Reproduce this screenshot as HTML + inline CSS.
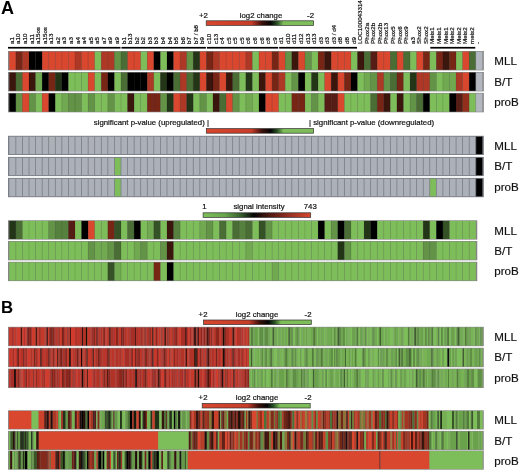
<!DOCTYPE html>
<html><head><meta charset="utf-8"><style>
html,body{margin:0;padding:0;background:#fff;}
svg{display:block;will-change:transform;}
text{font-family:"Liberation Sans",sans-serif;fill:#111;}
.big{font-size:18px;font-weight:bold;fill:#000;}
.bigb{font-size:16.8px;font-weight:bold;fill:#000;}
.cl{font-size:6.2px;fill:#111;stroke:#111;stroke-width:0.2px;}
.lt{font-size:7.8px;fill:#111;stroke:#111;stroke-width:0.2px;}
.rl{font-size:11.6px;fill:#111;stroke:#111;stroke-width:0.18px;}
</style></head><body>
<svg width="520" height="472" viewBox="0 0 520 472">
<defs><filter id="hb" x="-0.01" y="-0.1" width="1.02" height="1.2"><feGaussianBlur stdDeviation="0.45 0"/></filter><filter id="hb2" x="-0.01" y="-0.1" width="1.02" height="1.2"><feGaussianBlur stdDeviation="0.75 0"/></filter><filter id="sb" x="-0.01" y="-0.05" width="1.02" height="1.1"><feGaussianBlur stdDeviation="0.35"/></filter><filter id="tb" x="-0.05" y="-0.05" width="1.1" height="1.1"><feGaussianBlur stdDeviation="0.3"/></filter></defs>
<rect width="520" height="472" fill="#fff"/>
<text x="1" y="13.9" class="big">A</text>
<g filter="url(#tb)">
<text transform="translate(13.89,43.9) rotate(-90)" class="cl" xml:space="preserve">a1</text>
<text transform="translate(20.46,43.9) rotate(-90)" class="cl" xml:space="preserve">a10</text>
<text transform="translate(27.03,43.9) rotate(-90)" class="cl" xml:space="preserve">a10</text>
<text transform="translate(33.59,43.9) rotate(-90)" class="cl" xml:space="preserve">a11</text>
<text transform="translate(40.16,43.9) rotate(-90)" class="cl" xml:space="preserve">a15os</text>
<text transform="translate(46.73,43.9) rotate(-90)" class="cl" xml:space="preserve">a15os</text>
<text transform="translate(53.30,43.9) rotate(-90)" class="cl" xml:space="preserve">a13</text>
<text transform="translate(59.88,43.9) rotate(-90)" class="cl" xml:space="preserve">a2</text>
<text transform="translate(66.44,43.9) rotate(-90)" class="cl" xml:space="preserve">a3</text>
<text transform="translate(73.02,43.9) rotate(-90)" class="cl" xml:space="preserve">a3</text>
<text transform="translate(79.58,43.9) rotate(-90)" class="cl" xml:space="preserve">a4</text>
<text transform="translate(86.16,43.9) rotate(-90)" class="cl" xml:space="preserve">a4</text>
<text transform="translate(92.72,43.9) rotate(-90)" class="cl" xml:space="preserve">a5</text>
<text transform="translate(99.30,43.9) rotate(-90)" class="cl" xml:space="preserve">a5</text>
<text transform="translate(105.86,43.9) rotate(-90)" class="cl" xml:space="preserve">a7</text>
<text transform="translate(112.44,43.9) rotate(-90)" class="cl" xml:space="preserve">a9</text>
<text transform="translate(119.00,43.9) rotate(-90)" class="cl" xml:space="preserve">a9</text>
<text transform="translate(125.58,43.9) rotate(-90)" class="cl" xml:space="preserve">b1</text>
<text transform="translate(132.15,43.9) rotate(-90)" class="cl" xml:space="preserve">b13</text>
<text transform="translate(138.72,43.9) rotate(-90)" class="cl" xml:space="preserve">b2</text>
<text transform="translate(145.29,43.9) rotate(-90)" class="cl" xml:space="preserve">b2</text>
<text transform="translate(151.86,43.9) rotate(-90)" class="cl" xml:space="preserve">b3</text>
<text transform="translate(158.43,43.9) rotate(-90)" class="cl" xml:space="preserve">b3</text>
<text transform="translate(165.00,43.9) rotate(-90)" class="cl" xml:space="preserve">b4</text>
<text transform="translate(171.57,43.9) rotate(-90)" class="cl" xml:space="preserve">b4</text>
<text transform="translate(178.14,43.9) rotate(-90)" class="cl" xml:space="preserve">b5</text>
<text transform="translate(184.71,43.9) rotate(-90)" class="cl" xml:space="preserve">b6</text>
<text transform="translate(191.28,43.9) rotate(-90)" class="cl" xml:space="preserve">b7</text>
<text transform="translate(197.85,43.9) rotate(-90)" class="cl" xml:space="preserve">b7 / b8</text>
<text transform="translate(204.42,43.9) rotate(-90)" class="cl" xml:space="preserve">b9</text>
<text transform="translate(210.99,43.9) rotate(-90)" class="cl" xml:space="preserve">c10</text>
<text transform="translate(217.56,43.9) rotate(-90)" class="cl" xml:space="preserve">c13</text>
<text transform="translate(224.13,43.9) rotate(-90)" class="cl" xml:space="preserve">c4</text>
<text transform="translate(230.70,43.9) rotate(-90)" class="cl" xml:space="preserve">c5</text>
<text transform="translate(237.27,43.9) rotate(-90)" class="cl" xml:space="preserve">c5</text>
<text transform="translate(243.84,43.9) rotate(-90)" class="cl" xml:space="preserve">c5</text>
<text transform="translate(250.41,43.9) rotate(-90)" class="cl" xml:space="preserve">c6</text>
<text transform="translate(256.98,43.9) rotate(-90)" class="cl" xml:space="preserve">c6</text>
<text transform="translate(263.55,43.9) rotate(-90)" class="cl" xml:space="preserve">c6</text>
<text transform="translate(270.12,43.9) rotate(-90)" class="cl" xml:space="preserve">c8</text>
<text transform="translate(276.69,43.9) rotate(-90)" class="cl" xml:space="preserve">c9</text>
<text transform="translate(283.26,43.9) rotate(-90)" class="cl" xml:space="preserve">d1</text>
<text transform="translate(289.83,43.9) rotate(-90)" class="cl" xml:space="preserve">d10</text>
<text transform="translate(296.40,43.9) rotate(-90)" class="cl" xml:space="preserve">d11</text>
<text transform="translate(302.97,43.9) rotate(-90)" class="cl" xml:space="preserve">d12</text>
<text transform="translate(309.54,43.9) rotate(-90)" class="cl" xml:space="preserve">d13</text>
<text transform="translate(316.11,43.9) rotate(-90)" class="cl" xml:space="preserve">d13</text>
<text transform="translate(322.68,43.9) rotate(-90)" class="cl" xml:space="preserve">d3</text>
<text transform="translate(329.25,43.9) rotate(-90)" class="cl" xml:space="preserve">d3</text>
<text transform="translate(335.82,43.9) rotate(-90)" class="cl" xml:space="preserve">d3 / d4</text>
<text transform="translate(342.39,43.9) rotate(-90)" class="cl" xml:space="preserve">d8</text>
<text transform="translate(348.96,43.9) rotate(-90)" class="cl" xml:space="preserve">d8</text>
<text transform="translate(355.53,43.9) rotate(-90)" class="cl" xml:space="preserve">d9</text>
<text transform="translate(362.10,43.9) rotate(-90)" class="cl" xml:space="preserve">LOC100043314</text>
<text transform="translate(368.67,43.9) rotate(-90)" class="cl" xml:space="preserve">Phox2a</text>
<text transform="translate(375.24,43.9) rotate(-90)" class="cl" xml:space="preserve">Phox2b</text>
<text transform="translate(381.81,43.9) rotate(-90)" class="cl" xml:space="preserve">Phox2b</text>
<text transform="translate(388.38,43.9) rotate(-90)" class="cl" xml:space="preserve">Phox13</text>
<text transform="translate(394.95,43.9) rotate(-90)" class="cl" xml:space="preserve">Phox5</text>
<text transform="translate(401.52,43.9) rotate(-90)" class="cl" xml:space="preserve">Phox6</text>
<text transform="translate(408.09,43.9) rotate(-90)" class="cl" xml:space="preserve">Phox9</text>
<text transform="translate(414.66,43.9) rotate(-90)" class="cl" xml:space="preserve">a3</text>
<text transform="translate(421.23,43.9) rotate(-90)" class="cl" xml:space="preserve">Shox2</text>
<text transform="translate(427.80,43.9) rotate(-90)" class="cl" xml:space="preserve">Shox2</text>
<text transform="translate(434.37,43.9) rotate(-90)" class="cl" xml:space="preserve">Meis1</text>
<text transform="translate(440.94,43.9) rotate(-90)" class="cl" xml:space="preserve">Meis1</text>
<text transform="translate(447.51,43.9) rotate(-90)" class="cl" xml:space="preserve">Meis1</text>
<text transform="translate(454.08,43.9) rotate(-90)" class="cl" xml:space="preserve">Meis2</text>
<text transform="translate(460.65,43.9) rotate(-90)" class="cl" xml:space="preserve">Meis2</text>
<text transform="translate(467.22,43.9) rotate(-90)" class="cl" xml:space="preserve">Meis2</text>
<text transform="translate(473.79,43.9) rotate(-90)" class="cl" xml:space="preserve">meis2</text>
<text transform="translate(480.36,43.9) rotate(-90)" class="cl" xml:space="preserve">-</text>
</g>
<rect x="8.00" y="46.9" width="112.49" height="1.7" fill="#000"/>
<rect x="121.49" y="46.9" width="84.41" height="1.7" fill="#000"/>
<rect x="206.90" y="46.9" width="71.27" height="1.7" fill="#000"/>
<rect x="279.17" y="46.9" width="77.84" height="1.7" fill="#000"/>
<rect x="430.28" y="46.9" width="44.99" height="1.7" fill="#000"/>
<text x="199" y="17.6" class="lt">+2</text>
<text x="261" y="17.6" class="lt" text-anchor="middle">log2 change</text>
<text x="314" y="17.6" class="lt" text-anchor="end">-2</text>
<defs><linearGradient id="lg83" x1="0" x2="1" y1="0" y2="0"><stop offset="0" stop-color="#d8462e"/><stop offset="0.42" stop-color="#c83c28"/><stop offset="0.52" stop-color="#3c0f0a"/><stop offset="0.6" stop-color="#050505"/><stop offset="0.66" stop-color="#285023"/><stop offset="0.72" stop-color="#7ebe5a"/><stop offset="1" stop-color="#7ebe5a"/></linearGradient></defs>
<rect x="206.20" y="20.80" width="107.40" height="4.6" fill="url(#lg83)" stroke="#333" stroke-width="0.7"/>
<g filter="url(#sb)">
<rect x="8.00" y="51.00" width="475.84" height="19.40" fill="#858585"/>
<rect x="9.30" y="51.60" width="6.59" height="18.20" fill="#d8462e"/>
<rect x="15.87" y="51.60" width="6.59" height="18.20" fill="#772619"/>
<rect x="22.44" y="51.60" width="6.59" height="18.20" fill="#ad3825"/>
<rect x="29.01" y="51.60" width="6.59" height="18.20" fill="#000000"/>
<rect x="35.58" y="51.60" width="6.59" height="18.20" fill="#000000"/>
<rect x="42.15" y="51.60" width="6.59" height="18.20" fill="#d8462e"/>
<rect x="48.72" y="51.60" width="6.59" height="18.20" fill="#d8462e"/>
<rect x="55.29" y="51.60" width="6.59" height="18.20" fill="#d8462e"/>
<rect x="61.86" y="51.60" width="6.59" height="18.20" fill="#d8462e"/>
<rect x="68.43" y="51.60" width="6.59" height="18.20" fill="#d8462e"/>
<rect x="75.00" y="51.60" width="6.59" height="18.20" fill="#ad3825"/>
<rect x="81.57" y="51.60" width="6.59" height="18.20" fill="#d8462e"/>
<rect x="88.14" y="51.60" width="6.59" height="18.20" fill="#d8462e"/>
<rect x="94.71" y="51.60" width="6.59" height="18.20" fill="#7ebe5a"/>
<rect x="101.28" y="51.60" width="6.59" height="18.20" fill="#ad3825"/>
<rect x="107.85" y="51.60" width="6.59" height="18.20" fill="#ad3825"/>
<rect x="114.42" y="51.60" width="6.59" height="18.20" fill="#629346"/>
<rect x="120.99" y="51.60" width="6.59" height="18.20" fill="#486d34"/>
<rect x="127.56" y="51.60" width="6.59" height="18.20" fill="#d8462e"/>
<rect x="134.13" y="51.60" width="6.59" height="18.20" fill="#d8462e"/>
<rect x="140.70" y="51.60" width="6.59" height="18.20" fill="#7ebe5a"/>
<rect x="147.27" y="51.60" width="6.59" height="18.20" fill="#d8462e"/>
<rect x="153.84" y="51.60" width="6.59" height="18.20" fill="#000000"/>
<rect x="160.41" y="51.60" width="6.59" height="18.20" fill="#7ebe5a"/>
<rect x="166.98" y="51.60" width="6.59" height="18.20" fill="#000000"/>
<rect x="173.55" y="51.60" width="6.59" height="18.20" fill="#d8462e"/>
<rect x="180.12" y="51.60" width="6.59" height="18.20" fill="#ad3825"/>
<rect x="186.69" y="51.60" width="6.59" height="18.20" fill="#629346"/>
<rect x="193.26" y="51.60" width="6.59" height="18.20" fill="#233419"/>
<rect x="199.83" y="51.60" width="6.59" height="18.20" fill="#d8462e"/>
<rect x="206.40" y="51.60" width="6.59" height="18.20" fill="#772619"/>
<rect x="212.97" y="51.60" width="6.59" height="18.20" fill="#ad3825"/>
<rect x="219.54" y="51.60" width="6.59" height="18.20" fill="#d8462e"/>
<rect x="226.11" y="51.60" width="6.59" height="18.20" fill="#d8462e"/>
<rect x="232.68" y="51.60" width="6.59" height="18.20" fill="#d8462e"/>
<rect x="239.25" y="51.60" width="6.59" height="18.20" fill="#d8462e"/>
<rect x="245.82" y="51.60" width="6.59" height="18.20" fill="#ad3825"/>
<rect x="252.39" y="51.60" width="6.59" height="18.20" fill="#7ebe5a"/>
<rect x="258.96" y="51.60" width="6.59" height="18.20" fill="#d8462e"/>
<rect x="265.53" y="51.60" width="6.59" height="18.20" fill="#d8462e"/>
<rect x="272.10" y="51.60" width="6.59" height="18.20" fill="#772619"/>
<rect x="278.67" y="51.60" width="6.59" height="18.20" fill="#d8462e"/>
<rect x="285.24" y="51.60" width="6.59" height="18.20" fill="#629346"/>
<rect x="291.81" y="51.60" width="6.59" height="18.20" fill="#3b130d"/>
<rect x="298.38" y="51.60" width="6.59" height="18.20" fill="#d8462e"/>
<rect x="304.95" y="51.60" width="6.59" height="18.20" fill="#629346"/>
<rect x="311.52" y="51.60" width="6.59" height="18.20" fill="#7ebe5a"/>
<rect x="318.09" y="51.60" width="6.59" height="18.20" fill="#772619"/>
<rect x="324.66" y="51.60" width="6.59" height="18.20" fill="#3b130d"/>
<rect x="331.23" y="51.60" width="6.59" height="18.20" fill="#d8462e"/>
<rect x="337.80" y="51.60" width="6.59" height="18.20" fill="#d8462e"/>
<rect x="344.37" y="51.60" width="6.59" height="18.20" fill="#d8462e"/>
<rect x="350.94" y="51.60" width="6.59" height="18.20" fill="#7ebe5a"/>
<rect x="357.51" y="51.60" width="6.59" height="18.20" fill="#3b130d"/>
<rect x="364.08" y="51.60" width="6.59" height="18.20" fill="#486d34"/>
<rect x="370.65" y="51.60" width="6.59" height="18.20" fill="#561c12"/>
<rect x="377.22" y="51.60" width="6.59" height="18.20" fill="#d8462e"/>
<rect x="383.79" y="51.60" width="6.59" height="18.20" fill="#d8462e"/>
<rect x="390.36" y="51.60" width="6.59" height="18.20" fill="#486d34"/>
<rect x="396.93" y="51.60" width="6.59" height="18.20" fill="#d8462e"/>
<rect x="403.50" y="51.60" width="6.59" height="18.20" fill="#486d34"/>
<rect x="410.07" y="51.60" width="6.59" height="18.20" fill="#7ebe5a"/>
<rect x="416.64" y="51.60" width="6.59" height="18.20" fill="#d8462e"/>
<rect x="423.21" y="51.60" width="6.59" height="18.20" fill="#772619"/>
<rect x="429.78" y="51.60" width="6.59" height="18.20" fill="#7ebe5a"/>
<rect x="436.35" y="51.60" width="6.59" height="18.20" fill="#772619"/>
<rect x="442.92" y="51.60" width="6.59" height="18.20" fill="#3b130d"/>
<rect x="449.49" y="51.60" width="6.59" height="18.20" fill="#772619"/>
<rect x="456.06" y="51.60" width="6.59" height="18.20" fill="#7ebe5a"/>
<rect x="462.63" y="51.60" width="6.59" height="18.20" fill="#d8462e"/>
<rect x="469.20" y="51.60" width="6.59" height="18.20" fill="#486d34"/>
<rect x="475.77" y="51.60" width="6.59" height="18.20" fill="#b2b7c0"/>
<rect x="15.52" y="51.60" width="0.7" height="18.20" fill="rgba(0,0,0,0.16)"/>
<rect x="22.09" y="51.60" width="0.7" height="18.20" fill="rgba(0,0,0,0.16)"/>
<rect x="28.66" y="51.60" width="0.7" height="18.20" fill="rgba(0,0,0,0.16)"/>
<rect x="35.23" y="51.60" width="0.7" height="18.20" fill="rgba(0,0,0,0.16)"/>
<rect x="41.80" y="51.60" width="0.7" height="18.20" fill="rgba(0,0,0,0.16)"/>
<rect x="48.37" y="51.60" width="0.7" height="18.20" fill="rgba(0,0,0,0.16)"/>
<rect x="54.94" y="51.60" width="0.7" height="18.20" fill="rgba(0,0,0,0.16)"/>
<rect x="61.51" y="51.60" width="0.7" height="18.20" fill="rgba(0,0,0,0.16)"/>
<rect x="68.08" y="51.60" width="0.7" height="18.20" fill="rgba(0,0,0,0.16)"/>
<rect x="74.65" y="51.60" width="0.7" height="18.20" fill="rgba(0,0,0,0.16)"/>
<rect x="81.22" y="51.60" width="0.7" height="18.20" fill="rgba(0,0,0,0.16)"/>
<rect x="87.79" y="51.60" width="0.7" height="18.20" fill="rgba(0,0,0,0.16)"/>
<rect x="94.36" y="51.60" width="0.7" height="18.20" fill="rgba(0,0,0,0.16)"/>
<rect x="100.93" y="51.60" width="0.7" height="18.20" fill="rgba(0,0,0,0.16)"/>
<rect x="107.50" y="51.60" width="0.7" height="18.20" fill="rgba(0,0,0,0.16)"/>
<rect x="114.07" y="51.60" width="0.7" height="18.20" fill="rgba(0,0,0,0.16)"/>
<rect x="120.64" y="51.60" width="0.7" height="18.20" fill="rgba(0,0,0,0.16)"/>
<rect x="127.21" y="51.60" width="0.7" height="18.20" fill="rgba(0,0,0,0.16)"/>
<rect x="133.78" y="51.60" width="0.7" height="18.20" fill="rgba(0,0,0,0.16)"/>
<rect x="140.35" y="51.60" width="0.7" height="18.20" fill="rgba(0,0,0,0.16)"/>
<rect x="146.92" y="51.60" width="0.7" height="18.20" fill="rgba(0,0,0,0.16)"/>
<rect x="153.49" y="51.60" width="0.7" height="18.20" fill="rgba(0,0,0,0.16)"/>
<rect x="160.06" y="51.60" width="0.7" height="18.20" fill="rgba(0,0,0,0.16)"/>
<rect x="166.63" y="51.60" width="0.7" height="18.20" fill="rgba(0,0,0,0.16)"/>
<rect x="173.20" y="51.60" width="0.7" height="18.20" fill="rgba(0,0,0,0.16)"/>
<rect x="179.77" y="51.60" width="0.7" height="18.20" fill="rgba(0,0,0,0.16)"/>
<rect x="186.34" y="51.60" width="0.7" height="18.20" fill="rgba(0,0,0,0.16)"/>
<rect x="192.91" y="51.60" width="0.7" height="18.20" fill="rgba(0,0,0,0.16)"/>
<rect x="199.48" y="51.60" width="0.7" height="18.20" fill="rgba(0,0,0,0.16)"/>
<rect x="206.05" y="51.60" width="0.7" height="18.20" fill="rgba(0,0,0,0.16)"/>
<rect x="212.62" y="51.60" width="0.7" height="18.20" fill="rgba(0,0,0,0.16)"/>
<rect x="219.19" y="51.60" width="0.7" height="18.20" fill="rgba(0,0,0,0.16)"/>
<rect x="225.76" y="51.60" width="0.7" height="18.20" fill="rgba(0,0,0,0.16)"/>
<rect x="232.33" y="51.60" width="0.7" height="18.20" fill="rgba(0,0,0,0.16)"/>
<rect x="238.90" y="51.60" width="0.7" height="18.20" fill="rgba(0,0,0,0.16)"/>
<rect x="245.47" y="51.60" width="0.7" height="18.20" fill="rgba(0,0,0,0.16)"/>
<rect x="252.04" y="51.60" width="0.7" height="18.20" fill="rgba(0,0,0,0.16)"/>
<rect x="258.61" y="51.60" width="0.7" height="18.20" fill="rgba(0,0,0,0.16)"/>
<rect x="265.18" y="51.60" width="0.7" height="18.20" fill="rgba(0,0,0,0.16)"/>
<rect x="271.75" y="51.60" width="0.7" height="18.20" fill="rgba(0,0,0,0.16)"/>
<rect x="278.32" y="51.60" width="0.7" height="18.20" fill="rgba(0,0,0,0.16)"/>
<rect x="284.89" y="51.60" width="0.7" height="18.20" fill="rgba(0,0,0,0.16)"/>
<rect x="291.46" y="51.60" width="0.7" height="18.20" fill="rgba(0,0,0,0.16)"/>
<rect x="298.03" y="51.60" width="0.7" height="18.20" fill="rgba(0,0,0,0.16)"/>
<rect x="304.60" y="51.60" width="0.7" height="18.20" fill="rgba(0,0,0,0.16)"/>
<rect x="311.17" y="51.60" width="0.7" height="18.20" fill="rgba(0,0,0,0.16)"/>
<rect x="317.74" y="51.60" width="0.7" height="18.20" fill="rgba(0,0,0,0.16)"/>
<rect x="324.31" y="51.60" width="0.7" height="18.20" fill="rgba(0,0,0,0.16)"/>
<rect x="330.88" y="51.60" width="0.7" height="18.20" fill="rgba(0,0,0,0.16)"/>
<rect x="337.45" y="51.60" width="0.7" height="18.20" fill="rgba(0,0,0,0.16)"/>
<rect x="344.02" y="51.60" width="0.7" height="18.20" fill="rgba(0,0,0,0.16)"/>
<rect x="350.59" y="51.60" width="0.7" height="18.20" fill="rgba(0,0,0,0.16)"/>
<rect x="357.16" y="51.60" width="0.7" height="18.20" fill="rgba(0,0,0,0.16)"/>
<rect x="363.73" y="51.60" width="0.7" height="18.20" fill="rgba(0,0,0,0.16)"/>
<rect x="370.30" y="51.60" width="0.7" height="18.20" fill="rgba(0,0,0,0.16)"/>
<rect x="376.87" y="51.60" width="0.7" height="18.20" fill="rgba(0,0,0,0.16)"/>
<rect x="383.44" y="51.60" width="0.7" height="18.20" fill="rgba(0,0,0,0.16)"/>
<rect x="390.01" y="51.60" width="0.7" height="18.20" fill="rgba(0,0,0,0.16)"/>
<rect x="396.58" y="51.60" width="0.7" height="18.20" fill="rgba(0,0,0,0.16)"/>
<rect x="403.15" y="51.60" width="0.7" height="18.20" fill="rgba(0,0,0,0.16)"/>
<rect x="409.72" y="51.60" width="0.7" height="18.20" fill="rgba(0,0,0,0.16)"/>
<rect x="416.29" y="51.60" width="0.7" height="18.20" fill="rgba(0,0,0,0.16)"/>
<rect x="422.86" y="51.60" width="0.7" height="18.20" fill="rgba(0,0,0,0.16)"/>
<rect x="429.43" y="51.60" width="0.7" height="18.20" fill="rgba(0,0,0,0.16)"/>
<rect x="436.00" y="51.60" width="0.7" height="18.20" fill="rgba(0,0,0,0.16)"/>
<rect x="442.57" y="51.60" width="0.7" height="18.20" fill="rgba(0,0,0,0.16)"/>
<rect x="449.14" y="51.60" width="0.7" height="18.20" fill="rgba(0,0,0,0.16)"/>
<rect x="455.71" y="51.60" width="0.7" height="18.20" fill="rgba(0,0,0,0.16)"/>
<rect x="462.28" y="51.60" width="0.7" height="18.20" fill="rgba(0,0,0,0.16)"/>
<rect x="468.85" y="51.60" width="0.7" height="18.20" fill="rgba(0,0,0,0.16)"/>
<rect x="475.42" y="51.60" width="0.7" height="18.20" fill="rgba(0,0,0,0.16)"/>
<rect x="8.00" y="72.00" width="475.84" height="19.40" fill="#858585"/>
<rect x="9.30" y="72.60" width="6.59" height="18.20" fill="#3b130d"/>
<rect x="15.87" y="72.60" width="6.59" height="18.20" fill="#486d34"/>
<rect x="22.44" y="72.60" width="6.59" height="18.20" fill="#d8462e"/>
<rect x="29.01" y="72.60" width="6.59" height="18.20" fill="#3b130d"/>
<rect x="35.58" y="72.60" width="6.59" height="18.20" fill="#70a950"/>
<rect x="42.15" y="72.60" width="6.59" height="18.20" fill="#000000"/>
<rect x="48.72" y="72.60" width="6.59" height="18.20" fill="#772619"/>
<rect x="55.29" y="72.60" width="6.59" height="18.20" fill="#233419"/>
<rect x="61.86" y="72.60" width="6.59" height="18.20" fill="#000000"/>
<rect x="68.43" y="72.60" width="6.59" height="18.20" fill="#7ebe5a"/>
<rect x="75.00" y="72.60" width="6.59" height="18.20" fill="#7ebe5a"/>
<rect x="81.57" y="72.60" width="6.59" height="18.20" fill="#7ebe5a"/>
<rect x="88.14" y="72.60" width="6.59" height="18.20" fill="#d8462e"/>
<rect x="94.71" y="72.60" width="6.59" height="18.20" fill="#7ebe5a"/>
<rect x="101.28" y="72.60" width="6.59" height="18.20" fill="#772619"/>
<rect x="107.85" y="72.60" width="6.59" height="18.20" fill="#000000"/>
<rect x="114.42" y="72.60" width="6.59" height="18.20" fill="#7ebe5a"/>
<rect x="120.99" y="72.60" width="6.59" height="18.20" fill="#486d34"/>
<rect x="127.56" y="72.60" width="6.59" height="18.20" fill="#000000"/>
<rect x="134.13" y="72.60" width="6.59" height="18.20" fill="#000000"/>
<rect x="140.70" y="72.60" width="6.59" height="18.20" fill="#000000"/>
<rect x="147.27" y="72.60" width="6.59" height="18.20" fill="#ad3825"/>
<rect x="153.84" y="72.60" width="6.59" height="18.20" fill="#7ebe5a"/>
<rect x="160.41" y="72.60" width="6.59" height="18.20" fill="#233419"/>
<rect x="166.98" y="72.60" width="6.59" height="18.20" fill="#000000"/>
<rect x="173.55" y="72.60" width="6.59" height="18.20" fill="#486d34"/>
<rect x="180.12" y="72.60" width="6.59" height="18.20" fill="#ad3825"/>
<rect x="186.69" y="72.60" width="6.59" height="18.20" fill="#486d34"/>
<rect x="193.26" y="72.60" width="6.59" height="18.20" fill="#233419"/>
<rect x="199.83" y="72.60" width="6.59" height="18.20" fill="#d8462e"/>
<rect x="206.40" y="72.60" width="6.59" height="18.20" fill="#3b130d"/>
<rect x="212.97" y="72.60" width="6.59" height="18.20" fill="#772619"/>
<rect x="219.54" y="72.60" width="6.59" height="18.20" fill="#d8462e"/>
<rect x="226.11" y="72.60" width="6.59" height="18.20" fill="#3b130d"/>
<rect x="232.68" y="72.60" width="6.59" height="18.20" fill="#486d34"/>
<rect x="239.25" y="72.60" width="6.59" height="18.20" fill="#7ebe5a"/>
<rect x="245.82" y="72.60" width="6.59" height="18.20" fill="#233419"/>
<rect x="252.39" y="72.60" width="6.59" height="18.20" fill="#7ebe5a"/>
<rect x="258.96" y="72.60" width="6.59" height="18.20" fill="#3b130d"/>
<rect x="265.53" y="72.60" width="6.59" height="18.20" fill="#d8462e"/>
<rect x="272.10" y="72.60" width="6.59" height="18.20" fill="#772619"/>
<rect x="278.67" y="72.60" width="6.59" height="18.20" fill="#ad3825"/>
<rect x="285.24" y="72.60" width="6.59" height="18.20" fill="#7ebe5a"/>
<rect x="291.81" y="72.60" width="6.59" height="18.20" fill="#629346"/>
<rect x="298.38" y="72.60" width="6.59" height="18.20" fill="#000000"/>
<rect x="304.95" y="72.60" width="6.59" height="18.20" fill="#7ebe5a"/>
<rect x="311.52" y="72.60" width="6.59" height="18.20" fill="#233419"/>
<rect x="318.09" y="72.60" width="6.59" height="18.20" fill="#7ebe5a"/>
<rect x="324.66" y="72.60" width="6.59" height="18.20" fill="#d8462e"/>
<rect x="331.23" y="72.60" width="6.59" height="18.20" fill="#3b130d"/>
<rect x="337.80" y="72.60" width="6.59" height="18.20" fill="#d8462e"/>
<rect x="344.37" y="72.60" width="6.59" height="18.20" fill="#772619"/>
<rect x="350.94" y="72.60" width="6.59" height="18.20" fill="#000000"/>
<rect x="357.51" y="72.60" width="6.59" height="18.20" fill="#7ebe5a"/>
<rect x="364.08" y="72.60" width="6.59" height="18.20" fill="#70a950"/>
<rect x="370.65" y="72.60" width="6.59" height="18.20" fill="#629346"/>
<rect x="377.22" y="72.60" width="6.59" height="18.20" fill="#ad3825"/>
<rect x="383.79" y="72.60" width="6.59" height="18.20" fill="#629346"/>
<rect x="390.36" y="72.60" width="6.59" height="18.20" fill="#486d34"/>
<rect x="396.93" y="72.60" width="6.59" height="18.20" fill="#772619"/>
<rect x="403.50" y="72.60" width="6.59" height="18.20" fill="#7ebe5a"/>
<rect x="410.07" y="72.60" width="6.59" height="18.20" fill="#233419"/>
<rect x="416.64" y="72.60" width="6.59" height="18.20" fill="#ad3825"/>
<rect x="423.21" y="72.60" width="6.59" height="18.20" fill="#ad3825"/>
<rect x="429.78" y="72.60" width="6.59" height="18.20" fill="#629346"/>
<rect x="436.35" y="72.60" width="6.59" height="18.20" fill="#7ebe5a"/>
<rect x="442.92" y="72.60" width="6.59" height="18.20" fill="#70a950"/>
<rect x="449.49" y="72.60" width="6.59" height="18.20" fill="#70a950"/>
<rect x="456.06" y="72.60" width="6.59" height="18.20" fill="#ad3825"/>
<rect x="462.63" y="72.60" width="6.59" height="18.20" fill="#d8462e"/>
<rect x="469.20" y="72.60" width="6.59" height="18.20" fill="#000000"/>
<rect x="475.77" y="72.60" width="6.59" height="18.20" fill="#b2b7c0"/>
<rect x="15.52" y="72.60" width="0.7" height="18.20" fill="rgba(0,0,0,0.16)"/>
<rect x="22.09" y="72.60" width="0.7" height="18.20" fill="rgba(0,0,0,0.16)"/>
<rect x="28.66" y="72.60" width="0.7" height="18.20" fill="rgba(0,0,0,0.16)"/>
<rect x="35.23" y="72.60" width="0.7" height="18.20" fill="rgba(0,0,0,0.16)"/>
<rect x="41.80" y="72.60" width="0.7" height="18.20" fill="rgba(0,0,0,0.16)"/>
<rect x="48.37" y="72.60" width="0.7" height="18.20" fill="rgba(0,0,0,0.16)"/>
<rect x="54.94" y="72.60" width="0.7" height="18.20" fill="rgba(0,0,0,0.16)"/>
<rect x="61.51" y="72.60" width="0.7" height="18.20" fill="rgba(0,0,0,0.16)"/>
<rect x="68.08" y="72.60" width="0.7" height="18.20" fill="rgba(0,0,0,0.16)"/>
<rect x="74.65" y="72.60" width="0.7" height="18.20" fill="rgba(0,0,0,0.16)"/>
<rect x="81.22" y="72.60" width="0.7" height="18.20" fill="rgba(0,0,0,0.16)"/>
<rect x="87.79" y="72.60" width="0.7" height="18.20" fill="rgba(0,0,0,0.16)"/>
<rect x="94.36" y="72.60" width="0.7" height="18.20" fill="rgba(0,0,0,0.16)"/>
<rect x="100.93" y="72.60" width="0.7" height="18.20" fill="rgba(0,0,0,0.16)"/>
<rect x="107.50" y="72.60" width="0.7" height="18.20" fill="rgba(0,0,0,0.16)"/>
<rect x="114.07" y="72.60" width="0.7" height="18.20" fill="rgba(0,0,0,0.16)"/>
<rect x="120.64" y="72.60" width="0.7" height="18.20" fill="rgba(0,0,0,0.16)"/>
<rect x="127.21" y="72.60" width="0.7" height="18.20" fill="rgba(0,0,0,0.16)"/>
<rect x="133.78" y="72.60" width="0.7" height="18.20" fill="rgba(0,0,0,0.16)"/>
<rect x="140.35" y="72.60" width="0.7" height="18.20" fill="rgba(0,0,0,0.16)"/>
<rect x="146.92" y="72.60" width="0.7" height="18.20" fill="rgba(0,0,0,0.16)"/>
<rect x="153.49" y="72.60" width="0.7" height="18.20" fill="rgba(0,0,0,0.16)"/>
<rect x="160.06" y="72.60" width="0.7" height="18.20" fill="rgba(0,0,0,0.16)"/>
<rect x="166.63" y="72.60" width="0.7" height="18.20" fill="rgba(0,0,0,0.16)"/>
<rect x="173.20" y="72.60" width="0.7" height="18.20" fill="rgba(0,0,0,0.16)"/>
<rect x="179.77" y="72.60" width="0.7" height="18.20" fill="rgba(0,0,0,0.16)"/>
<rect x="186.34" y="72.60" width="0.7" height="18.20" fill="rgba(0,0,0,0.16)"/>
<rect x="192.91" y="72.60" width="0.7" height="18.20" fill="rgba(0,0,0,0.16)"/>
<rect x="199.48" y="72.60" width="0.7" height="18.20" fill="rgba(0,0,0,0.16)"/>
<rect x="206.05" y="72.60" width="0.7" height="18.20" fill="rgba(0,0,0,0.16)"/>
<rect x="212.62" y="72.60" width="0.7" height="18.20" fill="rgba(0,0,0,0.16)"/>
<rect x="219.19" y="72.60" width="0.7" height="18.20" fill="rgba(0,0,0,0.16)"/>
<rect x="225.76" y="72.60" width="0.7" height="18.20" fill="rgba(0,0,0,0.16)"/>
<rect x="232.33" y="72.60" width="0.7" height="18.20" fill="rgba(0,0,0,0.16)"/>
<rect x="238.90" y="72.60" width="0.7" height="18.20" fill="rgba(0,0,0,0.16)"/>
<rect x="245.47" y="72.60" width="0.7" height="18.20" fill="rgba(0,0,0,0.16)"/>
<rect x="252.04" y="72.60" width="0.7" height="18.20" fill="rgba(0,0,0,0.16)"/>
<rect x="258.61" y="72.60" width="0.7" height="18.20" fill="rgba(0,0,0,0.16)"/>
<rect x="265.18" y="72.60" width="0.7" height="18.20" fill="rgba(0,0,0,0.16)"/>
<rect x="271.75" y="72.60" width="0.7" height="18.20" fill="rgba(0,0,0,0.16)"/>
<rect x="278.32" y="72.60" width="0.7" height="18.20" fill="rgba(0,0,0,0.16)"/>
<rect x="284.89" y="72.60" width="0.7" height="18.20" fill="rgba(0,0,0,0.16)"/>
<rect x="291.46" y="72.60" width="0.7" height="18.20" fill="rgba(0,0,0,0.16)"/>
<rect x="298.03" y="72.60" width="0.7" height="18.20" fill="rgba(0,0,0,0.16)"/>
<rect x="304.60" y="72.60" width="0.7" height="18.20" fill="rgba(0,0,0,0.16)"/>
<rect x="311.17" y="72.60" width="0.7" height="18.20" fill="rgba(0,0,0,0.16)"/>
<rect x="317.74" y="72.60" width="0.7" height="18.20" fill="rgba(0,0,0,0.16)"/>
<rect x="324.31" y="72.60" width="0.7" height="18.20" fill="rgba(0,0,0,0.16)"/>
<rect x="330.88" y="72.60" width="0.7" height="18.20" fill="rgba(0,0,0,0.16)"/>
<rect x="337.45" y="72.60" width="0.7" height="18.20" fill="rgba(0,0,0,0.16)"/>
<rect x="344.02" y="72.60" width="0.7" height="18.20" fill="rgba(0,0,0,0.16)"/>
<rect x="350.59" y="72.60" width="0.7" height="18.20" fill="rgba(0,0,0,0.16)"/>
<rect x="357.16" y="72.60" width="0.7" height="18.20" fill="rgba(0,0,0,0.16)"/>
<rect x="363.73" y="72.60" width="0.7" height="18.20" fill="rgba(0,0,0,0.16)"/>
<rect x="370.30" y="72.60" width="0.7" height="18.20" fill="rgba(0,0,0,0.16)"/>
<rect x="376.87" y="72.60" width="0.7" height="18.20" fill="rgba(0,0,0,0.16)"/>
<rect x="383.44" y="72.60" width="0.7" height="18.20" fill="rgba(0,0,0,0.16)"/>
<rect x="390.01" y="72.60" width="0.7" height="18.20" fill="rgba(0,0,0,0.16)"/>
<rect x="396.58" y="72.60" width="0.7" height="18.20" fill="rgba(0,0,0,0.16)"/>
<rect x="403.15" y="72.60" width="0.7" height="18.20" fill="rgba(0,0,0,0.16)"/>
<rect x="409.72" y="72.60" width="0.7" height="18.20" fill="rgba(0,0,0,0.16)"/>
<rect x="416.29" y="72.60" width="0.7" height="18.20" fill="rgba(0,0,0,0.16)"/>
<rect x="422.86" y="72.60" width="0.7" height="18.20" fill="rgba(0,0,0,0.16)"/>
<rect x="429.43" y="72.60" width="0.7" height="18.20" fill="rgba(0,0,0,0.16)"/>
<rect x="436.00" y="72.60" width="0.7" height="18.20" fill="rgba(0,0,0,0.16)"/>
<rect x="442.57" y="72.60" width="0.7" height="18.20" fill="rgba(0,0,0,0.16)"/>
<rect x="449.14" y="72.60" width="0.7" height="18.20" fill="rgba(0,0,0,0.16)"/>
<rect x="455.71" y="72.60" width="0.7" height="18.20" fill="rgba(0,0,0,0.16)"/>
<rect x="462.28" y="72.60" width="0.7" height="18.20" fill="rgba(0,0,0,0.16)"/>
<rect x="468.85" y="72.60" width="0.7" height="18.20" fill="rgba(0,0,0,0.16)"/>
<rect x="475.42" y="72.60" width="0.7" height="18.20" fill="rgba(0,0,0,0.16)"/>
<rect x="8.00" y="92.90" width="475.84" height="19.40" fill="#858585"/>
<rect x="9.30" y="93.50" width="6.59" height="18.20" fill="#000000"/>
<rect x="15.87" y="93.50" width="6.59" height="18.20" fill="#629346"/>
<rect x="22.44" y="93.50" width="6.59" height="18.20" fill="#d8462e"/>
<rect x="29.01" y="93.50" width="6.59" height="18.20" fill="#629346"/>
<rect x="35.58" y="93.50" width="6.59" height="18.20" fill="#7ebe5a"/>
<rect x="42.15" y="93.50" width="6.59" height="18.20" fill="#d8462e"/>
<rect x="48.72" y="93.50" width="6.59" height="18.20" fill="#000000"/>
<rect x="55.29" y="93.50" width="6.59" height="18.20" fill="#7ebe5a"/>
<rect x="61.86" y="93.50" width="6.59" height="18.20" fill="#70a950"/>
<rect x="68.43" y="93.50" width="6.59" height="18.20" fill="#629346"/>
<rect x="75.00" y="93.50" width="6.59" height="18.20" fill="#629346"/>
<rect x="81.57" y="93.50" width="6.59" height="18.20" fill="#7ebe5a"/>
<rect x="88.14" y="93.50" width="6.59" height="18.20" fill="#629346"/>
<rect x="94.71" y="93.50" width="6.59" height="18.20" fill="#7ebe5a"/>
<rect x="101.28" y="93.50" width="6.59" height="18.20" fill="#7ebe5a"/>
<rect x="107.85" y="93.50" width="6.59" height="18.20" fill="#629346"/>
<rect x="114.42" y="93.50" width="6.59" height="18.20" fill="#7ebe5a"/>
<rect x="120.99" y="93.50" width="6.59" height="18.20" fill="#7ebe5a"/>
<rect x="127.56" y="93.50" width="6.59" height="18.20" fill="#3b130d"/>
<rect x="134.13" y="93.50" width="6.59" height="18.20" fill="#7ebe5a"/>
<rect x="140.70" y="93.50" width="6.59" height="18.20" fill="#7ebe5a"/>
<rect x="147.27" y="93.50" width="6.59" height="18.20" fill="#772619"/>
<rect x="153.84" y="93.50" width="6.59" height="18.20" fill="#772619"/>
<rect x="160.41" y="93.50" width="6.59" height="18.20" fill="#629346"/>
<rect x="166.98" y="93.50" width="6.59" height="18.20" fill="#233419"/>
<rect x="173.55" y="93.50" width="6.59" height="18.20" fill="#d8462e"/>
<rect x="180.12" y="93.50" width="6.59" height="18.20" fill="#ad3825"/>
<rect x="186.69" y="93.50" width="6.59" height="18.20" fill="#233419"/>
<rect x="193.26" y="93.50" width="6.59" height="18.20" fill="#7ebe5a"/>
<rect x="199.83" y="93.50" width="6.59" height="18.20" fill="#629346"/>
<rect x="206.40" y="93.50" width="6.59" height="18.20" fill="#7ebe5a"/>
<rect x="212.97" y="93.50" width="6.59" height="18.20" fill="#3b130d"/>
<rect x="219.54" y="93.50" width="6.59" height="18.20" fill="#486d34"/>
<rect x="226.11" y="93.50" width="6.59" height="18.20" fill="#d8462e"/>
<rect x="232.68" y="93.50" width="6.59" height="18.20" fill="#629346"/>
<rect x="239.25" y="93.50" width="6.59" height="18.20" fill="#7ebe5a"/>
<rect x="245.82" y="93.50" width="6.59" height="18.20" fill="#70a950"/>
<rect x="252.39" y="93.50" width="6.59" height="18.20" fill="#7ebe5a"/>
<rect x="258.96" y="93.50" width="6.59" height="18.20" fill="#000000"/>
<rect x="265.53" y="93.50" width="6.59" height="18.20" fill="#d8462e"/>
<rect x="272.10" y="93.50" width="6.59" height="18.20" fill="#d8462e"/>
<rect x="278.67" y="93.50" width="6.59" height="18.20" fill="#7ebe5a"/>
<rect x="285.24" y="93.50" width="6.59" height="18.20" fill="#7ebe5a"/>
<rect x="291.81" y="93.50" width="6.59" height="18.20" fill="#772619"/>
<rect x="298.38" y="93.50" width="6.59" height="18.20" fill="#772619"/>
<rect x="304.95" y="93.50" width="6.59" height="18.20" fill="#7ebe5a"/>
<rect x="311.52" y="93.50" width="6.59" height="18.20" fill="#629346"/>
<rect x="318.09" y="93.50" width="6.59" height="18.20" fill="#7ebe5a"/>
<rect x="324.66" y="93.50" width="6.59" height="18.20" fill="#561c12"/>
<rect x="331.23" y="93.50" width="6.59" height="18.20" fill="#561c12"/>
<rect x="337.80" y="93.50" width="6.59" height="18.20" fill="#d8462e"/>
<rect x="344.37" y="93.50" width="6.59" height="18.20" fill="#7ebe5a"/>
<rect x="350.94" y="93.50" width="6.59" height="18.20" fill="#7ebe5a"/>
<rect x="357.51" y="93.50" width="6.59" height="18.20" fill="#7ebe5a"/>
<rect x="364.08" y="93.50" width="6.59" height="18.20" fill="#7ebe5a"/>
<rect x="370.65" y="93.50" width="6.59" height="18.20" fill="#486d34"/>
<rect x="377.22" y="93.50" width="6.59" height="18.20" fill="#772619"/>
<rect x="383.79" y="93.50" width="6.59" height="18.20" fill="#3b130d"/>
<rect x="390.36" y="93.50" width="6.59" height="18.20" fill="#7ebe5a"/>
<rect x="396.93" y="93.50" width="6.59" height="18.20" fill="#3b130d"/>
<rect x="403.50" y="93.50" width="6.59" height="18.20" fill="#7ebe5a"/>
<rect x="410.07" y="93.50" width="6.59" height="18.20" fill="#629346"/>
<rect x="416.64" y="93.50" width="6.59" height="18.20" fill="#486d34"/>
<rect x="423.21" y="93.50" width="6.59" height="18.20" fill="#000000"/>
<rect x="429.78" y="93.50" width="6.59" height="18.20" fill="#7ebe5a"/>
<rect x="436.35" y="93.50" width="6.59" height="18.20" fill="#7ebe5a"/>
<rect x="442.92" y="93.50" width="6.59" height="18.20" fill="#7ebe5a"/>
<rect x="449.49" y="93.50" width="6.59" height="18.20" fill="#000000"/>
<rect x="456.06" y="93.50" width="6.59" height="18.20" fill="#561c12"/>
<rect x="462.63" y="93.50" width="6.59" height="18.20" fill="#922f1f"/>
<rect x="469.20" y="93.50" width="6.59" height="18.20" fill="#7ebe5a"/>
<rect x="475.77" y="93.50" width="6.59" height="18.20" fill="#b2b7c0"/>
<rect x="15.52" y="93.50" width="0.7" height="18.20" fill="rgba(0,0,0,0.16)"/>
<rect x="22.09" y="93.50" width="0.7" height="18.20" fill="rgba(0,0,0,0.16)"/>
<rect x="28.66" y="93.50" width="0.7" height="18.20" fill="rgba(0,0,0,0.16)"/>
<rect x="35.23" y="93.50" width="0.7" height="18.20" fill="rgba(0,0,0,0.16)"/>
<rect x="41.80" y="93.50" width="0.7" height="18.20" fill="rgba(0,0,0,0.16)"/>
<rect x="48.37" y="93.50" width="0.7" height="18.20" fill="rgba(0,0,0,0.16)"/>
<rect x="54.94" y="93.50" width="0.7" height="18.20" fill="rgba(0,0,0,0.16)"/>
<rect x="61.51" y="93.50" width="0.7" height="18.20" fill="rgba(0,0,0,0.16)"/>
<rect x="68.08" y="93.50" width="0.7" height="18.20" fill="rgba(0,0,0,0.16)"/>
<rect x="74.65" y="93.50" width="0.7" height="18.20" fill="rgba(0,0,0,0.16)"/>
<rect x="81.22" y="93.50" width="0.7" height="18.20" fill="rgba(0,0,0,0.16)"/>
<rect x="87.79" y="93.50" width="0.7" height="18.20" fill="rgba(0,0,0,0.16)"/>
<rect x="94.36" y="93.50" width="0.7" height="18.20" fill="rgba(0,0,0,0.16)"/>
<rect x="100.93" y="93.50" width="0.7" height="18.20" fill="rgba(0,0,0,0.16)"/>
<rect x="107.50" y="93.50" width="0.7" height="18.20" fill="rgba(0,0,0,0.16)"/>
<rect x="114.07" y="93.50" width="0.7" height="18.20" fill="rgba(0,0,0,0.16)"/>
<rect x="120.64" y="93.50" width="0.7" height="18.20" fill="rgba(0,0,0,0.16)"/>
<rect x="127.21" y="93.50" width="0.7" height="18.20" fill="rgba(0,0,0,0.16)"/>
<rect x="133.78" y="93.50" width="0.7" height="18.20" fill="rgba(0,0,0,0.16)"/>
<rect x="140.35" y="93.50" width="0.7" height="18.20" fill="rgba(0,0,0,0.16)"/>
<rect x="146.92" y="93.50" width="0.7" height="18.20" fill="rgba(0,0,0,0.16)"/>
<rect x="153.49" y="93.50" width="0.7" height="18.20" fill="rgba(0,0,0,0.16)"/>
<rect x="160.06" y="93.50" width="0.7" height="18.20" fill="rgba(0,0,0,0.16)"/>
<rect x="166.63" y="93.50" width="0.7" height="18.20" fill="rgba(0,0,0,0.16)"/>
<rect x="173.20" y="93.50" width="0.7" height="18.20" fill="rgba(0,0,0,0.16)"/>
<rect x="179.77" y="93.50" width="0.7" height="18.20" fill="rgba(0,0,0,0.16)"/>
<rect x="186.34" y="93.50" width="0.7" height="18.20" fill="rgba(0,0,0,0.16)"/>
<rect x="192.91" y="93.50" width="0.7" height="18.20" fill="rgba(0,0,0,0.16)"/>
<rect x="199.48" y="93.50" width="0.7" height="18.20" fill="rgba(0,0,0,0.16)"/>
<rect x="206.05" y="93.50" width="0.7" height="18.20" fill="rgba(0,0,0,0.16)"/>
<rect x="212.62" y="93.50" width="0.7" height="18.20" fill="rgba(0,0,0,0.16)"/>
<rect x="219.19" y="93.50" width="0.7" height="18.20" fill="rgba(0,0,0,0.16)"/>
<rect x="225.76" y="93.50" width="0.7" height="18.20" fill="rgba(0,0,0,0.16)"/>
<rect x="232.33" y="93.50" width="0.7" height="18.20" fill="rgba(0,0,0,0.16)"/>
<rect x="238.90" y="93.50" width="0.7" height="18.20" fill="rgba(0,0,0,0.16)"/>
<rect x="245.47" y="93.50" width="0.7" height="18.20" fill="rgba(0,0,0,0.16)"/>
<rect x="252.04" y="93.50" width="0.7" height="18.20" fill="rgba(0,0,0,0.16)"/>
<rect x="258.61" y="93.50" width="0.7" height="18.20" fill="rgba(0,0,0,0.16)"/>
<rect x="265.18" y="93.50" width="0.7" height="18.20" fill="rgba(0,0,0,0.16)"/>
<rect x="271.75" y="93.50" width="0.7" height="18.20" fill="rgba(0,0,0,0.16)"/>
<rect x="278.32" y="93.50" width="0.7" height="18.20" fill="rgba(0,0,0,0.16)"/>
<rect x="284.89" y="93.50" width="0.7" height="18.20" fill="rgba(0,0,0,0.16)"/>
<rect x="291.46" y="93.50" width="0.7" height="18.20" fill="rgba(0,0,0,0.16)"/>
<rect x="298.03" y="93.50" width="0.7" height="18.20" fill="rgba(0,0,0,0.16)"/>
<rect x="304.60" y="93.50" width="0.7" height="18.20" fill="rgba(0,0,0,0.16)"/>
<rect x="311.17" y="93.50" width="0.7" height="18.20" fill="rgba(0,0,0,0.16)"/>
<rect x="317.74" y="93.50" width="0.7" height="18.20" fill="rgba(0,0,0,0.16)"/>
<rect x="324.31" y="93.50" width="0.7" height="18.20" fill="rgba(0,0,0,0.16)"/>
<rect x="330.88" y="93.50" width="0.7" height="18.20" fill="rgba(0,0,0,0.16)"/>
<rect x="337.45" y="93.50" width="0.7" height="18.20" fill="rgba(0,0,0,0.16)"/>
<rect x="344.02" y="93.50" width="0.7" height="18.20" fill="rgba(0,0,0,0.16)"/>
<rect x="350.59" y="93.50" width="0.7" height="18.20" fill="rgba(0,0,0,0.16)"/>
<rect x="357.16" y="93.50" width="0.7" height="18.20" fill="rgba(0,0,0,0.16)"/>
<rect x="363.73" y="93.50" width="0.7" height="18.20" fill="rgba(0,0,0,0.16)"/>
<rect x="370.30" y="93.50" width="0.7" height="18.20" fill="rgba(0,0,0,0.16)"/>
<rect x="376.87" y="93.50" width="0.7" height="18.20" fill="rgba(0,0,0,0.16)"/>
<rect x="383.44" y="93.50" width="0.7" height="18.20" fill="rgba(0,0,0,0.16)"/>
<rect x="390.01" y="93.50" width="0.7" height="18.20" fill="rgba(0,0,0,0.16)"/>
<rect x="396.58" y="93.50" width="0.7" height="18.20" fill="rgba(0,0,0,0.16)"/>
<rect x="403.15" y="93.50" width="0.7" height="18.20" fill="rgba(0,0,0,0.16)"/>
<rect x="409.72" y="93.50" width="0.7" height="18.20" fill="rgba(0,0,0,0.16)"/>
<rect x="416.29" y="93.50" width="0.7" height="18.20" fill="rgba(0,0,0,0.16)"/>
<rect x="422.86" y="93.50" width="0.7" height="18.20" fill="rgba(0,0,0,0.16)"/>
<rect x="429.43" y="93.50" width="0.7" height="18.20" fill="rgba(0,0,0,0.16)"/>
<rect x="436.00" y="93.50" width="0.7" height="18.20" fill="rgba(0,0,0,0.16)"/>
<rect x="442.57" y="93.50" width="0.7" height="18.20" fill="rgba(0,0,0,0.16)"/>
<rect x="449.14" y="93.50" width="0.7" height="18.20" fill="rgba(0,0,0,0.16)"/>
<rect x="455.71" y="93.50" width="0.7" height="18.20" fill="rgba(0,0,0,0.16)"/>
<rect x="462.28" y="93.50" width="0.7" height="18.20" fill="rgba(0,0,0,0.16)"/>
<rect x="468.85" y="93.50" width="0.7" height="18.20" fill="rgba(0,0,0,0.16)"/>
<rect x="475.42" y="93.50" width="0.7" height="18.20" fill="rgba(0,0,0,0.16)"/>
</g>
<text x="494.3" y="65.30" class="rl">MLL</text>
<text x="494.3" y="85.65" class="rl">B/T</text>
<text x="494.3" y="106.00" class="rl">proB</text>
<text x="93.8" y="124.6" class="lt">significant p-value (upregulated) |</text>
<text x="309" y="124.6" class="lt">| significant p-value (downregulated)</text>
<defs><linearGradient id="lg524" x1="0" x2="1" y1="0" y2="0"><stop offset="0" stop-color="#d8462e"/><stop offset="0.42" stop-color="#c83c28"/><stop offset="0.52" stop-color="#3c0f0a"/><stop offset="0.6" stop-color="#050505"/><stop offset="0.66" stop-color="#285023"/><stop offset="0.72" stop-color="#7ebe5a"/><stop offset="1" stop-color="#7ebe5a"/></linearGradient></defs>
<rect x="206.30" y="128.60" width="107.30" height="4.6" fill="url(#lg524)" stroke="#333" stroke-width="0.7"/>
<g filter="url(#sb)">
<rect x="8.00" y="135.80" width="475.84" height="19.20" fill="#7a7e85"/>
<rect x="9.30" y="136.70" width="6.59" height="17.40" fill="#acb0b9"/>
<rect x="15.87" y="136.70" width="6.59" height="17.40" fill="#acb0b9"/>
<rect x="22.44" y="136.70" width="6.59" height="17.40" fill="#acb0b9"/>
<rect x="29.01" y="136.70" width="6.59" height="17.40" fill="#acb0b9"/>
<rect x="35.58" y="136.70" width="6.59" height="17.40" fill="#acb0b9"/>
<rect x="42.15" y="136.70" width="6.59" height="17.40" fill="#acb0b9"/>
<rect x="48.72" y="136.70" width="6.59" height="17.40" fill="#acb0b9"/>
<rect x="55.29" y="136.70" width="6.59" height="17.40" fill="#acb0b9"/>
<rect x="61.86" y="136.70" width="6.59" height="17.40" fill="#acb0b9"/>
<rect x="68.43" y="136.70" width="6.59" height="17.40" fill="#acb0b9"/>
<rect x="75.00" y="136.70" width="6.59" height="17.40" fill="#acb0b9"/>
<rect x="81.57" y="136.70" width="6.59" height="17.40" fill="#acb0b9"/>
<rect x="88.14" y="136.70" width="6.59" height="17.40" fill="#acb0b9"/>
<rect x="94.71" y="136.70" width="6.59" height="17.40" fill="#acb0b9"/>
<rect x="101.28" y="136.70" width="6.59" height="17.40" fill="#acb0b9"/>
<rect x="107.85" y="136.70" width="6.59" height="17.40" fill="#acb0b9"/>
<rect x="114.42" y="136.70" width="6.59" height="17.40" fill="#acb0b9"/>
<rect x="120.99" y="136.70" width="6.59" height="17.40" fill="#acb0b9"/>
<rect x="127.56" y="136.70" width="6.59" height="17.40" fill="#acb0b9"/>
<rect x="134.13" y="136.70" width="6.59" height="17.40" fill="#acb0b9"/>
<rect x="140.70" y="136.70" width="6.59" height="17.40" fill="#acb0b9"/>
<rect x="147.27" y="136.70" width="6.59" height="17.40" fill="#acb0b9"/>
<rect x="153.84" y="136.70" width="6.59" height="17.40" fill="#acb0b9"/>
<rect x="160.41" y="136.70" width="6.59" height="17.40" fill="#acb0b9"/>
<rect x="166.98" y="136.70" width="6.59" height="17.40" fill="#acb0b9"/>
<rect x="173.55" y="136.70" width="6.59" height="17.40" fill="#acb0b9"/>
<rect x="180.12" y="136.70" width="6.59" height="17.40" fill="#acb0b9"/>
<rect x="186.69" y="136.70" width="6.59" height="17.40" fill="#acb0b9"/>
<rect x="193.26" y="136.70" width="6.59" height="17.40" fill="#acb0b9"/>
<rect x="199.83" y="136.70" width="6.59" height="17.40" fill="#acb0b9"/>
<rect x="206.40" y="136.70" width="6.59" height="17.40" fill="#acb0b9"/>
<rect x="212.97" y="136.70" width="6.59" height="17.40" fill="#acb0b9"/>
<rect x="219.54" y="136.70" width="6.59" height="17.40" fill="#acb0b9"/>
<rect x="226.11" y="136.70" width="6.59" height="17.40" fill="#acb0b9"/>
<rect x="232.68" y="136.70" width="6.59" height="17.40" fill="#acb0b9"/>
<rect x="239.25" y="136.70" width="6.59" height="17.40" fill="#acb0b9"/>
<rect x="245.82" y="136.70" width="6.59" height="17.40" fill="#acb0b9"/>
<rect x="252.39" y="136.70" width="6.59" height="17.40" fill="#acb0b9"/>
<rect x="258.96" y="136.70" width="6.59" height="17.40" fill="#acb0b9"/>
<rect x="265.53" y="136.70" width="6.59" height="17.40" fill="#acb0b9"/>
<rect x="272.10" y="136.70" width="6.59" height="17.40" fill="#acb0b9"/>
<rect x="278.67" y="136.70" width="6.59" height="17.40" fill="#acb0b9"/>
<rect x="285.24" y="136.70" width="6.59" height="17.40" fill="#acb0b9"/>
<rect x="291.81" y="136.70" width="6.59" height="17.40" fill="#acb0b9"/>
<rect x="298.38" y="136.70" width="6.59" height="17.40" fill="#acb0b9"/>
<rect x="304.95" y="136.70" width="6.59" height="17.40" fill="#acb0b9"/>
<rect x="311.52" y="136.70" width="6.59" height="17.40" fill="#acb0b9"/>
<rect x="318.09" y="136.70" width="6.59" height="17.40" fill="#acb0b9"/>
<rect x="324.66" y="136.70" width="6.59" height="17.40" fill="#acb0b9"/>
<rect x="331.23" y="136.70" width="6.59" height="17.40" fill="#acb0b9"/>
<rect x="337.80" y="136.70" width="6.59" height="17.40" fill="#acb0b9"/>
<rect x="344.37" y="136.70" width="6.59" height="17.40" fill="#acb0b9"/>
<rect x="350.94" y="136.70" width="6.59" height="17.40" fill="#acb0b9"/>
<rect x="357.51" y="136.70" width="6.59" height="17.40" fill="#acb0b9"/>
<rect x="364.08" y="136.70" width="6.59" height="17.40" fill="#acb0b9"/>
<rect x="370.65" y="136.70" width="6.59" height="17.40" fill="#acb0b9"/>
<rect x="377.22" y="136.70" width="6.59" height="17.40" fill="#acb0b9"/>
<rect x="383.79" y="136.70" width="6.59" height="17.40" fill="#acb0b9"/>
<rect x="390.36" y="136.70" width="6.59" height="17.40" fill="#acb0b9"/>
<rect x="396.93" y="136.70" width="6.59" height="17.40" fill="#acb0b9"/>
<rect x="403.50" y="136.70" width="6.59" height="17.40" fill="#acb0b9"/>
<rect x="410.07" y="136.70" width="6.59" height="17.40" fill="#acb0b9"/>
<rect x="416.64" y="136.70" width="6.59" height="17.40" fill="#acb0b9"/>
<rect x="423.21" y="136.70" width="6.59" height="17.40" fill="#acb0b9"/>
<rect x="429.78" y="136.70" width="6.59" height="17.40" fill="#acb0b9"/>
<rect x="436.35" y="136.70" width="6.59" height="17.40" fill="#acb0b9"/>
<rect x="442.92" y="136.70" width="6.59" height="17.40" fill="#acb0b9"/>
<rect x="449.49" y="136.70" width="6.59" height="17.40" fill="#acb0b9"/>
<rect x="456.06" y="136.70" width="6.59" height="17.40" fill="#acb0b9"/>
<rect x="462.63" y="136.70" width="6.59" height="17.40" fill="#acb0b9"/>
<rect x="469.20" y="136.70" width="6.59" height="17.40" fill="#acb0b9"/>
<rect x="475.77" y="136.70" width="6.59" height="17.40" fill="#000000"/>
<rect x="15.47" y="136.70" width="0.8" height="17.40" fill="#7c8088"/>
<rect x="22.04" y="136.70" width="0.8" height="17.40" fill="#7c8088"/>
<rect x="28.61" y="136.70" width="0.8" height="17.40" fill="#7c8088"/>
<rect x="35.18" y="136.70" width="0.8" height="17.40" fill="#7c8088"/>
<rect x="41.75" y="136.70" width="0.8" height="17.40" fill="#7c8088"/>
<rect x="48.32" y="136.70" width="0.8" height="17.40" fill="#7c8088"/>
<rect x="54.89" y="136.70" width="0.8" height="17.40" fill="#7c8088"/>
<rect x="61.46" y="136.70" width="0.8" height="17.40" fill="#7c8088"/>
<rect x="68.03" y="136.70" width="0.8" height="17.40" fill="#7c8088"/>
<rect x="74.60" y="136.70" width="0.8" height="17.40" fill="#7c8088"/>
<rect x="81.17" y="136.70" width="0.8" height="17.40" fill="#7c8088"/>
<rect x="87.74" y="136.70" width="0.8" height="17.40" fill="#7c8088"/>
<rect x="94.31" y="136.70" width="0.8" height="17.40" fill="#7c8088"/>
<rect x="100.88" y="136.70" width="0.8" height="17.40" fill="#7c8088"/>
<rect x="107.45" y="136.70" width="0.8" height="17.40" fill="#7c8088"/>
<rect x="114.02" y="136.70" width="0.8" height="17.40" fill="#7c8088"/>
<rect x="120.59" y="136.70" width="0.8" height="17.40" fill="#7c8088"/>
<rect x="127.16" y="136.70" width="0.8" height="17.40" fill="#7c8088"/>
<rect x="133.73" y="136.70" width="0.8" height="17.40" fill="#7c8088"/>
<rect x="140.30" y="136.70" width="0.8" height="17.40" fill="#7c8088"/>
<rect x="146.87" y="136.70" width="0.8" height="17.40" fill="#7c8088"/>
<rect x="153.44" y="136.70" width="0.8" height="17.40" fill="#7c8088"/>
<rect x="160.01" y="136.70" width="0.8" height="17.40" fill="#7c8088"/>
<rect x="166.58" y="136.70" width="0.8" height="17.40" fill="#7c8088"/>
<rect x="173.15" y="136.70" width="0.8" height="17.40" fill="#7c8088"/>
<rect x="179.72" y="136.70" width="0.8" height="17.40" fill="#7c8088"/>
<rect x="186.29" y="136.70" width="0.8" height="17.40" fill="#7c8088"/>
<rect x="192.86" y="136.70" width="0.8" height="17.40" fill="#7c8088"/>
<rect x="199.43" y="136.70" width="0.8" height="17.40" fill="#7c8088"/>
<rect x="206.00" y="136.70" width="0.8" height="17.40" fill="#7c8088"/>
<rect x="212.57" y="136.70" width="0.8" height="17.40" fill="#7c8088"/>
<rect x="219.14" y="136.70" width="0.8" height="17.40" fill="#7c8088"/>
<rect x="225.71" y="136.70" width="0.8" height="17.40" fill="#7c8088"/>
<rect x="232.28" y="136.70" width="0.8" height="17.40" fill="#7c8088"/>
<rect x="238.85" y="136.70" width="0.8" height="17.40" fill="#7c8088"/>
<rect x="245.42" y="136.70" width="0.8" height="17.40" fill="#7c8088"/>
<rect x="251.99" y="136.70" width="0.8" height="17.40" fill="#7c8088"/>
<rect x="258.56" y="136.70" width="0.8" height="17.40" fill="#7c8088"/>
<rect x="265.13" y="136.70" width="0.8" height="17.40" fill="#7c8088"/>
<rect x="271.70" y="136.70" width="0.8" height="17.40" fill="#7c8088"/>
<rect x="278.27" y="136.70" width="0.8" height="17.40" fill="#7c8088"/>
<rect x="284.84" y="136.70" width="0.8" height="17.40" fill="#7c8088"/>
<rect x="291.41" y="136.70" width="0.8" height="17.40" fill="#7c8088"/>
<rect x="297.98" y="136.70" width="0.8" height="17.40" fill="#7c8088"/>
<rect x="304.55" y="136.70" width="0.8" height="17.40" fill="#7c8088"/>
<rect x="311.12" y="136.70" width="0.8" height="17.40" fill="#7c8088"/>
<rect x="317.69" y="136.70" width="0.8" height="17.40" fill="#7c8088"/>
<rect x="324.26" y="136.70" width="0.8" height="17.40" fill="#7c8088"/>
<rect x="330.83" y="136.70" width="0.8" height="17.40" fill="#7c8088"/>
<rect x="337.40" y="136.70" width="0.8" height="17.40" fill="#7c8088"/>
<rect x="343.97" y="136.70" width="0.8" height="17.40" fill="#7c8088"/>
<rect x="350.54" y="136.70" width="0.8" height="17.40" fill="#7c8088"/>
<rect x="357.11" y="136.70" width="0.8" height="17.40" fill="#7c8088"/>
<rect x="363.68" y="136.70" width="0.8" height="17.40" fill="#7c8088"/>
<rect x="370.25" y="136.70" width="0.8" height="17.40" fill="#7c8088"/>
<rect x="376.82" y="136.70" width="0.8" height="17.40" fill="#7c8088"/>
<rect x="383.39" y="136.70" width="0.8" height="17.40" fill="#7c8088"/>
<rect x="389.96" y="136.70" width="0.8" height="17.40" fill="#7c8088"/>
<rect x="396.53" y="136.70" width="0.8" height="17.40" fill="#7c8088"/>
<rect x="403.10" y="136.70" width="0.8" height="17.40" fill="#7c8088"/>
<rect x="409.67" y="136.70" width="0.8" height="17.40" fill="#7c8088"/>
<rect x="416.24" y="136.70" width="0.8" height="17.40" fill="#7c8088"/>
<rect x="422.81" y="136.70" width="0.8" height="17.40" fill="#7c8088"/>
<rect x="429.38" y="136.70" width="0.8" height="17.40" fill="#7c8088"/>
<rect x="435.95" y="136.70" width="0.8" height="17.40" fill="#7c8088"/>
<rect x="442.52" y="136.70" width="0.8" height="17.40" fill="#7c8088"/>
<rect x="449.09" y="136.70" width="0.8" height="17.40" fill="#7c8088"/>
<rect x="455.66" y="136.70" width="0.8" height="17.40" fill="#7c8088"/>
<rect x="462.23" y="136.70" width="0.8" height="17.40" fill="#7c8088"/>
<rect x="468.80" y="136.70" width="0.8" height="17.40" fill="#7c8088"/>
<rect x="475.37" y="136.70" width="0.8" height="17.40" fill="#7c8088"/>
<rect x="8.00" y="156.90" width="475.84" height="19.20" fill="#7a7e85"/>
<rect x="9.30" y="157.80" width="6.59" height="17.40" fill="#acb0b9"/>
<rect x="15.87" y="157.80" width="6.59" height="17.40" fill="#acb0b9"/>
<rect x="22.44" y="157.80" width="6.59" height="17.40" fill="#acb0b9"/>
<rect x="29.01" y="157.80" width="6.59" height="17.40" fill="#acb0b9"/>
<rect x="35.58" y="157.80" width="6.59" height="17.40" fill="#acb0b9"/>
<rect x="42.15" y="157.80" width="6.59" height="17.40" fill="#acb0b9"/>
<rect x="48.72" y="157.80" width="6.59" height="17.40" fill="#acb0b9"/>
<rect x="55.29" y="157.80" width="6.59" height="17.40" fill="#acb0b9"/>
<rect x="61.86" y="157.80" width="6.59" height="17.40" fill="#acb0b9"/>
<rect x="68.43" y="157.80" width="6.59" height="17.40" fill="#acb0b9"/>
<rect x="75.00" y="157.80" width="6.59" height="17.40" fill="#acb0b9"/>
<rect x="81.57" y="157.80" width="6.59" height="17.40" fill="#acb0b9"/>
<rect x="88.14" y="157.80" width="6.59" height="17.40" fill="#acb0b9"/>
<rect x="94.71" y="157.80" width="6.59" height="17.40" fill="#acb0b9"/>
<rect x="101.28" y="157.80" width="6.59" height="17.40" fill="#acb0b9"/>
<rect x="107.85" y="157.80" width="6.59" height="17.40" fill="#acb0b9"/>
<rect x="114.42" y="157.80" width="6.59" height="17.40" fill="#7ebe5a"/>
<rect x="120.99" y="157.80" width="6.59" height="17.40" fill="#acb0b9"/>
<rect x="127.56" y="157.80" width="6.59" height="17.40" fill="#acb0b9"/>
<rect x="134.13" y="157.80" width="6.59" height="17.40" fill="#acb0b9"/>
<rect x="140.70" y="157.80" width="6.59" height="17.40" fill="#acb0b9"/>
<rect x="147.27" y="157.80" width="6.59" height="17.40" fill="#acb0b9"/>
<rect x="153.84" y="157.80" width="6.59" height="17.40" fill="#acb0b9"/>
<rect x="160.41" y="157.80" width="6.59" height="17.40" fill="#acb0b9"/>
<rect x="166.98" y="157.80" width="6.59" height="17.40" fill="#acb0b9"/>
<rect x="173.55" y="157.80" width="6.59" height="17.40" fill="#acb0b9"/>
<rect x="180.12" y="157.80" width="6.59" height="17.40" fill="#acb0b9"/>
<rect x="186.69" y="157.80" width="6.59" height="17.40" fill="#acb0b9"/>
<rect x="193.26" y="157.80" width="6.59" height="17.40" fill="#acb0b9"/>
<rect x="199.83" y="157.80" width="6.59" height="17.40" fill="#acb0b9"/>
<rect x="206.40" y="157.80" width="6.59" height="17.40" fill="#acb0b9"/>
<rect x="212.97" y="157.80" width="6.59" height="17.40" fill="#acb0b9"/>
<rect x="219.54" y="157.80" width="6.59" height="17.40" fill="#acb0b9"/>
<rect x="226.11" y="157.80" width="6.59" height="17.40" fill="#acb0b9"/>
<rect x="232.68" y="157.80" width="6.59" height="17.40" fill="#acb0b9"/>
<rect x="239.25" y="157.80" width="6.59" height="17.40" fill="#acb0b9"/>
<rect x="245.82" y="157.80" width="6.59" height="17.40" fill="#acb0b9"/>
<rect x="252.39" y="157.80" width="6.59" height="17.40" fill="#acb0b9"/>
<rect x="258.96" y="157.80" width="6.59" height="17.40" fill="#acb0b9"/>
<rect x="265.53" y="157.80" width="6.59" height="17.40" fill="#acb0b9"/>
<rect x="272.10" y="157.80" width="6.59" height="17.40" fill="#acb0b9"/>
<rect x="278.67" y="157.80" width="6.59" height="17.40" fill="#acb0b9"/>
<rect x="285.24" y="157.80" width="6.59" height="17.40" fill="#acb0b9"/>
<rect x="291.81" y="157.80" width="6.59" height="17.40" fill="#acb0b9"/>
<rect x="298.38" y="157.80" width="6.59" height="17.40" fill="#acb0b9"/>
<rect x="304.95" y="157.80" width="6.59" height="17.40" fill="#acb0b9"/>
<rect x="311.52" y="157.80" width="6.59" height="17.40" fill="#acb0b9"/>
<rect x="318.09" y="157.80" width="6.59" height="17.40" fill="#acb0b9"/>
<rect x="324.66" y="157.80" width="6.59" height="17.40" fill="#acb0b9"/>
<rect x="331.23" y="157.80" width="6.59" height="17.40" fill="#acb0b9"/>
<rect x="337.80" y="157.80" width="6.59" height="17.40" fill="#acb0b9"/>
<rect x="344.37" y="157.80" width="6.59" height="17.40" fill="#acb0b9"/>
<rect x="350.94" y="157.80" width="6.59" height="17.40" fill="#acb0b9"/>
<rect x="357.51" y="157.80" width="6.59" height="17.40" fill="#acb0b9"/>
<rect x="364.08" y="157.80" width="6.59" height="17.40" fill="#acb0b9"/>
<rect x="370.65" y="157.80" width="6.59" height="17.40" fill="#acb0b9"/>
<rect x="377.22" y="157.80" width="6.59" height="17.40" fill="#acb0b9"/>
<rect x="383.79" y="157.80" width="6.59" height="17.40" fill="#acb0b9"/>
<rect x="390.36" y="157.80" width="6.59" height="17.40" fill="#acb0b9"/>
<rect x="396.93" y="157.80" width="6.59" height="17.40" fill="#acb0b9"/>
<rect x="403.50" y="157.80" width="6.59" height="17.40" fill="#acb0b9"/>
<rect x="410.07" y="157.80" width="6.59" height="17.40" fill="#acb0b9"/>
<rect x="416.64" y="157.80" width="6.59" height="17.40" fill="#acb0b9"/>
<rect x="423.21" y="157.80" width="6.59" height="17.40" fill="#acb0b9"/>
<rect x="429.78" y="157.80" width="6.59" height="17.40" fill="#acb0b9"/>
<rect x="436.35" y="157.80" width="6.59" height="17.40" fill="#acb0b9"/>
<rect x="442.92" y="157.80" width="6.59" height="17.40" fill="#acb0b9"/>
<rect x="449.49" y="157.80" width="6.59" height="17.40" fill="#acb0b9"/>
<rect x="456.06" y="157.80" width="6.59" height="17.40" fill="#acb0b9"/>
<rect x="462.63" y="157.80" width="6.59" height="17.40" fill="#acb0b9"/>
<rect x="469.20" y="157.80" width="6.59" height="17.40" fill="#acb0b9"/>
<rect x="475.77" y="157.80" width="6.59" height="17.40" fill="#000000"/>
<rect x="15.47" y="157.80" width="0.8" height="17.40" fill="#7c8088"/>
<rect x="22.04" y="157.80" width="0.8" height="17.40" fill="#7c8088"/>
<rect x="28.61" y="157.80" width="0.8" height="17.40" fill="#7c8088"/>
<rect x="35.18" y="157.80" width="0.8" height="17.40" fill="#7c8088"/>
<rect x="41.75" y="157.80" width="0.8" height="17.40" fill="#7c8088"/>
<rect x="48.32" y="157.80" width="0.8" height="17.40" fill="#7c8088"/>
<rect x="54.89" y="157.80" width="0.8" height="17.40" fill="#7c8088"/>
<rect x="61.46" y="157.80" width="0.8" height="17.40" fill="#7c8088"/>
<rect x="68.03" y="157.80" width="0.8" height="17.40" fill="#7c8088"/>
<rect x="74.60" y="157.80" width="0.8" height="17.40" fill="#7c8088"/>
<rect x="81.17" y="157.80" width="0.8" height="17.40" fill="#7c8088"/>
<rect x="87.74" y="157.80" width="0.8" height="17.40" fill="#7c8088"/>
<rect x="94.31" y="157.80" width="0.8" height="17.40" fill="#7c8088"/>
<rect x="100.88" y="157.80" width="0.8" height="17.40" fill="#7c8088"/>
<rect x="107.45" y="157.80" width="0.8" height="17.40" fill="#7c8088"/>
<rect x="114.02" y="157.80" width="0.8" height="17.40" fill="#7c8088"/>
<rect x="120.59" y="157.80" width="0.8" height="17.40" fill="#7c8088"/>
<rect x="127.16" y="157.80" width="0.8" height="17.40" fill="#7c8088"/>
<rect x="133.73" y="157.80" width="0.8" height="17.40" fill="#7c8088"/>
<rect x="140.30" y="157.80" width="0.8" height="17.40" fill="#7c8088"/>
<rect x="146.87" y="157.80" width="0.8" height="17.40" fill="#7c8088"/>
<rect x="153.44" y="157.80" width="0.8" height="17.40" fill="#7c8088"/>
<rect x="160.01" y="157.80" width="0.8" height="17.40" fill="#7c8088"/>
<rect x="166.58" y="157.80" width="0.8" height="17.40" fill="#7c8088"/>
<rect x="173.15" y="157.80" width="0.8" height="17.40" fill="#7c8088"/>
<rect x="179.72" y="157.80" width="0.8" height="17.40" fill="#7c8088"/>
<rect x="186.29" y="157.80" width="0.8" height="17.40" fill="#7c8088"/>
<rect x="192.86" y="157.80" width="0.8" height="17.40" fill="#7c8088"/>
<rect x="199.43" y="157.80" width="0.8" height="17.40" fill="#7c8088"/>
<rect x="206.00" y="157.80" width="0.8" height="17.40" fill="#7c8088"/>
<rect x="212.57" y="157.80" width="0.8" height="17.40" fill="#7c8088"/>
<rect x="219.14" y="157.80" width="0.8" height="17.40" fill="#7c8088"/>
<rect x="225.71" y="157.80" width="0.8" height="17.40" fill="#7c8088"/>
<rect x="232.28" y="157.80" width="0.8" height="17.40" fill="#7c8088"/>
<rect x="238.85" y="157.80" width="0.8" height="17.40" fill="#7c8088"/>
<rect x="245.42" y="157.80" width="0.8" height="17.40" fill="#7c8088"/>
<rect x="251.99" y="157.80" width="0.8" height="17.40" fill="#7c8088"/>
<rect x="258.56" y="157.80" width="0.8" height="17.40" fill="#7c8088"/>
<rect x="265.13" y="157.80" width="0.8" height="17.40" fill="#7c8088"/>
<rect x="271.70" y="157.80" width="0.8" height="17.40" fill="#7c8088"/>
<rect x="278.27" y="157.80" width="0.8" height="17.40" fill="#7c8088"/>
<rect x="284.84" y="157.80" width="0.8" height="17.40" fill="#7c8088"/>
<rect x="291.41" y="157.80" width="0.8" height="17.40" fill="#7c8088"/>
<rect x="297.98" y="157.80" width="0.8" height="17.40" fill="#7c8088"/>
<rect x="304.55" y="157.80" width="0.8" height="17.40" fill="#7c8088"/>
<rect x="311.12" y="157.80" width="0.8" height="17.40" fill="#7c8088"/>
<rect x="317.69" y="157.80" width="0.8" height="17.40" fill="#7c8088"/>
<rect x="324.26" y="157.80" width="0.8" height="17.40" fill="#7c8088"/>
<rect x="330.83" y="157.80" width="0.8" height="17.40" fill="#7c8088"/>
<rect x="337.40" y="157.80" width="0.8" height="17.40" fill="#7c8088"/>
<rect x="343.97" y="157.80" width="0.8" height="17.40" fill="#7c8088"/>
<rect x="350.54" y="157.80" width="0.8" height="17.40" fill="#7c8088"/>
<rect x="357.11" y="157.80" width="0.8" height="17.40" fill="#7c8088"/>
<rect x="363.68" y="157.80" width="0.8" height="17.40" fill="#7c8088"/>
<rect x="370.25" y="157.80" width="0.8" height="17.40" fill="#7c8088"/>
<rect x="376.82" y="157.80" width="0.8" height="17.40" fill="#7c8088"/>
<rect x="383.39" y="157.80" width="0.8" height="17.40" fill="#7c8088"/>
<rect x="389.96" y="157.80" width="0.8" height="17.40" fill="#7c8088"/>
<rect x="396.53" y="157.80" width="0.8" height="17.40" fill="#7c8088"/>
<rect x="403.10" y="157.80" width="0.8" height="17.40" fill="#7c8088"/>
<rect x="409.67" y="157.80" width="0.8" height="17.40" fill="#7c8088"/>
<rect x="416.24" y="157.80" width="0.8" height="17.40" fill="#7c8088"/>
<rect x="422.81" y="157.80" width="0.8" height="17.40" fill="#7c8088"/>
<rect x="429.38" y="157.80" width="0.8" height="17.40" fill="#7c8088"/>
<rect x="435.95" y="157.80" width="0.8" height="17.40" fill="#7c8088"/>
<rect x="442.52" y="157.80" width="0.8" height="17.40" fill="#7c8088"/>
<rect x="449.09" y="157.80" width="0.8" height="17.40" fill="#7c8088"/>
<rect x="455.66" y="157.80" width="0.8" height="17.40" fill="#7c8088"/>
<rect x="462.23" y="157.80" width="0.8" height="17.40" fill="#7c8088"/>
<rect x="468.80" y="157.80" width="0.8" height="17.40" fill="#7c8088"/>
<rect x="475.37" y="157.80" width="0.8" height="17.40" fill="#7c8088"/>
<rect x="8.00" y="177.90" width="475.84" height="19.30" fill="#7a7e85"/>
<rect x="9.30" y="178.80" width="6.59" height="17.50" fill="#acb0b9"/>
<rect x="15.87" y="178.80" width="6.59" height="17.50" fill="#acb0b9"/>
<rect x="22.44" y="178.80" width="6.59" height="17.50" fill="#acb0b9"/>
<rect x="29.01" y="178.80" width="6.59" height="17.50" fill="#acb0b9"/>
<rect x="35.58" y="178.80" width="6.59" height="17.50" fill="#acb0b9"/>
<rect x="42.15" y="178.80" width="6.59" height="17.50" fill="#acb0b9"/>
<rect x="48.72" y="178.80" width="6.59" height="17.50" fill="#acb0b9"/>
<rect x="55.29" y="178.80" width="6.59" height="17.50" fill="#acb0b9"/>
<rect x="61.86" y="178.80" width="6.59" height="17.50" fill="#acb0b9"/>
<rect x="68.43" y="178.80" width="6.59" height="17.50" fill="#acb0b9"/>
<rect x="75.00" y="178.80" width="6.59" height="17.50" fill="#acb0b9"/>
<rect x="81.57" y="178.80" width="6.59" height="17.50" fill="#acb0b9"/>
<rect x="88.14" y="178.80" width="6.59" height="17.50" fill="#acb0b9"/>
<rect x="94.71" y="178.80" width="6.59" height="17.50" fill="#acb0b9"/>
<rect x="101.28" y="178.80" width="6.59" height="17.50" fill="#acb0b9"/>
<rect x="107.85" y="178.80" width="6.59" height="17.50" fill="#acb0b9"/>
<rect x="114.42" y="178.80" width="6.59" height="17.50" fill="#7ebe5a"/>
<rect x="120.99" y="178.80" width="6.59" height="17.50" fill="#acb0b9"/>
<rect x="127.56" y="178.80" width="6.59" height="17.50" fill="#acb0b9"/>
<rect x="134.13" y="178.80" width="6.59" height="17.50" fill="#acb0b9"/>
<rect x="140.70" y="178.80" width="6.59" height="17.50" fill="#acb0b9"/>
<rect x="147.27" y="178.80" width="6.59" height="17.50" fill="#acb0b9"/>
<rect x="153.84" y="178.80" width="6.59" height="17.50" fill="#acb0b9"/>
<rect x="160.41" y="178.80" width="6.59" height="17.50" fill="#acb0b9"/>
<rect x="166.98" y="178.80" width="6.59" height="17.50" fill="#acb0b9"/>
<rect x="173.55" y="178.80" width="6.59" height="17.50" fill="#acb0b9"/>
<rect x="180.12" y="178.80" width="6.59" height="17.50" fill="#acb0b9"/>
<rect x="186.69" y="178.80" width="6.59" height="17.50" fill="#acb0b9"/>
<rect x="193.26" y="178.80" width="6.59" height="17.50" fill="#acb0b9"/>
<rect x="199.83" y="178.80" width="6.59" height="17.50" fill="#acb0b9"/>
<rect x="206.40" y="178.80" width="6.59" height="17.50" fill="#acb0b9"/>
<rect x="212.97" y="178.80" width="6.59" height="17.50" fill="#acb0b9"/>
<rect x="219.54" y="178.80" width="6.59" height="17.50" fill="#acb0b9"/>
<rect x="226.11" y="178.80" width="6.59" height="17.50" fill="#acb0b9"/>
<rect x="232.68" y="178.80" width="6.59" height="17.50" fill="#acb0b9"/>
<rect x="239.25" y="178.80" width="6.59" height="17.50" fill="#acb0b9"/>
<rect x="245.82" y="178.80" width="6.59" height="17.50" fill="#acb0b9"/>
<rect x="252.39" y="178.80" width="6.59" height="17.50" fill="#acb0b9"/>
<rect x="258.96" y="178.80" width="6.59" height="17.50" fill="#acb0b9"/>
<rect x="265.53" y="178.80" width="6.59" height="17.50" fill="#acb0b9"/>
<rect x="272.10" y="178.80" width="6.59" height="17.50" fill="#acb0b9"/>
<rect x="278.67" y="178.80" width="6.59" height="17.50" fill="#acb0b9"/>
<rect x="285.24" y="178.80" width="6.59" height="17.50" fill="#acb0b9"/>
<rect x="291.81" y="178.80" width="6.59" height="17.50" fill="#acb0b9"/>
<rect x="298.38" y="178.80" width="6.59" height="17.50" fill="#acb0b9"/>
<rect x="304.95" y="178.80" width="6.59" height="17.50" fill="#acb0b9"/>
<rect x="311.52" y="178.80" width="6.59" height="17.50" fill="#acb0b9"/>
<rect x="318.09" y="178.80" width="6.59" height="17.50" fill="#acb0b9"/>
<rect x="324.66" y="178.80" width="6.59" height="17.50" fill="#acb0b9"/>
<rect x="331.23" y="178.80" width="6.59" height="17.50" fill="#acb0b9"/>
<rect x="337.80" y="178.80" width="6.59" height="17.50" fill="#acb0b9"/>
<rect x="344.37" y="178.80" width="6.59" height="17.50" fill="#acb0b9"/>
<rect x="350.94" y="178.80" width="6.59" height="17.50" fill="#acb0b9"/>
<rect x="357.51" y="178.80" width="6.59" height="17.50" fill="#acb0b9"/>
<rect x="364.08" y="178.80" width="6.59" height="17.50" fill="#acb0b9"/>
<rect x="370.65" y="178.80" width="6.59" height="17.50" fill="#acb0b9"/>
<rect x="377.22" y="178.80" width="6.59" height="17.50" fill="#acb0b9"/>
<rect x="383.79" y="178.80" width="6.59" height="17.50" fill="#acb0b9"/>
<rect x="390.36" y="178.80" width="6.59" height="17.50" fill="#acb0b9"/>
<rect x="396.93" y="178.80" width="6.59" height="17.50" fill="#acb0b9"/>
<rect x="403.50" y="178.80" width="6.59" height="17.50" fill="#acb0b9"/>
<rect x="410.07" y="178.80" width="6.59" height="17.50" fill="#acb0b9"/>
<rect x="416.64" y="178.80" width="6.59" height="17.50" fill="#acb0b9"/>
<rect x="423.21" y="178.80" width="6.59" height="17.50" fill="#acb0b9"/>
<rect x="429.78" y="178.80" width="6.59" height="17.50" fill="#7ebe5a"/>
<rect x="436.35" y="178.80" width="6.59" height="17.50" fill="#acb0b9"/>
<rect x="442.92" y="178.80" width="6.59" height="17.50" fill="#acb0b9"/>
<rect x="449.49" y="178.80" width="6.59" height="17.50" fill="#acb0b9"/>
<rect x="456.06" y="178.80" width="6.59" height="17.50" fill="#acb0b9"/>
<rect x="462.63" y="178.80" width="6.59" height="17.50" fill="#acb0b9"/>
<rect x="469.20" y="178.80" width="6.59" height="17.50" fill="#acb0b9"/>
<rect x="475.77" y="178.80" width="6.59" height="17.50" fill="#000000"/>
<rect x="15.47" y="178.80" width="0.8" height="17.50" fill="#7c8088"/>
<rect x="22.04" y="178.80" width="0.8" height="17.50" fill="#7c8088"/>
<rect x="28.61" y="178.80" width="0.8" height="17.50" fill="#7c8088"/>
<rect x="35.18" y="178.80" width="0.8" height="17.50" fill="#7c8088"/>
<rect x="41.75" y="178.80" width="0.8" height="17.50" fill="#7c8088"/>
<rect x="48.32" y="178.80" width="0.8" height="17.50" fill="#7c8088"/>
<rect x="54.89" y="178.80" width="0.8" height="17.50" fill="#7c8088"/>
<rect x="61.46" y="178.80" width="0.8" height="17.50" fill="#7c8088"/>
<rect x="68.03" y="178.80" width="0.8" height="17.50" fill="#7c8088"/>
<rect x="74.60" y="178.80" width="0.8" height="17.50" fill="#7c8088"/>
<rect x="81.17" y="178.80" width="0.8" height="17.50" fill="#7c8088"/>
<rect x="87.74" y="178.80" width="0.8" height="17.50" fill="#7c8088"/>
<rect x="94.31" y="178.80" width="0.8" height="17.50" fill="#7c8088"/>
<rect x="100.88" y="178.80" width="0.8" height="17.50" fill="#7c8088"/>
<rect x="107.45" y="178.80" width="0.8" height="17.50" fill="#7c8088"/>
<rect x="114.02" y="178.80" width="0.8" height="17.50" fill="#7c8088"/>
<rect x="120.59" y="178.80" width="0.8" height="17.50" fill="#7c8088"/>
<rect x="127.16" y="178.80" width="0.8" height="17.50" fill="#7c8088"/>
<rect x="133.73" y="178.80" width="0.8" height="17.50" fill="#7c8088"/>
<rect x="140.30" y="178.80" width="0.8" height="17.50" fill="#7c8088"/>
<rect x="146.87" y="178.80" width="0.8" height="17.50" fill="#7c8088"/>
<rect x="153.44" y="178.80" width="0.8" height="17.50" fill="#7c8088"/>
<rect x="160.01" y="178.80" width="0.8" height="17.50" fill="#7c8088"/>
<rect x="166.58" y="178.80" width="0.8" height="17.50" fill="#7c8088"/>
<rect x="173.15" y="178.80" width="0.8" height="17.50" fill="#7c8088"/>
<rect x="179.72" y="178.80" width="0.8" height="17.50" fill="#7c8088"/>
<rect x="186.29" y="178.80" width="0.8" height="17.50" fill="#7c8088"/>
<rect x="192.86" y="178.80" width="0.8" height="17.50" fill="#7c8088"/>
<rect x="199.43" y="178.80" width="0.8" height="17.50" fill="#7c8088"/>
<rect x="206.00" y="178.80" width="0.8" height="17.50" fill="#7c8088"/>
<rect x="212.57" y="178.80" width="0.8" height="17.50" fill="#7c8088"/>
<rect x="219.14" y="178.80" width="0.8" height="17.50" fill="#7c8088"/>
<rect x="225.71" y="178.80" width="0.8" height="17.50" fill="#7c8088"/>
<rect x="232.28" y="178.80" width="0.8" height="17.50" fill="#7c8088"/>
<rect x="238.85" y="178.80" width="0.8" height="17.50" fill="#7c8088"/>
<rect x="245.42" y="178.80" width="0.8" height="17.50" fill="#7c8088"/>
<rect x="251.99" y="178.80" width="0.8" height="17.50" fill="#7c8088"/>
<rect x="258.56" y="178.80" width="0.8" height="17.50" fill="#7c8088"/>
<rect x="265.13" y="178.80" width="0.8" height="17.50" fill="#7c8088"/>
<rect x="271.70" y="178.80" width="0.8" height="17.50" fill="#7c8088"/>
<rect x="278.27" y="178.80" width="0.8" height="17.50" fill="#7c8088"/>
<rect x="284.84" y="178.80" width="0.8" height="17.50" fill="#7c8088"/>
<rect x="291.41" y="178.80" width="0.8" height="17.50" fill="#7c8088"/>
<rect x="297.98" y="178.80" width="0.8" height="17.50" fill="#7c8088"/>
<rect x="304.55" y="178.80" width="0.8" height="17.50" fill="#7c8088"/>
<rect x="311.12" y="178.80" width="0.8" height="17.50" fill="#7c8088"/>
<rect x="317.69" y="178.80" width="0.8" height="17.50" fill="#7c8088"/>
<rect x="324.26" y="178.80" width="0.8" height="17.50" fill="#7c8088"/>
<rect x="330.83" y="178.80" width="0.8" height="17.50" fill="#7c8088"/>
<rect x="337.40" y="178.80" width="0.8" height="17.50" fill="#7c8088"/>
<rect x="343.97" y="178.80" width="0.8" height="17.50" fill="#7c8088"/>
<rect x="350.54" y="178.80" width="0.8" height="17.50" fill="#7c8088"/>
<rect x="357.11" y="178.80" width="0.8" height="17.50" fill="#7c8088"/>
<rect x="363.68" y="178.80" width="0.8" height="17.50" fill="#7c8088"/>
<rect x="370.25" y="178.80" width="0.8" height="17.50" fill="#7c8088"/>
<rect x="376.82" y="178.80" width="0.8" height="17.50" fill="#7c8088"/>
<rect x="383.39" y="178.80" width="0.8" height="17.50" fill="#7c8088"/>
<rect x="389.96" y="178.80" width="0.8" height="17.50" fill="#7c8088"/>
<rect x="396.53" y="178.80" width="0.8" height="17.50" fill="#7c8088"/>
<rect x="403.10" y="178.80" width="0.8" height="17.50" fill="#7c8088"/>
<rect x="409.67" y="178.80" width="0.8" height="17.50" fill="#7c8088"/>
<rect x="416.24" y="178.80" width="0.8" height="17.50" fill="#7c8088"/>
<rect x="422.81" y="178.80" width="0.8" height="17.50" fill="#7c8088"/>
<rect x="429.38" y="178.80" width="0.8" height="17.50" fill="#7c8088"/>
<rect x="435.95" y="178.80" width="0.8" height="17.50" fill="#7c8088"/>
<rect x="442.52" y="178.80" width="0.8" height="17.50" fill="#7c8088"/>
<rect x="449.09" y="178.80" width="0.8" height="17.50" fill="#7c8088"/>
<rect x="455.66" y="178.80" width="0.8" height="17.50" fill="#7c8088"/>
<rect x="462.23" y="178.80" width="0.8" height="17.50" fill="#7c8088"/>
<rect x="468.80" y="178.80" width="0.8" height="17.50" fill="#7c8088"/>
<rect x="475.37" y="178.80" width="0.8" height="17.50" fill="#7c8088"/>
</g>
<text x="494.3" y="150.00" class="rl">MLL</text>
<text x="494.3" y="170.35" class="rl">B/T</text>
<text x="494.3" y="190.70" class="rl">proB</text>
<text x="202.3" y="209.4" class="lt">1</text>
<text x="259" y="209.4" class="lt" text-anchor="middle">signal intensity</text>
<text x="316.8" y="209.4" class="lt" text-anchor="end">743</text>
<defs><linearGradient id="lg966" x1="0" x2="1" y1="0" y2="0"><stop offset="0" stop-color="#7ebe5a"/><stop offset="0.2" stop-color="#69a54e"/><stop offset="0.35" stop-color="#375f2d"/><stop offset="0.47" stop-color="#050505"/><stop offset="0.6" stop-color="#461610"/><stop offset="0.8" stop-color="#963022"/><stop offset="1" stop-color="#d8462e"/></linearGradient></defs>
<rect x="203.10" y="212.80" width="107.60" height="4.6" fill="url(#lg966)" stroke="#333" stroke-width="0.7"/>
<g filter="url(#sb)">
<rect x="8.00" y="220.30" width="469.27" height="19.30" fill="#858585"/>
<rect x="9.30" y="220.90" width="6.59" height="18.10" fill="#233419"/>
<rect x="15.87" y="220.90" width="6.59" height="18.10" fill="#486d34"/>
<rect x="22.44" y="220.90" width="6.59" height="18.10" fill="#7ebe5a"/>
<rect x="29.01" y="220.90" width="6.59" height="18.10" fill="#7ebe5a"/>
<rect x="35.58" y="220.90" width="6.59" height="18.10" fill="#7ebe5a"/>
<rect x="42.15" y="220.90" width="6.59" height="18.10" fill="#7ebe5a"/>
<rect x="48.72" y="220.90" width="6.59" height="18.10" fill="#629346"/>
<rect x="55.29" y="220.90" width="6.59" height="18.10" fill="#55803d"/>
<rect x="61.86" y="220.90" width="6.59" height="18.10" fill="#55803d"/>
<rect x="68.43" y="220.90" width="6.59" height="18.10" fill="#561c12"/>
<rect x="75.00" y="220.90" width="6.59" height="18.10" fill="#7ebe5a"/>
<rect x="81.57" y="220.90" width="6.59" height="18.10" fill="#000000"/>
<rect x="88.14" y="220.90" width="6.59" height="18.10" fill="#d8462e"/>
<rect x="94.71" y="220.90" width="6.59" height="18.10" fill="#7ebe5a"/>
<rect x="101.28" y="220.90" width="6.59" height="18.10" fill="#7ebe5a"/>
<rect x="107.85" y="220.90" width="6.59" height="18.10" fill="#772619"/>
<rect x="114.42" y="220.90" width="6.59" height="18.10" fill="#365126"/>
<rect x="120.99" y="220.90" width="6.59" height="18.10" fill="#7ebe5a"/>
<rect x="127.56" y="220.90" width="6.59" height="18.10" fill="#486d34"/>
<rect x="134.13" y="220.90" width="6.59" height="18.10" fill="#000000"/>
<rect x="140.70" y="220.90" width="6.59" height="18.10" fill="#7ebe5a"/>
<rect x="147.27" y="220.90" width="6.59" height="18.10" fill="#70a950"/>
<rect x="153.84" y="220.90" width="6.59" height="18.10" fill="#365126"/>
<rect x="160.41" y="220.90" width="6.59" height="18.10" fill="#7ebe5a"/>
<rect x="166.98" y="220.90" width="6.59" height="18.10" fill="#3b130d"/>
<rect x="173.55" y="220.90" width="6.59" height="18.10" fill="#55803d"/>
<rect x="180.12" y="220.90" width="6.59" height="18.10" fill="#7ebe5a"/>
<rect x="186.69" y="220.90" width="6.59" height="18.10" fill="#7ebe5a"/>
<rect x="193.26" y="220.90" width="6.59" height="18.10" fill="#7ebe5a"/>
<rect x="199.83" y="220.90" width="6.59" height="18.10" fill="#70a950"/>
<rect x="206.40" y="220.90" width="6.59" height="18.10" fill="#629346"/>
<rect x="212.97" y="220.90" width="6.59" height="18.10" fill="#7ebe5a"/>
<rect x="219.54" y="220.90" width="6.59" height="18.10" fill="#486d34"/>
<rect x="226.11" y="220.90" width="6.59" height="18.10" fill="#7ebe5a"/>
<rect x="232.68" y="220.90" width="6.59" height="18.10" fill="#486d34"/>
<rect x="239.25" y="220.90" width="6.59" height="18.10" fill="#55803d"/>
<rect x="245.82" y="220.90" width="6.59" height="18.10" fill="#486d34"/>
<rect x="252.39" y="220.90" width="6.59" height="18.10" fill="#7ebe5a"/>
<rect x="258.96" y="220.90" width="6.59" height="18.10" fill="#365126"/>
<rect x="265.53" y="220.90" width="6.59" height="18.10" fill="#629346"/>
<rect x="272.10" y="220.90" width="6.59" height="18.10" fill="#7ebe5a"/>
<rect x="278.67" y="220.90" width="6.59" height="18.10" fill="#7ebe5a"/>
<rect x="285.24" y="220.90" width="6.59" height="18.10" fill="#7ebe5a"/>
<rect x="291.81" y="220.90" width="6.59" height="18.10" fill="#7ebe5a"/>
<rect x="298.38" y="220.90" width="6.59" height="18.10" fill="#7ebe5a"/>
<rect x="304.95" y="220.90" width="6.59" height="18.10" fill="#7ebe5a"/>
<rect x="311.52" y="220.90" width="6.59" height="18.10" fill="#7ebe5a"/>
<rect x="318.09" y="220.90" width="6.59" height="18.10" fill="#000000"/>
<rect x="324.66" y="220.90" width="6.59" height="18.10" fill="#7ebe5a"/>
<rect x="331.23" y="220.90" width="6.59" height="18.10" fill="#629346"/>
<rect x="337.80" y="220.90" width="6.59" height="18.10" fill="#000000"/>
<rect x="344.37" y="220.90" width="6.59" height="18.10" fill="#486d34"/>
<rect x="350.94" y="220.90" width="6.59" height="18.10" fill="#7ebe5a"/>
<rect x="357.51" y="220.90" width="6.59" height="18.10" fill="#7ebe5a"/>
<rect x="364.08" y="220.90" width="6.59" height="18.10" fill="#233419"/>
<rect x="370.65" y="220.90" width="6.59" height="18.10" fill="#000000"/>
<rect x="377.22" y="220.90" width="6.59" height="18.10" fill="#7ebe5a"/>
<rect x="383.79" y="220.90" width="6.59" height="18.10" fill="#7ebe5a"/>
<rect x="390.36" y="220.90" width="6.59" height="18.10" fill="#7ebe5a"/>
<rect x="396.93" y="220.90" width="6.59" height="18.10" fill="#7ebe5a"/>
<rect x="403.50" y="220.90" width="6.59" height="18.10" fill="#7ebe5a"/>
<rect x="410.07" y="220.90" width="6.59" height="18.10" fill="#7ebe5a"/>
<rect x="416.64" y="220.90" width="6.59" height="18.10" fill="#7ebe5a"/>
<rect x="423.21" y="220.90" width="6.59" height="18.10" fill="#233419"/>
<rect x="429.78" y="220.90" width="6.59" height="18.10" fill="#7ebe5a"/>
<rect x="436.35" y="220.90" width="6.59" height="18.10" fill="#000000"/>
<rect x="442.92" y="220.90" width="6.59" height="18.10" fill="#365126"/>
<rect x="449.49" y="220.90" width="6.59" height="18.10" fill="#7ebe5a"/>
<rect x="456.06" y="220.90" width="6.59" height="18.10" fill="#7ebe5a"/>
<rect x="462.63" y="220.90" width="6.59" height="18.10" fill="#7ebe5a"/>
<rect x="469.20" y="220.90" width="6.59" height="18.10" fill="#7ebe5a"/>
<rect x="15.52" y="220.90" width="0.7" height="18.10" fill="rgba(0,0,0,0.16)"/>
<rect x="22.09" y="220.90" width="0.7" height="18.10" fill="rgba(0,0,0,0.16)"/>
<rect x="28.66" y="220.90" width="0.7" height="18.10" fill="rgba(0,0,0,0.16)"/>
<rect x="35.23" y="220.90" width="0.7" height="18.10" fill="rgba(0,0,0,0.16)"/>
<rect x="41.80" y="220.90" width="0.7" height="18.10" fill="rgba(0,0,0,0.16)"/>
<rect x="48.37" y="220.90" width="0.7" height="18.10" fill="rgba(0,0,0,0.16)"/>
<rect x="54.94" y="220.90" width="0.7" height="18.10" fill="rgba(0,0,0,0.16)"/>
<rect x="61.51" y="220.90" width="0.7" height="18.10" fill="rgba(0,0,0,0.16)"/>
<rect x="68.08" y="220.90" width="0.7" height="18.10" fill="rgba(0,0,0,0.16)"/>
<rect x="74.65" y="220.90" width="0.7" height="18.10" fill="rgba(0,0,0,0.16)"/>
<rect x="81.22" y="220.90" width="0.7" height="18.10" fill="rgba(0,0,0,0.16)"/>
<rect x="87.79" y="220.90" width="0.7" height="18.10" fill="rgba(0,0,0,0.16)"/>
<rect x="94.36" y="220.90" width="0.7" height="18.10" fill="rgba(0,0,0,0.16)"/>
<rect x="100.93" y="220.90" width="0.7" height="18.10" fill="rgba(0,0,0,0.16)"/>
<rect x="107.50" y="220.90" width="0.7" height="18.10" fill="rgba(0,0,0,0.16)"/>
<rect x="114.07" y="220.90" width="0.7" height="18.10" fill="rgba(0,0,0,0.16)"/>
<rect x="120.64" y="220.90" width="0.7" height="18.10" fill="rgba(0,0,0,0.16)"/>
<rect x="127.21" y="220.90" width="0.7" height="18.10" fill="rgba(0,0,0,0.16)"/>
<rect x="133.78" y="220.90" width="0.7" height="18.10" fill="rgba(0,0,0,0.16)"/>
<rect x="140.35" y="220.90" width="0.7" height="18.10" fill="rgba(0,0,0,0.16)"/>
<rect x="146.92" y="220.90" width="0.7" height="18.10" fill="rgba(0,0,0,0.16)"/>
<rect x="153.49" y="220.90" width="0.7" height="18.10" fill="rgba(0,0,0,0.16)"/>
<rect x="160.06" y="220.90" width="0.7" height="18.10" fill="rgba(0,0,0,0.16)"/>
<rect x="166.63" y="220.90" width="0.7" height="18.10" fill="rgba(0,0,0,0.16)"/>
<rect x="173.20" y="220.90" width="0.7" height="18.10" fill="rgba(0,0,0,0.16)"/>
<rect x="179.77" y="220.90" width="0.7" height="18.10" fill="rgba(0,0,0,0.16)"/>
<rect x="186.34" y="220.90" width="0.7" height="18.10" fill="rgba(0,0,0,0.16)"/>
<rect x="192.91" y="220.90" width="0.7" height="18.10" fill="rgba(0,0,0,0.16)"/>
<rect x="199.48" y="220.90" width="0.7" height="18.10" fill="rgba(0,0,0,0.16)"/>
<rect x="206.05" y="220.90" width="0.7" height="18.10" fill="rgba(0,0,0,0.16)"/>
<rect x="212.62" y="220.90" width="0.7" height="18.10" fill="rgba(0,0,0,0.16)"/>
<rect x="219.19" y="220.90" width="0.7" height="18.10" fill="rgba(0,0,0,0.16)"/>
<rect x="225.76" y="220.90" width="0.7" height="18.10" fill="rgba(0,0,0,0.16)"/>
<rect x="232.33" y="220.90" width="0.7" height="18.10" fill="rgba(0,0,0,0.16)"/>
<rect x="238.90" y="220.90" width="0.7" height="18.10" fill="rgba(0,0,0,0.16)"/>
<rect x="245.47" y="220.90" width="0.7" height="18.10" fill="rgba(0,0,0,0.16)"/>
<rect x="252.04" y="220.90" width="0.7" height="18.10" fill="rgba(0,0,0,0.16)"/>
<rect x="258.61" y="220.90" width="0.7" height="18.10" fill="rgba(0,0,0,0.16)"/>
<rect x="265.18" y="220.90" width="0.7" height="18.10" fill="rgba(0,0,0,0.16)"/>
<rect x="271.75" y="220.90" width="0.7" height="18.10" fill="rgba(0,0,0,0.16)"/>
<rect x="278.32" y="220.90" width="0.7" height="18.10" fill="rgba(0,0,0,0.16)"/>
<rect x="284.89" y="220.90" width="0.7" height="18.10" fill="rgba(0,0,0,0.16)"/>
<rect x="291.46" y="220.90" width="0.7" height="18.10" fill="rgba(0,0,0,0.16)"/>
<rect x="298.03" y="220.90" width="0.7" height="18.10" fill="rgba(0,0,0,0.16)"/>
<rect x="304.60" y="220.90" width="0.7" height="18.10" fill="rgba(0,0,0,0.16)"/>
<rect x="311.17" y="220.90" width="0.7" height="18.10" fill="rgba(0,0,0,0.16)"/>
<rect x="317.74" y="220.90" width="0.7" height="18.10" fill="rgba(0,0,0,0.16)"/>
<rect x="324.31" y="220.90" width="0.7" height="18.10" fill="rgba(0,0,0,0.16)"/>
<rect x="330.88" y="220.90" width="0.7" height="18.10" fill="rgba(0,0,0,0.16)"/>
<rect x="337.45" y="220.90" width="0.7" height="18.10" fill="rgba(0,0,0,0.16)"/>
<rect x="344.02" y="220.90" width="0.7" height="18.10" fill="rgba(0,0,0,0.16)"/>
<rect x="350.59" y="220.90" width="0.7" height="18.10" fill="rgba(0,0,0,0.16)"/>
<rect x="357.16" y="220.90" width="0.7" height="18.10" fill="rgba(0,0,0,0.16)"/>
<rect x="363.73" y="220.90" width="0.7" height="18.10" fill="rgba(0,0,0,0.16)"/>
<rect x="370.30" y="220.90" width="0.7" height="18.10" fill="rgba(0,0,0,0.16)"/>
<rect x="376.87" y="220.90" width="0.7" height="18.10" fill="rgba(0,0,0,0.16)"/>
<rect x="383.44" y="220.90" width="0.7" height="18.10" fill="rgba(0,0,0,0.16)"/>
<rect x="390.01" y="220.90" width="0.7" height="18.10" fill="rgba(0,0,0,0.16)"/>
<rect x="396.58" y="220.90" width="0.7" height="18.10" fill="rgba(0,0,0,0.16)"/>
<rect x="403.15" y="220.90" width="0.7" height="18.10" fill="rgba(0,0,0,0.16)"/>
<rect x="409.72" y="220.90" width="0.7" height="18.10" fill="rgba(0,0,0,0.16)"/>
<rect x="416.29" y="220.90" width="0.7" height="18.10" fill="rgba(0,0,0,0.16)"/>
<rect x="422.86" y="220.90" width="0.7" height="18.10" fill="rgba(0,0,0,0.16)"/>
<rect x="429.43" y="220.90" width="0.7" height="18.10" fill="rgba(0,0,0,0.16)"/>
<rect x="436.00" y="220.90" width="0.7" height="18.10" fill="rgba(0,0,0,0.16)"/>
<rect x="442.57" y="220.90" width="0.7" height="18.10" fill="rgba(0,0,0,0.16)"/>
<rect x="449.14" y="220.90" width="0.7" height="18.10" fill="rgba(0,0,0,0.16)"/>
<rect x="455.71" y="220.90" width="0.7" height="18.10" fill="rgba(0,0,0,0.16)"/>
<rect x="462.28" y="220.90" width="0.7" height="18.10" fill="rgba(0,0,0,0.16)"/>
<rect x="468.85" y="220.90" width="0.7" height="18.10" fill="rgba(0,0,0,0.16)"/>
<rect x="8.00" y="241.00" width="469.27" height="19.30" fill="#858585"/>
<rect x="9.30" y="241.60" width="6.59" height="18.10" fill="#7ebe5a"/>
<rect x="15.87" y="241.60" width="6.59" height="18.10" fill="#7ebe5a"/>
<rect x="22.44" y="241.60" width="6.59" height="18.10" fill="#7ebe5a"/>
<rect x="29.01" y="241.60" width="6.59" height="18.10" fill="#7ebe5a"/>
<rect x="35.58" y="241.60" width="6.59" height="18.10" fill="#7ebe5a"/>
<rect x="42.15" y="241.60" width="6.59" height="18.10" fill="#7ebe5a"/>
<rect x="48.72" y="241.60" width="6.59" height="18.10" fill="#7ebe5a"/>
<rect x="55.29" y="241.60" width="6.59" height="18.10" fill="#7ebe5a"/>
<rect x="61.86" y="241.60" width="6.59" height="18.10" fill="#7ebe5a"/>
<rect x="68.43" y="241.60" width="6.59" height="18.10" fill="#7ebe5a"/>
<rect x="75.00" y="241.60" width="6.59" height="18.10" fill="#7ebe5a"/>
<rect x="81.57" y="241.60" width="6.59" height="18.10" fill="#7ebe5a"/>
<rect x="88.14" y="241.60" width="6.59" height="18.10" fill="#629346"/>
<rect x="94.71" y="241.60" width="6.59" height="18.10" fill="#70a950"/>
<rect x="101.28" y="241.60" width="6.59" height="18.10" fill="#70a950"/>
<rect x="107.85" y="241.60" width="6.59" height="18.10" fill="#629346"/>
<rect x="114.42" y="241.60" width="6.59" height="18.10" fill="#486d34"/>
<rect x="120.99" y="241.60" width="6.59" height="18.10" fill="#7ebe5a"/>
<rect x="127.56" y="241.60" width="6.59" height="18.10" fill="#7ebe5a"/>
<rect x="134.13" y="241.60" width="6.59" height="18.10" fill="#70a950"/>
<rect x="140.70" y="241.60" width="6.59" height="18.10" fill="#629346"/>
<rect x="147.27" y="241.60" width="6.59" height="18.10" fill="#7ebe5a"/>
<rect x="153.84" y="241.60" width="6.59" height="18.10" fill="#7ebe5a"/>
<rect x="160.41" y="241.60" width="6.59" height="18.10" fill="#629346"/>
<rect x="166.98" y="241.60" width="6.59" height="18.10" fill="#3b130d"/>
<rect x="173.55" y="241.60" width="6.59" height="18.10" fill="#7ebe5a"/>
<rect x="180.12" y="241.60" width="6.59" height="18.10" fill="#7ebe5a"/>
<rect x="186.69" y="241.60" width="6.59" height="18.10" fill="#7ebe5a"/>
<rect x="193.26" y="241.60" width="6.59" height="18.10" fill="#7ebe5a"/>
<rect x="199.83" y="241.60" width="6.59" height="18.10" fill="#7ebe5a"/>
<rect x="206.40" y="241.60" width="6.59" height="18.10" fill="#7ebe5a"/>
<rect x="212.97" y="241.60" width="6.59" height="18.10" fill="#7ebe5a"/>
<rect x="219.54" y="241.60" width="6.59" height="18.10" fill="#7ebe5a"/>
<rect x="226.11" y="241.60" width="6.59" height="18.10" fill="#7ebe5a"/>
<rect x="232.68" y="241.60" width="6.59" height="18.10" fill="#7ebe5a"/>
<rect x="239.25" y="241.60" width="6.59" height="18.10" fill="#7ebe5a"/>
<rect x="245.82" y="241.60" width="6.59" height="18.10" fill="#70a950"/>
<rect x="252.39" y="241.60" width="6.59" height="18.10" fill="#7ebe5a"/>
<rect x="258.96" y="241.60" width="6.59" height="18.10" fill="#7ebe5a"/>
<rect x="265.53" y="241.60" width="6.59" height="18.10" fill="#7ebe5a"/>
<rect x="272.10" y="241.60" width="6.59" height="18.10" fill="#7ebe5a"/>
<rect x="278.67" y="241.60" width="6.59" height="18.10" fill="#7ebe5a"/>
<rect x="285.24" y="241.60" width="6.59" height="18.10" fill="#7ebe5a"/>
<rect x="291.81" y="241.60" width="6.59" height="18.10" fill="#7ebe5a"/>
<rect x="298.38" y="241.60" width="6.59" height="18.10" fill="#7ebe5a"/>
<rect x="304.95" y="241.60" width="6.59" height="18.10" fill="#7ebe5a"/>
<rect x="311.52" y="241.60" width="6.59" height="18.10" fill="#7ebe5a"/>
<rect x="318.09" y="241.60" width="6.59" height="18.10" fill="#7ebe5a"/>
<rect x="324.66" y="241.60" width="6.59" height="18.10" fill="#7ebe5a"/>
<rect x="331.23" y="241.60" width="6.59" height="18.10" fill="#7ebe5a"/>
<rect x="337.80" y="241.60" width="6.59" height="18.10" fill="#233419"/>
<rect x="344.37" y="241.60" width="6.59" height="18.10" fill="#629346"/>
<rect x="350.94" y="241.60" width="6.59" height="18.10" fill="#7ebe5a"/>
<rect x="357.51" y="241.60" width="6.59" height="18.10" fill="#7ebe5a"/>
<rect x="364.08" y="241.60" width="6.59" height="18.10" fill="#7ebe5a"/>
<rect x="370.65" y="241.60" width="6.59" height="18.10" fill="#7ebe5a"/>
<rect x="377.22" y="241.60" width="6.59" height="18.10" fill="#7ebe5a"/>
<rect x="383.79" y="241.60" width="6.59" height="18.10" fill="#7ebe5a"/>
<rect x="390.36" y="241.60" width="6.59" height="18.10" fill="#7ebe5a"/>
<rect x="396.93" y="241.60" width="6.59" height="18.10" fill="#7ebe5a"/>
<rect x="403.50" y="241.60" width="6.59" height="18.10" fill="#7ebe5a"/>
<rect x="410.07" y="241.60" width="6.59" height="18.10" fill="#7ebe5a"/>
<rect x="416.64" y="241.60" width="6.59" height="18.10" fill="#7ebe5a"/>
<rect x="423.21" y="241.60" width="6.59" height="18.10" fill="#629346"/>
<rect x="429.78" y="241.60" width="6.59" height="18.10" fill="#629346"/>
<rect x="436.35" y="241.60" width="6.59" height="18.10" fill="#7ebe5a"/>
<rect x="442.92" y="241.60" width="6.59" height="18.10" fill="#7ebe5a"/>
<rect x="449.49" y="241.60" width="6.59" height="18.10" fill="#7ebe5a"/>
<rect x="456.06" y="241.60" width="6.59" height="18.10" fill="#7ebe5a"/>
<rect x="462.63" y="241.60" width="6.59" height="18.10" fill="#7ebe5a"/>
<rect x="469.20" y="241.60" width="6.59" height="18.10" fill="#7ebe5a"/>
<rect x="15.52" y="241.60" width="0.7" height="18.10" fill="rgba(0,0,0,0.16)"/>
<rect x="22.09" y="241.60" width="0.7" height="18.10" fill="rgba(0,0,0,0.16)"/>
<rect x="28.66" y="241.60" width="0.7" height="18.10" fill="rgba(0,0,0,0.16)"/>
<rect x="35.23" y="241.60" width="0.7" height="18.10" fill="rgba(0,0,0,0.16)"/>
<rect x="41.80" y="241.60" width="0.7" height="18.10" fill="rgba(0,0,0,0.16)"/>
<rect x="48.37" y="241.60" width="0.7" height="18.10" fill="rgba(0,0,0,0.16)"/>
<rect x="54.94" y="241.60" width="0.7" height="18.10" fill="rgba(0,0,0,0.16)"/>
<rect x="61.51" y="241.60" width="0.7" height="18.10" fill="rgba(0,0,0,0.16)"/>
<rect x="68.08" y="241.60" width="0.7" height="18.10" fill="rgba(0,0,0,0.16)"/>
<rect x="74.65" y="241.60" width="0.7" height="18.10" fill="rgba(0,0,0,0.16)"/>
<rect x="81.22" y="241.60" width="0.7" height="18.10" fill="rgba(0,0,0,0.16)"/>
<rect x="87.79" y="241.60" width="0.7" height="18.10" fill="rgba(0,0,0,0.16)"/>
<rect x="94.36" y="241.60" width="0.7" height="18.10" fill="rgba(0,0,0,0.16)"/>
<rect x="100.93" y="241.60" width="0.7" height="18.10" fill="rgba(0,0,0,0.16)"/>
<rect x="107.50" y="241.60" width="0.7" height="18.10" fill="rgba(0,0,0,0.16)"/>
<rect x="114.07" y="241.60" width="0.7" height="18.10" fill="rgba(0,0,0,0.16)"/>
<rect x="120.64" y="241.60" width="0.7" height="18.10" fill="rgba(0,0,0,0.16)"/>
<rect x="127.21" y="241.60" width="0.7" height="18.10" fill="rgba(0,0,0,0.16)"/>
<rect x="133.78" y="241.60" width="0.7" height="18.10" fill="rgba(0,0,0,0.16)"/>
<rect x="140.35" y="241.60" width="0.7" height="18.10" fill="rgba(0,0,0,0.16)"/>
<rect x="146.92" y="241.60" width="0.7" height="18.10" fill="rgba(0,0,0,0.16)"/>
<rect x="153.49" y="241.60" width="0.7" height="18.10" fill="rgba(0,0,0,0.16)"/>
<rect x="160.06" y="241.60" width="0.7" height="18.10" fill="rgba(0,0,0,0.16)"/>
<rect x="166.63" y="241.60" width="0.7" height="18.10" fill="rgba(0,0,0,0.16)"/>
<rect x="173.20" y="241.60" width="0.7" height="18.10" fill="rgba(0,0,0,0.16)"/>
<rect x="179.77" y="241.60" width="0.7" height="18.10" fill="rgba(0,0,0,0.16)"/>
<rect x="186.34" y="241.60" width="0.7" height="18.10" fill="rgba(0,0,0,0.16)"/>
<rect x="192.91" y="241.60" width="0.7" height="18.10" fill="rgba(0,0,0,0.16)"/>
<rect x="199.48" y="241.60" width="0.7" height="18.10" fill="rgba(0,0,0,0.16)"/>
<rect x="206.05" y="241.60" width="0.7" height="18.10" fill="rgba(0,0,0,0.16)"/>
<rect x="212.62" y="241.60" width="0.7" height="18.10" fill="rgba(0,0,0,0.16)"/>
<rect x="219.19" y="241.60" width="0.7" height="18.10" fill="rgba(0,0,0,0.16)"/>
<rect x="225.76" y="241.60" width="0.7" height="18.10" fill="rgba(0,0,0,0.16)"/>
<rect x="232.33" y="241.60" width="0.7" height="18.10" fill="rgba(0,0,0,0.16)"/>
<rect x="238.90" y="241.60" width="0.7" height="18.10" fill="rgba(0,0,0,0.16)"/>
<rect x="245.47" y="241.60" width="0.7" height="18.10" fill="rgba(0,0,0,0.16)"/>
<rect x="252.04" y="241.60" width="0.7" height="18.10" fill="rgba(0,0,0,0.16)"/>
<rect x="258.61" y="241.60" width="0.7" height="18.10" fill="rgba(0,0,0,0.16)"/>
<rect x="265.18" y="241.60" width="0.7" height="18.10" fill="rgba(0,0,0,0.16)"/>
<rect x="271.75" y="241.60" width="0.7" height="18.10" fill="rgba(0,0,0,0.16)"/>
<rect x="278.32" y="241.60" width="0.7" height="18.10" fill="rgba(0,0,0,0.16)"/>
<rect x="284.89" y="241.60" width="0.7" height="18.10" fill="rgba(0,0,0,0.16)"/>
<rect x="291.46" y="241.60" width="0.7" height="18.10" fill="rgba(0,0,0,0.16)"/>
<rect x="298.03" y="241.60" width="0.7" height="18.10" fill="rgba(0,0,0,0.16)"/>
<rect x="304.60" y="241.60" width="0.7" height="18.10" fill="rgba(0,0,0,0.16)"/>
<rect x="311.17" y="241.60" width="0.7" height="18.10" fill="rgba(0,0,0,0.16)"/>
<rect x="317.74" y="241.60" width="0.7" height="18.10" fill="rgba(0,0,0,0.16)"/>
<rect x="324.31" y="241.60" width="0.7" height="18.10" fill="rgba(0,0,0,0.16)"/>
<rect x="330.88" y="241.60" width="0.7" height="18.10" fill="rgba(0,0,0,0.16)"/>
<rect x="337.45" y="241.60" width="0.7" height="18.10" fill="rgba(0,0,0,0.16)"/>
<rect x="344.02" y="241.60" width="0.7" height="18.10" fill="rgba(0,0,0,0.16)"/>
<rect x="350.59" y="241.60" width="0.7" height="18.10" fill="rgba(0,0,0,0.16)"/>
<rect x="357.16" y="241.60" width="0.7" height="18.10" fill="rgba(0,0,0,0.16)"/>
<rect x="363.73" y="241.60" width="0.7" height="18.10" fill="rgba(0,0,0,0.16)"/>
<rect x="370.30" y="241.60" width="0.7" height="18.10" fill="rgba(0,0,0,0.16)"/>
<rect x="376.87" y="241.60" width="0.7" height="18.10" fill="rgba(0,0,0,0.16)"/>
<rect x="383.44" y="241.60" width="0.7" height="18.10" fill="rgba(0,0,0,0.16)"/>
<rect x="390.01" y="241.60" width="0.7" height="18.10" fill="rgba(0,0,0,0.16)"/>
<rect x="396.58" y="241.60" width="0.7" height="18.10" fill="rgba(0,0,0,0.16)"/>
<rect x="403.15" y="241.60" width="0.7" height="18.10" fill="rgba(0,0,0,0.16)"/>
<rect x="409.72" y="241.60" width="0.7" height="18.10" fill="rgba(0,0,0,0.16)"/>
<rect x="416.29" y="241.60" width="0.7" height="18.10" fill="rgba(0,0,0,0.16)"/>
<rect x="422.86" y="241.60" width="0.7" height="18.10" fill="rgba(0,0,0,0.16)"/>
<rect x="429.43" y="241.60" width="0.7" height="18.10" fill="rgba(0,0,0,0.16)"/>
<rect x="436.00" y="241.60" width="0.7" height="18.10" fill="rgba(0,0,0,0.16)"/>
<rect x="442.57" y="241.60" width="0.7" height="18.10" fill="rgba(0,0,0,0.16)"/>
<rect x="449.14" y="241.60" width="0.7" height="18.10" fill="rgba(0,0,0,0.16)"/>
<rect x="455.71" y="241.60" width="0.7" height="18.10" fill="rgba(0,0,0,0.16)"/>
<rect x="462.28" y="241.60" width="0.7" height="18.10" fill="rgba(0,0,0,0.16)"/>
<rect x="468.85" y="241.60" width="0.7" height="18.10" fill="rgba(0,0,0,0.16)"/>
<rect x="8.00" y="261.80" width="469.27" height="19.30" fill="#858585"/>
<rect x="9.30" y="262.40" width="6.59" height="18.10" fill="#7ebe5a"/>
<rect x="15.87" y="262.40" width="6.59" height="18.10" fill="#7ebe5a"/>
<rect x="22.44" y="262.40" width="6.59" height="18.10" fill="#7ebe5a"/>
<rect x="29.01" y="262.40" width="6.59" height="18.10" fill="#7ebe5a"/>
<rect x="35.58" y="262.40" width="6.59" height="18.10" fill="#7ebe5a"/>
<rect x="42.15" y="262.40" width="6.59" height="18.10" fill="#7ebe5a"/>
<rect x="48.72" y="262.40" width="6.59" height="18.10" fill="#7ebe5a"/>
<rect x="55.29" y="262.40" width="6.59" height="18.10" fill="#7ebe5a"/>
<rect x="61.86" y="262.40" width="6.59" height="18.10" fill="#7ebe5a"/>
<rect x="68.43" y="262.40" width="6.59" height="18.10" fill="#7ebe5a"/>
<rect x="75.00" y="262.40" width="6.59" height="18.10" fill="#7ebe5a"/>
<rect x="81.57" y="262.40" width="6.59" height="18.10" fill="#7ebe5a"/>
<rect x="88.14" y="262.40" width="6.59" height="18.10" fill="#7ebe5a"/>
<rect x="94.71" y="262.40" width="6.59" height="18.10" fill="#7ebe5a"/>
<rect x="101.28" y="262.40" width="6.59" height="18.10" fill="#7ebe5a"/>
<rect x="107.85" y="262.40" width="6.59" height="18.10" fill="#365126"/>
<rect x="114.42" y="262.40" width="6.59" height="18.10" fill="#70a950"/>
<rect x="120.99" y="262.40" width="6.59" height="18.10" fill="#7ebe5a"/>
<rect x="127.56" y="262.40" width="6.59" height="18.10" fill="#7ebe5a"/>
<rect x="134.13" y="262.40" width="6.59" height="18.10" fill="#7ebe5a"/>
<rect x="140.70" y="262.40" width="6.59" height="18.10" fill="#7ebe5a"/>
<rect x="147.27" y="262.40" width="6.59" height="18.10" fill="#7ebe5a"/>
<rect x="153.84" y="262.40" width="6.59" height="18.10" fill="#772619"/>
<rect x="160.41" y="262.40" width="6.59" height="18.10" fill="#7ebe5a"/>
<rect x="166.98" y="262.40" width="6.59" height="18.10" fill="#000000"/>
<rect x="173.55" y="262.40" width="6.59" height="18.10" fill="#7ebe5a"/>
<rect x="180.12" y="262.40" width="6.59" height="18.10" fill="#7ebe5a"/>
<rect x="186.69" y="262.40" width="6.59" height="18.10" fill="#7ebe5a"/>
<rect x="193.26" y="262.40" width="6.59" height="18.10" fill="#7ebe5a"/>
<rect x="199.83" y="262.40" width="6.59" height="18.10" fill="#7ebe5a"/>
<rect x="206.40" y="262.40" width="6.59" height="18.10" fill="#7ebe5a"/>
<rect x="212.97" y="262.40" width="6.59" height="18.10" fill="#7ebe5a"/>
<rect x="219.54" y="262.40" width="6.59" height="18.10" fill="#7ebe5a"/>
<rect x="226.11" y="262.40" width="6.59" height="18.10" fill="#7ebe5a"/>
<rect x="232.68" y="262.40" width="6.59" height="18.10" fill="#7ebe5a"/>
<rect x="239.25" y="262.40" width="6.59" height="18.10" fill="#7ebe5a"/>
<rect x="245.82" y="262.40" width="6.59" height="18.10" fill="#7ebe5a"/>
<rect x="252.39" y="262.40" width="6.59" height="18.10" fill="#7ebe5a"/>
<rect x="258.96" y="262.40" width="6.59" height="18.10" fill="#7ebe5a"/>
<rect x="265.53" y="262.40" width="6.59" height="18.10" fill="#7ebe5a"/>
<rect x="272.10" y="262.40" width="6.59" height="18.10" fill="#70a950"/>
<rect x="278.67" y="262.40" width="6.59" height="18.10" fill="#7ebe5a"/>
<rect x="285.24" y="262.40" width="6.59" height="18.10" fill="#7ebe5a"/>
<rect x="291.81" y="262.40" width="6.59" height="18.10" fill="#7ebe5a"/>
<rect x="298.38" y="262.40" width="6.59" height="18.10" fill="#7ebe5a"/>
<rect x="304.95" y="262.40" width="6.59" height="18.10" fill="#7ebe5a"/>
<rect x="311.52" y="262.40" width="6.59" height="18.10" fill="#7ebe5a"/>
<rect x="318.09" y="262.40" width="6.59" height="18.10" fill="#7ebe5a"/>
<rect x="324.66" y="262.40" width="6.59" height="18.10" fill="#7ebe5a"/>
<rect x="331.23" y="262.40" width="6.59" height="18.10" fill="#7ebe5a"/>
<rect x="337.80" y="262.40" width="6.59" height="18.10" fill="#7ebe5a"/>
<rect x="344.37" y="262.40" width="6.59" height="18.10" fill="#7ebe5a"/>
<rect x="350.94" y="262.40" width="6.59" height="18.10" fill="#7ebe5a"/>
<rect x="357.51" y="262.40" width="6.59" height="18.10" fill="#7ebe5a"/>
<rect x="364.08" y="262.40" width="6.59" height="18.10" fill="#7ebe5a"/>
<rect x="370.65" y="262.40" width="6.59" height="18.10" fill="#7ebe5a"/>
<rect x="377.22" y="262.40" width="6.59" height="18.10" fill="#7ebe5a"/>
<rect x="383.79" y="262.40" width="6.59" height="18.10" fill="#7ebe5a"/>
<rect x="390.36" y="262.40" width="6.59" height="18.10" fill="#7ebe5a"/>
<rect x="396.93" y="262.40" width="6.59" height="18.10" fill="#7ebe5a"/>
<rect x="403.50" y="262.40" width="6.59" height="18.10" fill="#7ebe5a"/>
<rect x="410.07" y="262.40" width="6.59" height="18.10" fill="#7ebe5a"/>
<rect x="416.64" y="262.40" width="6.59" height="18.10" fill="#7ebe5a"/>
<rect x="423.21" y="262.40" width="6.59" height="18.10" fill="#7ebe5a"/>
<rect x="429.78" y="262.40" width="6.59" height="18.10" fill="#7ebe5a"/>
<rect x="436.35" y="262.40" width="6.59" height="18.10" fill="#7ebe5a"/>
<rect x="442.92" y="262.40" width="6.59" height="18.10" fill="#7ebe5a"/>
<rect x="449.49" y="262.40" width="6.59" height="18.10" fill="#7ebe5a"/>
<rect x="456.06" y="262.40" width="6.59" height="18.10" fill="#7ebe5a"/>
<rect x="462.63" y="262.40" width="6.59" height="18.10" fill="#7ebe5a"/>
<rect x="469.20" y="262.40" width="6.59" height="18.10" fill="#7ebe5a"/>
<rect x="15.52" y="262.40" width="0.7" height="18.10" fill="rgba(0,0,0,0.16)"/>
<rect x="22.09" y="262.40" width="0.7" height="18.10" fill="rgba(0,0,0,0.16)"/>
<rect x="28.66" y="262.40" width="0.7" height="18.10" fill="rgba(0,0,0,0.16)"/>
<rect x="35.23" y="262.40" width="0.7" height="18.10" fill="rgba(0,0,0,0.16)"/>
<rect x="41.80" y="262.40" width="0.7" height="18.10" fill="rgba(0,0,0,0.16)"/>
<rect x="48.37" y="262.40" width="0.7" height="18.10" fill="rgba(0,0,0,0.16)"/>
<rect x="54.94" y="262.40" width="0.7" height="18.10" fill="rgba(0,0,0,0.16)"/>
<rect x="61.51" y="262.40" width="0.7" height="18.10" fill="rgba(0,0,0,0.16)"/>
<rect x="68.08" y="262.40" width="0.7" height="18.10" fill="rgba(0,0,0,0.16)"/>
<rect x="74.65" y="262.40" width="0.7" height="18.10" fill="rgba(0,0,0,0.16)"/>
<rect x="81.22" y="262.40" width="0.7" height="18.10" fill="rgba(0,0,0,0.16)"/>
<rect x="87.79" y="262.40" width="0.7" height="18.10" fill="rgba(0,0,0,0.16)"/>
<rect x="94.36" y="262.40" width="0.7" height="18.10" fill="rgba(0,0,0,0.16)"/>
<rect x="100.93" y="262.40" width="0.7" height="18.10" fill="rgba(0,0,0,0.16)"/>
<rect x="107.50" y="262.40" width="0.7" height="18.10" fill="rgba(0,0,0,0.16)"/>
<rect x="114.07" y="262.40" width="0.7" height="18.10" fill="rgba(0,0,0,0.16)"/>
<rect x="120.64" y="262.40" width="0.7" height="18.10" fill="rgba(0,0,0,0.16)"/>
<rect x="127.21" y="262.40" width="0.7" height="18.10" fill="rgba(0,0,0,0.16)"/>
<rect x="133.78" y="262.40" width="0.7" height="18.10" fill="rgba(0,0,0,0.16)"/>
<rect x="140.35" y="262.40" width="0.7" height="18.10" fill="rgba(0,0,0,0.16)"/>
<rect x="146.92" y="262.40" width="0.7" height="18.10" fill="rgba(0,0,0,0.16)"/>
<rect x="153.49" y="262.40" width="0.7" height="18.10" fill="rgba(0,0,0,0.16)"/>
<rect x="160.06" y="262.40" width="0.7" height="18.10" fill="rgba(0,0,0,0.16)"/>
<rect x="166.63" y="262.40" width="0.7" height="18.10" fill="rgba(0,0,0,0.16)"/>
<rect x="173.20" y="262.40" width="0.7" height="18.10" fill="rgba(0,0,0,0.16)"/>
<rect x="179.77" y="262.40" width="0.7" height="18.10" fill="rgba(0,0,0,0.16)"/>
<rect x="186.34" y="262.40" width="0.7" height="18.10" fill="rgba(0,0,0,0.16)"/>
<rect x="192.91" y="262.40" width="0.7" height="18.10" fill="rgba(0,0,0,0.16)"/>
<rect x="199.48" y="262.40" width="0.7" height="18.10" fill="rgba(0,0,0,0.16)"/>
<rect x="206.05" y="262.40" width="0.7" height="18.10" fill="rgba(0,0,0,0.16)"/>
<rect x="212.62" y="262.40" width="0.7" height="18.10" fill="rgba(0,0,0,0.16)"/>
<rect x="219.19" y="262.40" width="0.7" height="18.10" fill="rgba(0,0,0,0.16)"/>
<rect x="225.76" y="262.40" width="0.7" height="18.10" fill="rgba(0,0,0,0.16)"/>
<rect x="232.33" y="262.40" width="0.7" height="18.10" fill="rgba(0,0,0,0.16)"/>
<rect x="238.90" y="262.40" width="0.7" height="18.10" fill="rgba(0,0,0,0.16)"/>
<rect x="245.47" y="262.40" width="0.7" height="18.10" fill="rgba(0,0,0,0.16)"/>
<rect x="252.04" y="262.40" width="0.7" height="18.10" fill="rgba(0,0,0,0.16)"/>
<rect x="258.61" y="262.40" width="0.7" height="18.10" fill="rgba(0,0,0,0.16)"/>
<rect x="265.18" y="262.40" width="0.7" height="18.10" fill="rgba(0,0,0,0.16)"/>
<rect x="271.75" y="262.40" width="0.7" height="18.10" fill="rgba(0,0,0,0.16)"/>
<rect x="278.32" y="262.40" width="0.7" height="18.10" fill="rgba(0,0,0,0.16)"/>
<rect x="284.89" y="262.40" width="0.7" height="18.10" fill="rgba(0,0,0,0.16)"/>
<rect x="291.46" y="262.40" width="0.7" height="18.10" fill="rgba(0,0,0,0.16)"/>
<rect x="298.03" y="262.40" width="0.7" height="18.10" fill="rgba(0,0,0,0.16)"/>
<rect x="304.60" y="262.40" width="0.7" height="18.10" fill="rgba(0,0,0,0.16)"/>
<rect x="311.17" y="262.40" width="0.7" height="18.10" fill="rgba(0,0,0,0.16)"/>
<rect x="317.74" y="262.40" width="0.7" height="18.10" fill="rgba(0,0,0,0.16)"/>
<rect x="324.31" y="262.40" width="0.7" height="18.10" fill="rgba(0,0,0,0.16)"/>
<rect x="330.88" y="262.40" width="0.7" height="18.10" fill="rgba(0,0,0,0.16)"/>
<rect x="337.45" y="262.40" width="0.7" height="18.10" fill="rgba(0,0,0,0.16)"/>
<rect x="344.02" y="262.40" width="0.7" height="18.10" fill="rgba(0,0,0,0.16)"/>
<rect x="350.59" y="262.40" width="0.7" height="18.10" fill="rgba(0,0,0,0.16)"/>
<rect x="357.16" y="262.40" width="0.7" height="18.10" fill="rgba(0,0,0,0.16)"/>
<rect x="363.73" y="262.40" width="0.7" height="18.10" fill="rgba(0,0,0,0.16)"/>
<rect x="370.30" y="262.40" width="0.7" height="18.10" fill="rgba(0,0,0,0.16)"/>
<rect x="376.87" y="262.40" width="0.7" height="18.10" fill="rgba(0,0,0,0.16)"/>
<rect x="383.44" y="262.40" width="0.7" height="18.10" fill="rgba(0,0,0,0.16)"/>
<rect x="390.01" y="262.40" width="0.7" height="18.10" fill="rgba(0,0,0,0.16)"/>
<rect x="396.58" y="262.40" width="0.7" height="18.10" fill="rgba(0,0,0,0.16)"/>
<rect x="403.15" y="262.40" width="0.7" height="18.10" fill="rgba(0,0,0,0.16)"/>
<rect x="409.72" y="262.40" width="0.7" height="18.10" fill="rgba(0,0,0,0.16)"/>
<rect x="416.29" y="262.40" width="0.7" height="18.10" fill="rgba(0,0,0,0.16)"/>
<rect x="422.86" y="262.40" width="0.7" height="18.10" fill="rgba(0,0,0,0.16)"/>
<rect x="429.43" y="262.40" width="0.7" height="18.10" fill="rgba(0,0,0,0.16)"/>
<rect x="436.00" y="262.40" width="0.7" height="18.10" fill="rgba(0,0,0,0.16)"/>
<rect x="442.57" y="262.40" width="0.7" height="18.10" fill="rgba(0,0,0,0.16)"/>
<rect x="449.14" y="262.40" width="0.7" height="18.10" fill="rgba(0,0,0,0.16)"/>
<rect x="455.71" y="262.40" width="0.7" height="18.10" fill="rgba(0,0,0,0.16)"/>
<rect x="462.28" y="262.40" width="0.7" height="18.10" fill="rgba(0,0,0,0.16)"/>
<rect x="468.85" y="262.40" width="0.7" height="18.10" fill="rgba(0,0,0,0.16)"/>
</g>
<text x="494.3" y="234.50" class="rl">MLL</text>
<text x="494.3" y="254.85" class="rl">B/T</text>
<text x="494.3" y="275.20" class="rl">proB</text>
<text x="0.9" y="312.7" class="bigb">B</text>
<text x="198.6" y="316.6" class="lt">+2</text>
<text x="257" y="316.6" class="lt" text-anchor="middle">log2 change</text>
<text x="311.5" y="316.6" class="lt" text-anchor="end">-2</text>
<defs><linearGradient id="lg1403" x1="0" x2="1" y1="0" y2="0"><stop offset="0" stop-color="#d8462e"/><stop offset="0.42" stop-color="#c83c28"/><stop offset="0.52" stop-color="#3c0f0a"/><stop offset="0.6" stop-color="#050505"/><stop offset="0.66" stop-color="#285023"/><stop offset="0.72" stop-color="#7ebe5a"/><stop offset="1" stop-color="#7ebe5a"/></linearGradient></defs>
<rect x="203.50" y="320.00" width="107.80" height="4.6" fill="url(#lg1403)" stroke="#333" stroke-width="0.7"/>
<rect x="8.00" y="326.80" width="475.80" height="19.40" fill="#8a8a8a"/>
<g filter="url(#hb)">
<rect x="8.90" y="327.40" width="2.96" height="18.20" fill="#c6372c"/>
<rect x="11.81" y="327.40" width="1.97" height="18.20" fill="#a62e25"/>
<rect x="13.73" y="327.40" width="1.46" height="18.20" fill="#c6372c"/>
<rect x="15.14" y="327.40" width="1.51" height="18.20" fill="#bb3429"/>
<rect x="16.60" y="327.40" width="4.16" height="18.20" fill="#d03a2e"/>
<rect x="20.71" y="327.40" width="1.64" height="18.20" fill="#4e1611"/>
<rect x="22.31" y="327.40" width="1.82" height="18.20" fill="#d03a2e"/>
<rect x="24.08" y="327.40" width="1.05" height="18.20" fill="#b13127"/>
<rect x="25.08" y="327.40" width="1.28" height="18.20" fill="#d03a2e"/>
<rect x="26.32" y="327.40" width="1.05" height="18.20" fill="#c6372c"/>
<rect x="27.32" y="327.40" width="1.84" height="18.20" fill="#78211a"/>
<rect x="29.11" y="327.40" width="2.66" height="18.20" fill="#8c271f"/>
<rect x="31.71" y="327.40" width="3.99" height="18.20" fill="#d03a2e"/>
<rect x="35.66" y="327.40" width="1.67" height="18.20" fill="#4e1611"/>
<rect x="37.28" y="327.40" width="1.63" height="18.20" fill="#d03a2e"/>
<rect x="38.85" y="327.40" width="2.04" height="18.20" fill="#a62e25"/>
<rect x="40.84" y="327.40" width="3.61" height="18.20" fill="#c6372c"/>
<rect x="44.40" y="327.40" width="1.22" height="18.20" fill="#bb3429"/>
<rect x="45.56" y="327.40" width="0.98" height="18.20" fill="#c6372c"/>
<rect x="46.50" y="327.40" width="1.46" height="18.20" fill="#4e1611"/>
<rect x="47.91" y="327.40" width="1.43" height="18.20" fill="#d03a2e"/>
<rect x="49.29" y="327.40" width="1.88" height="18.20" fill="#8c271f"/>
<rect x="51.12" y="327.40" width="1.52" height="18.20" fill="#78211a"/>
<rect x="52.59" y="327.40" width="1.65" height="18.20" fill="#8c271f"/>
<rect x="54.19" y="327.40" width="1.50" height="18.20" fill="#a62e25"/>
<rect x="55.64" y="327.40" width="1.68" height="18.20" fill="#bb3429"/>
<rect x="57.27" y="327.40" width="1.45" height="18.20" fill="#b13127"/>
<rect x="58.68" y="327.40" width="1.26" height="18.20" fill="#a62e25"/>
<rect x="59.88" y="327.40" width="2.05" height="18.20" fill="#d03a2e"/>
<rect x="61.88" y="327.40" width="2.05" height="18.20" fill="#78211a"/>
<rect x="63.87" y="327.40" width="1.87" height="18.20" fill="#b13127"/>
<rect x="65.70" y="327.40" width="1.73" height="18.20" fill="#c6372c"/>
<rect x="67.38" y="327.40" width="1.30" height="18.20" fill="#8c271f"/>
<rect x="68.62" y="327.40" width="1.20" height="18.20" fill="#d03a2e"/>
<rect x="69.78" y="327.40" width="1.27" height="18.20" fill="#4e1611"/>
<rect x="71.00" y="327.40" width="4.11" height="18.20" fill="#d03a2e"/>
<rect x="75.06" y="327.40" width="1.88" height="18.20" fill="#b13127"/>
<rect x="76.89" y="327.40" width="3.33" height="18.20" fill="#bb3429"/>
<rect x="80.17" y="327.40" width="1.88" height="18.20" fill="#b13127"/>
<rect x="82.00" y="327.40" width="0.95" height="18.20" fill="#1a0706"/>
<rect x="82.90" y="327.40" width="3.08" height="18.20" fill="#b13127"/>
<rect x="85.93" y="327.40" width="1.47" height="18.20" fill="#1a0706"/>
<rect x="87.35" y="327.40" width="3.37" height="18.20" fill="#c6372c"/>
<rect x="90.66" y="327.40" width="1.03" height="18.20" fill="#b13127"/>
<rect x="91.64" y="327.40" width="1.64" height="18.20" fill="#a62e25"/>
<rect x="93.24" y="327.40" width="1.81" height="18.20" fill="#8c271f"/>
<rect x="94.99" y="327.40" width="1.25" height="18.20" fill="#bb3429"/>
<rect x="96.19" y="327.40" width="1.05" height="18.20" fill="#78211a"/>
<rect x="97.18" y="327.40" width="1.32" height="18.20" fill="#8c271f"/>
<rect x="98.45" y="327.40" width="2.01" height="18.20" fill="#bb3429"/>
<rect x="100.41" y="327.40" width="1.78" height="18.20" fill="#b13127"/>
<rect x="102.15" y="327.40" width="1.08" height="18.20" fill="#c6372c"/>
<rect x="103.17" y="327.40" width="2.23" height="18.20" fill="#8c271f"/>
<rect x="105.36" y="327.40" width="1.02" height="18.20" fill="#d03a2e"/>
<rect x="106.32" y="327.40" width="1.83" height="18.20" fill="#c6372c"/>
<rect x="108.10" y="327.40" width="1.15" height="18.20" fill="#b13127"/>
<rect x="109.20" y="327.40" width="1.57" height="18.20" fill="#4e1611"/>
<rect x="110.71" y="327.40" width="1.44" height="18.20" fill="#b13127"/>
<rect x="112.10" y="327.40" width="1.16" height="18.20" fill="#a62e25"/>
<rect x="113.21" y="327.40" width="1.76" height="18.20" fill="#b13127"/>
<rect x="114.92" y="327.40" width="1.09" height="18.20" fill="#c6372c"/>
<rect x="115.96" y="327.40" width="2.69" height="18.20" fill="#8c271f"/>
<rect x="118.60" y="327.40" width="2.55" height="18.20" fill="#c6372c"/>
<rect x="121.09" y="327.40" width="1.25" height="18.20" fill="#78211a"/>
<rect x="122.29" y="327.40" width="2.02" height="18.20" fill="#8c271f"/>
<rect x="124.26" y="327.40" width="1.83" height="18.20" fill="#b13127"/>
<rect x="126.04" y="327.40" width="1.28" height="18.20" fill="#c6372c"/>
<rect x="127.28" y="327.40" width="1.92" height="18.20" fill="#bb3429"/>
<rect x="129.15" y="327.40" width="1.18" height="18.20" fill="#b13127"/>
<rect x="130.28" y="327.40" width="4.83" height="18.20" fill="#a62e25"/>
<rect x="135.06" y="327.40" width="1.06" height="18.20" fill="#4e1611"/>
<rect x="136.07" y="327.40" width="2.04" height="18.20" fill="#b13127"/>
<rect x="138.06" y="327.40" width="2.37" height="18.20" fill="#bb3429"/>
<rect x="140.38" y="327.40" width="1.80" height="18.20" fill="#a62e25"/>
<rect x="142.13" y="327.40" width="1.31" height="18.20" fill="#b13127"/>
<rect x="143.39" y="327.40" width="1.28" height="18.20" fill="#c6372c"/>
<rect x="144.62" y="327.40" width="1.03" height="18.20" fill="#78211a"/>
<rect x="145.60" y="327.40" width="1.05" height="18.20" fill="#bb3429"/>
<rect x="146.60" y="327.40" width="2.76" height="18.20" fill="#b13127"/>
<rect x="149.31" y="327.40" width="1.61" height="18.20" fill="#8c271f"/>
<rect x="150.87" y="327.40" width="1.36" height="18.20" fill="#c6372c"/>
<rect x="152.18" y="327.40" width="1.45" height="18.20" fill="#4e1611"/>
<rect x="153.57" y="327.40" width="2.01" height="18.20" fill="#d03a2e"/>
<rect x="155.53" y="327.40" width="1.48" height="18.20" fill="#8c271f"/>
<rect x="156.96" y="327.40" width="1.58" height="18.20" fill="#bb3429"/>
<rect x="158.49" y="327.40" width="1.90" height="18.20" fill="#c6372c"/>
<rect x="160.35" y="327.40" width="1.15" height="18.20" fill="#d03a2e"/>
<rect x="161.45" y="327.40" width="1.12" height="18.20" fill="#8c271f"/>
<rect x="162.52" y="327.40" width="1.95" height="18.20" fill="#c6372c"/>
<rect x="164.42" y="327.40" width="1.85" height="18.20" fill="#4e1611"/>
<rect x="166.22" y="327.40" width="1.22" height="18.20" fill="#d03a2e"/>
<rect x="167.39" y="327.40" width="1.16" height="18.20" fill="#8c271f"/>
<rect x="168.50" y="327.40" width="1.76" height="18.20" fill="#b13127"/>
<rect x="170.21" y="327.40" width="1.98" height="18.20" fill="#c6372c"/>
<rect x="172.15" y="327.40" width="1.17" height="18.20" fill="#b13127"/>
<rect x="173.26" y="327.40" width="2.00" height="18.20" fill="#a62e25"/>
<rect x="175.21" y="327.40" width="1.92" height="18.20" fill="#8c271f"/>
<rect x="177.08" y="327.40" width="1.61" height="18.20" fill="#bb3429"/>
<rect x="178.64" y="327.40" width="2.43" height="18.20" fill="#d03a2e"/>
<rect x="181.02" y="327.40" width="4.11" height="18.20" fill="#a62e25"/>
<rect x="185.08" y="327.40" width="1.73" height="18.20" fill="#4e1611"/>
<rect x="186.76" y="327.40" width="1.23" height="18.20" fill="#b13127"/>
<rect x="187.94" y="327.40" width="1.86" height="18.20" fill="#d03a2e"/>
<rect x="189.75" y="327.40" width="1.61" height="18.20" fill="#a62e25"/>
<rect x="191.30" y="327.40" width="1.27" height="18.20" fill="#c6372c"/>
<rect x="192.53" y="327.40" width="1.14" height="18.20" fill="#d03a2e"/>
<rect x="193.62" y="327.40" width="1.74" height="18.20" fill="#4e1611"/>
<rect x="195.31" y="327.40" width="1.03" height="18.20" fill="#1a0706"/>
<rect x="196.29" y="327.40" width="1.20" height="18.20" fill="#bb3429"/>
<rect x="197.44" y="327.40" width="1.57" height="18.20" fill="#4e1611"/>
<rect x="198.95" y="327.40" width="1.89" height="18.20" fill="#bb3429"/>
<rect x="200.79" y="327.40" width="1.63" height="18.20" fill="#8c271f"/>
<rect x="202.37" y="327.40" width="1.26" height="18.20" fill="#d03a2e"/>
<rect x="203.58" y="327.40" width="1.96" height="18.20" fill="#8c271f"/>
<rect x="205.49" y="327.40" width="1.17" height="18.20" fill="#c6372c"/>
<rect x="206.61" y="327.40" width="2.16" height="18.20" fill="#4e1611"/>
<rect x="208.72" y="327.40" width="1.44" height="18.20" fill="#8c271f"/>
<rect x="210.11" y="327.40" width="1.02" height="18.20" fill="#bb3429"/>
<rect x="211.08" y="327.40" width="1.14" height="18.20" fill="#8c271f"/>
<rect x="212.17" y="327.40" width="1.36" height="18.20" fill="#c6372c"/>
<rect x="213.48" y="327.40" width="1.58" height="18.20" fill="#bb3429"/>
<rect x="215.01" y="327.40" width="1.09" height="18.20" fill="#b13127"/>
<rect x="216.05" y="327.40" width="3.23" height="18.20" fill="#8c271f"/>
<rect x="219.23" y="327.40" width="2.03" height="18.20" fill="#c6372c"/>
<rect x="221.21" y="327.40" width="1.67" height="18.20" fill="#b13127"/>
<rect x="222.83" y="327.40" width="1.71" height="18.20" fill="#1a0706"/>
<rect x="224.49" y="327.40" width="1.59" height="18.20" fill="#8c271f"/>
<rect x="226.04" y="327.40" width="2.04" height="18.20" fill="#a62e25"/>
<rect x="228.03" y="327.40" width="0.97" height="18.20" fill="#b13127"/>
<rect x="228.95" y="327.40" width="3.62" height="18.20" fill="#c6372c"/>
<rect x="232.52" y="327.40" width="2.01" height="18.20" fill="#4e1611"/>
<rect x="234.48" y="327.40" width="0.97" height="18.20" fill="#c6372c"/>
<rect x="235.40" y="327.40" width="1.65" height="18.20" fill="#d03a2e"/>
<rect x="237.00" y="327.40" width="3.18" height="18.20" fill="#b13127"/>
<rect x="240.14" y="327.40" width="1.30" height="18.20" fill="#a62e25"/>
<rect x="241.39" y="327.40" width="2.05" height="18.20" fill="#bb3429"/>
<rect x="243.39" y="327.40" width="1.03" height="18.20" fill="#d03a2e"/>
<rect x="244.37" y="327.40" width="1.55" height="18.20" fill="#bb3429"/>
<rect x="245.87" y="327.40" width="1.76" height="18.20" fill="#d03a2e"/>
<rect x="247.58" y="327.40" width="1.94" height="18.20" fill="#b13127"/>
<rect x="249.47" y="327.40" width="1.76" height="18.20" fill="#71ab51"/>
<rect x="251.18" y="327.40" width="1.72" height="18.20" fill="#527c3a"/>
<rect x="252.86" y="327.40" width="1.82" height="18.20" fill="#71ab51"/>
<rect x="254.63" y="327.40" width="3.24" height="18.20" fill="#6ba24c"/>
<rect x="257.82" y="327.40" width="1.70" height="18.20" fill="#7ebe5a"/>
<rect x="259.48" y="327.40" width="3.80" height="18.20" fill="#5e8e44"/>
<rect x="263.23" y="327.40" width="1.41" height="18.20" fill="#78b456"/>
<rect x="264.59" y="327.40" width="3.67" height="18.20" fill="#5e8e44"/>
<rect x="268.21" y="327.40" width="1.58" height="18.20" fill="#71ab51"/>
<rect x="269.74" y="327.40" width="2.96" height="18.20" fill="#78b456"/>
<rect x="272.64" y="327.40" width="1.59" height="18.20" fill="#3f5f2d"/>
<rect x="274.18" y="327.40" width="1.62" height="18.20" fill="#71ab51"/>
<rect x="275.75" y="327.40" width="1.04" height="18.20" fill="#6ba24c"/>
<rect x="276.74" y="327.40" width="1.65" height="18.20" fill="#7ebe5a"/>
<rect x="278.35" y="327.40" width="2.04" height="18.20" fill="#71ab51"/>
<rect x="280.34" y="327.40" width="1.92" height="18.20" fill="#78b456"/>
<rect x="282.21" y="327.40" width="1.75" height="18.20" fill="#71ab51"/>
<rect x="283.91" y="327.40" width="1.38" height="18.20" fill="#78b456"/>
<rect x="285.23" y="327.40" width="1.76" height="18.20" fill="#71ab51"/>
<rect x="286.94" y="327.40" width="1.59" height="18.20" fill="#78b456"/>
<rect x="288.48" y="327.40" width="1.43" height="18.20" fill="#3f5f2d"/>
<rect x="289.87" y="327.40" width="1.87" height="18.20" fill="#6ba24c"/>
<rect x="291.69" y="327.40" width="1.04" height="18.20" fill="#527c3a"/>
<rect x="292.68" y="327.40" width="2.71" height="18.20" fill="#7ebe5a"/>
<rect x="295.34" y="327.40" width="1.61" height="18.20" fill="#6ba24c"/>
<rect x="296.90" y="327.40" width="1.48" height="18.20" fill="#5e8e44"/>
<rect x="298.33" y="327.40" width="1.20" height="18.20" fill="#6ba24c"/>
<rect x="299.48" y="327.40" width="1.72" height="18.20" fill="#7ebe5a"/>
<rect x="301.15" y="327.40" width="1.50" height="18.20" fill="#78b456"/>
<rect x="302.60" y="327.40" width="1.63" height="18.20" fill="#71ab51"/>
<rect x="304.17" y="327.40" width="1.96" height="18.20" fill="#78b456"/>
<rect x="306.09" y="327.40" width="1.23" height="18.20" fill="#6ba24c"/>
<rect x="307.27" y="327.40" width="0.96" height="18.20" fill="#7ebe5a"/>
<rect x="308.18" y="327.40" width="2.93" height="18.20" fill="#78b456"/>
<rect x="311.06" y="327.40" width="2.26" height="18.20" fill="#71ab51"/>
<rect x="313.27" y="327.40" width="1.95" height="18.20" fill="#527c3a"/>
<rect x="315.16" y="327.40" width="1.68" height="18.20" fill="#6ba24c"/>
<rect x="316.79" y="327.40" width="1.44" height="18.20" fill="#7ebe5a"/>
<rect x="318.17" y="327.40" width="1.93" height="18.20" fill="#71ab51"/>
<rect x="320.06" y="327.40" width="1.31" height="18.20" fill="#78b456"/>
<rect x="321.32" y="327.40" width="2.80" height="18.20" fill="#71ab51"/>
<rect x="324.07" y="327.40" width="1.42" height="18.20" fill="#7ebe5a"/>
<rect x="325.44" y="327.40" width="1.84" height="18.20" fill="#78b456"/>
<rect x="327.23" y="327.40" width="3.82" height="18.20" fill="#71ab51"/>
<rect x="331.00" y="327.40" width="1.37" height="18.20" fill="#6ba24c"/>
<rect x="332.32" y="327.40" width="1.59" height="18.20" fill="#7ebe5a"/>
<rect x="333.87" y="327.40" width="1.30" height="18.20" fill="#5e8e44"/>
<rect x="335.11" y="327.40" width="1.10" height="18.20" fill="#6ba24c"/>
<rect x="336.16" y="327.40" width="1.50" height="18.20" fill="#78b456"/>
<rect x="337.61" y="327.40" width="1.87" height="18.20" fill="#3f5f2d"/>
<rect x="339.43" y="327.40" width="1.88" height="18.20" fill="#5e8e44"/>
<rect x="341.26" y="327.40" width="1.73" height="18.20" fill="#71ab51"/>
<rect x="342.95" y="327.40" width="2.00" height="18.20" fill="#5e8e44"/>
<rect x="344.89" y="327.40" width="1.25" height="18.20" fill="#7ebe5a"/>
<rect x="346.10" y="327.40" width="1.14" height="18.20" fill="#71ab51"/>
<rect x="347.18" y="327.40" width="1.45" height="18.20" fill="#78b456"/>
<rect x="348.58" y="327.40" width="1.25" height="18.20" fill="#7ebe5a"/>
<rect x="349.78" y="327.40" width="1.19" height="18.20" fill="#78b456"/>
<rect x="350.92" y="327.40" width="1.41" height="18.20" fill="#7ebe5a"/>
<rect x="352.27" y="327.40" width="3.08" height="18.20" fill="#6ba24c"/>
<rect x="355.30" y="327.40" width="1.30" height="18.20" fill="#78b456"/>
<rect x="356.55" y="327.40" width="1.87" height="18.20" fill="#527c3a"/>
<rect x="358.37" y="327.40" width="2.03" height="18.20" fill="#7ebe5a"/>
<rect x="360.35" y="327.40" width="2.43" height="18.20" fill="#6ba24c"/>
<rect x="362.73" y="327.40" width="0.98" height="18.20" fill="#7ebe5a"/>
<rect x="363.67" y="327.40" width="1.91" height="18.20" fill="#71ab51"/>
<rect x="365.53" y="327.40" width="1.00" height="18.20" fill="#527c3a"/>
<rect x="366.47" y="327.40" width="1.73" height="18.20" fill="#7ebe5a"/>
<rect x="368.15" y="327.40" width="1.58" height="18.20" fill="#78b456"/>
<rect x="369.68" y="327.40" width="1.29" height="18.20" fill="#7ebe5a"/>
<rect x="370.92" y="327.40" width="1.82" height="18.20" fill="#78b456"/>
<rect x="372.69" y="327.40" width="0.97" height="18.20" fill="#527c3a"/>
<rect x="373.61" y="327.40" width="1.10" height="18.20" fill="#6ba24c"/>
<rect x="374.66" y="327.40" width="2.38" height="18.20" fill="#71ab51"/>
<rect x="376.99" y="327.40" width="1.86" height="18.20" fill="#7ebe5a"/>
<rect x="378.80" y="327.40" width="1.21" height="18.20" fill="#5e8e44"/>
<rect x="379.96" y="327.40" width="1.10" height="18.20" fill="#3f5f2d"/>
<rect x="381.02" y="327.40" width="2.59" height="18.20" fill="#71ab51"/>
<rect x="383.56" y="327.40" width="1.44" height="18.20" fill="#7ebe5a"/>
<rect x="384.95" y="327.40" width="1.64" height="18.20" fill="#71ab51"/>
<rect x="386.55" y="327.40" width="3.46" height="18.20" fill="#78b456"/>
<rect x="389.95" y="327.40" width="3.66" height="18.20" fill="#7ebe5a"/>
<rect x="393.56" y="327.40" width="1.17" height="18.20" fill="#78b456"/>
<rect x="394.68" y="327.40" width="1.47" height="18.20" fill="#6ba24c"/>
<rect x="396.10" y="327.40" width="2.06" height="18.20" fill="#71ab51"/>
<rect x="398.11" y="327.40" width="1.47" height="18.20" fill="#7ebe5a"/>
<rect x="399.53" y="327.40" width="1.74" height="18.20" fill="#78b456"/>
<rect x="401.22" y="327.40" width="1.15" height="18.20" fill="#6ba24c"/>
<rect x="402.31" y="327.40" width="1.25" height="18.20" fill="#71ab51"/>
<rect x="403.51" y="327.40" width="4.47" height="18.20" fill="#7ebe5a"/>
<rect x="407.93" y="327.40" width="1.63" height="18.20" fill="#527c3a"/>
<rect x="409.51" y="327.40" width="1.78" height="18.20" fill="#78b456"/>
<rect x="411.24" y="327.40" width="1.38" height="18.20" fill="#71ab51"/>
<rect x="412.57" y="327.40" width="1.82" height="18.20" fill="#78b456"/>
<rect x="414.34" y="327.40" width="1.95" height="18.20" fill="#3f5f2d"/>
<rect x="416.24" y="327.40" width="1.05" height="18.20" fill="#71ab51"/>
<rect x="417.24" y="327.40" width="1.98" height="18.20" fill="#5e8e44"/>
<rect x="419.16" y="327.40" width="1.74" height="18.20" fill="#71ab51"/>
<rect x="420.86" y="327.40" width="2.49" height="18.20" fill="#6ba24c"/>
<rect x="423.30" y="327.40" width="1.64" height="18.20" fill="#7ebe5a"/>
<rect x="424.89" y="327.40" width="1.95" height="18.20" fill="#5e8e44"/>
<rect x="426.79" y="327.40" width="1.36" height="18.20" fill="#78b456"/>
<rect x="428.10" y="327.40" width="1.58" height="18.20" fill="#5e8e44"/>
<rect x="429.63" y="327.40" width="1.92" height="18.20" fill="#71ab51"/>
<rect x="431.50" y="327.40" width="1.83" height="18.20" fill="#527c3a"/>
<rect x="433.27" y="327.40" width="3.40" height="18.20" fill="#7ebe5a"/>
<rect x="436.62" y="327.40" width="1.67" height="18.20" fill="#71ab51"/>
<rect x="438.24" y="327.40" width="1.18" height="18.20" fill="#527c3a"/>
<rect x="439.36" y="327.40" width="1.74" height="18.20" fill="#7ebe5a"/>
<rect x="441.06" y="327.40" width="1.85" height="18.20" fill="#5e8e44"/>
<rect x="442.86" y="327.40" width="1.66" height="18.20" fill="#7ebe5a"/>
<rect x="444.46" y="327.40" width="1.74" height="18.20" fill="#6ba24c"/>
<rect x="446.15" y="327.40" width="1.18" height="18.20" fill="#71ab51"/>
<rect x="447.29" y="327.40" width="1.94" height="18.20" fill="#527c3a"/>
<rect x="449.18" y="327.40" width="2.03" height="18.20" fill="#7ebe5a"/>
<rect x="451.16" y="327.40" width="3.52" height="18.20" fill="#6ba24c"/>
<rect x="454.62" y="327.40" width="1.82" height="18.20" fill="#7ebe5a"/>
<rect x="456.39" y="327.40" width="1.30" height="18.20" fill="#6ba24c"/>
<rect x="457.64" y="327.40" width="1.95" height="18.20" fill="#3f5f2d"/>
<rect x="459.54" y="327.40" width="3.17" height="18.20" fill="#71ab51"/>
<rect x="462.67" y="327.40" width="1.04" height="18.20" fill="#7ebe5a"/>
<rect x="463.66" y="327.40" width="1.43" height="18.20" fill="#78b456"/>
<rect x="465.05" y="327.40" width="1.56" height="18.20" fill="#527c3a"/>
<rect x="466.55" y="327.40" width="1.80" height="18.20" fill="#6ba24c"/>
<rect x="468.30" y="327.40" width="1.49" height="18.20" fill="#71ab51"/>
<rect x="469.73" y="327.40" width="0.98" height="18.20" fill="#6ba24c"/>
<rect x="470.66" y="327.40" width="2.81" height="18.20" fill="#78b456"/>
<rect x="473.42" y="327.40" width="1.83" height="18.20" fill="#7ebe5a"/>
<rect x="475.20" y="327.40" width="1.14" height="18.20" fill="#5e8e44"/>
<rect x="476.29" y="327.40" width="1.32" height="18.20" fill="#6ba24c"/>
<rect x="477.56" y="327.40" width="1.82" height="18.20" fill="#71ab51"/>
<rect x="479.33" y="327.40" width="1.10" height="18.20" fill="#7ebe5a"/>
<rect x="480.38" y="327.40" width="1.11" height="18.20" fill="#5e8e44"/>
<rect x="481.45" y="327.40" width="1.20" height="18.20" fill="#6ba24c"/>
</g>
<rect x="8.00" y="347.80" width="475.80" height="19.40" fill="#8a8a8a"/>
<g filter="url(#hb)">
<rect x="8.90" y="348.40" width="1.06" height="18.20" fill="#d03a2e"/>
<rect x="9.91" y="348.40" width="2.97" height="18.20" fill="#c6372c"/>
<rect x="12.83" y="348.40" width="1.43" height="18.20" fill="#a62e25"/>
<rect x="14.21" y="348.40" width="1.80" height="18.20" fill="#d03a2e"/>
<rect x="15.96" y="348.40" width="1.33" height="18.20" fill="#bb3429"/>
<rect x="17.23" y="348.40" width="1.86" height="18.20" fill="#78211a"/>
<rect x="19.04" y="348.40" width="1.97" height="18.20" fill="#c6372c"/>
<rect x="20.96" y="348.40" width="1.10" height="18.20" fill="#b13127"/>
<rect x="22.01" y="348.40" width="1.18" height="18.20" fill="#bb3429"/>
<rect x="23.14" y="348.40" width="1.11" height="18.20" fill="#78211a"/>
<rect x="24.20" y="348.40" width="1.71" height="18.20" fill="#b13127"/>
<rect x="25.86" y="348.40" width="1.48" height="18.20" fill="#a62e25"/>
<rect x="27.29" y="348.40" width="3.55" height="18.20" fill="#d03a2e"/>
<rect x="30.79" y="348.40" width="1.75" height="18.20" fill="#b13127"/>
<rect x="32.49" y="348.40" width="1.62" height="18.20" fill="#c6372c"/>
<rect x="34.06" y="348.40" width="1.30" height="18.20" fill="#78211a"/>
<rect x="35.31" y="348.40" width="1.82" height="18.20" fill="#a62e25"/>
<rect x="37.08" y="348.40" width="1.22" height="18.20" fill="#bb3429"/>
<rect x="38.25" y="348.40" width="2.03" height="18.20" fill="#d03a2e"/>
<rect x="40.24" y="348.40" width="1.53" height="18.20" fill="#4e1611"/>
<rect x="41.72" y="348.40" width="1.24" height="18.20" fill="#b13127"/>
<rect x="42.91" y="348.40" width="1.16" height="18.20" fill="#bb3429"/>
<rect x="44.01" y="348.40" width="1.29" height="18.20" fill="#c6372c"/>
<rect x="45.25" y="348.40" width="2.95" height="18.20" fill="#b13127"/>
<rect x="48.15" y="348.40" width="1.18" height="18.20" fill="#78211a"/>
<rect x="49.27" y="348.40" width="1.32" height="18.20" fill="#8c271f"/>
<rect x="50.54" y="348.40" width="1.27" height="18.20" fill="#bb3429"/>
<rect x="51.76" y="348.40" width="1.06" height="18.20" fill="#d03a2e"/>
<rect x="52.78" y="348.40" width="1.73" height="18.20" fill="#8c271f"/>
<rect x="54.46" y="348.40" width="1.23" height="18.20" fill="#bb3429"/>
<rect x="55.64" y="348.40" width="1.54" height="18.20" fill="#d03a2e"/>
<rect x="57.13" y="348.40" width="1.28" height="18.20" fill="#4e1611"/>
<rect x="58.36" y="348.40" width="1.21" height="18.20" fill="#bb3429"/>
<rect x="59.52" y="348.40" width="1.62" height="18.20" fill="#8c271f"/>
<rect x="61.09" y="348.40" width="1.51" height="18.20" fill="#78211a"/>
<rect x="62.56" y="348.40" width="1.58" height="18.20" fill="#b13127"/>
<rect x="64.09" y="348.40" width="1.17" height="18.20" fill="#a62e25"/>
<rect x="65.21" y="348.40" width="1.98" height="18.20" fill="#8c271f"/>
<rect x="67.13" y="348.40" width="2.05" height="18.20" fill="#c6372c"/>
<rect x="69.13" y="348.40" width="1.73" height="18.20" fill="#1a0706"/>
<rect x="70.81" y="348.40" width="1.98" height="18.20" fill="#d03a2e"/>
<rect x="72.74" y="348.40" width="1.57" height="18.20" fill="#bb3429"/>
<rect x="74.26" y="348.40" width="2.60" height="18.20" fill="#b13127"/>
<rect x="76.82" y="348.40" width="1.80" height="18.20" fill="#78211a"/>
<rect x="78.57" y="348.40" width="1.10" height="18.20" fill="#b13127"/>
<rect x="79.62" y="348.40" width="1.48" height="18.20" fill="#c6372c"/>
<rect x="81.05" y="348.40" width="1.41" height="18.20" fill="#1a0706"/>
<rect x="82.41" y="348.40" width="1.32" height="18.20" fill="#d03a2e"/>
<rect x="83.67" y="348.40" width="1.05" height="18.20" fill="#c6372c"/>
<rect x="84.67" y="348.40" width="1.91" height="18.20" fill="#b13127"/>
<rect x="86.53" y="348.40" width="1.24" height="18.20" fill="#4e1611"/>
<rect x="87.73" y="348.40" width="3.32" height="18.20" fill="#c6372c"/>
<rect x="90.99" y="348.40" width="1.75" height="18.20" fill="#bb3429"/>
<rect x="92.70" y="348.40" width="1.21" height="18.20" fill="#4e1611"/>
<rect x="93.86" y="348.40" width="1.58" height="18.20" fill="#d03a2e"/>
<rect x="95.39" y="348.40" width="1.55" height="18.20" fill="#a62e25"/>
<rect x="96.89" y="348.40" width="1.02" height="18.20" fill="#c6372c"/>
<rect x="97.86" y="348.40" width="1.96" height="18.20" fill="#78211a"/>
<rect x="99.76" y="348.40" width="1.14" height="18.20" fill="#a62e25"/>
<rect x="100.85" y="348.40" width="1.77" height="18.20" fill="#b13127"/>
<rect x="102.57" y="348.40" width="4.27" height="18.20" fill="#bb3429"/>
<rect x="106.78" y="348.40" width="1.98" height="18.20" fill="#8c271f"/>
<rect x="108.71" y="348.40" width="0.95" height="18.20" fill="#4e1611"/>
<rect x="109.62" y="348.40" width="1.70" height="18.20" fill="#c6372c"/>
<rect x="111.27" y="348.40" width="3.08" height="18.20" fill="#bb3429"/>
<rect x="114.30" y="348.40" width="1.35" height="18.20" fill="#c6372c"/>
<rect x="115.60" y="348.40" width="2.69" height="18.20" fill="#b13127"/>
<rect x="118.24" y="348.40" width="1.84" height="18.20" fill="#bb3429"/>
<rect x="120.04" y="348.40" width="1.45" height="18.20" fill="#b13127"/>
<rect x="121.44" y="348.40" width="1.39" height="18.20" fill="#bb3429"/>
<rect x="122.78" y="348.40" width="1.81" height="18.20" fill="#d03a2e"/>
<rect x="124.54" y="348.40" width="5.02" height="18.20" fill="#a62e25"/>
<rect x="129.51" y="348.40" width="1.78" height="18.20" fill="#bb3429"/>
<rect x="131.25" y="348.40" width="1.88" height="18.20" fill="#8c271f"/>
<rect x="133.08" y="348.40" width="1.95" height="18.20" fill="#d03a2e"/>
<rect x="134.97" y="348.40" width="1.63" height="18.20" fill="#78211a"/>
<rect x="136.55" y="348.40" width="1.65" height="18.20" fill="#a62e25"/>
<rect x="138.16" y="348.40" width="1.79" height="18.20" fill="#8c271f"/>
<rect x="139.90" y="348.40" width="2.48" height="18.20" fill="#bb3429"/>
<rect x="142.32" y="348.40" width="0.99" height="18.20" fill="#b13127"/>
<rect x="143.26" y="348.40" width="1.53" height="18.20" fill="#c6372c"/>
<rect x="144.74" y="348.40" width="1.08" height="18.20" fill="#78211a"/>
<rect x="145.77" y="348.40" width="1.40" height="18.20" fill="#8c271f"/>
<rect x="147.12" y="348.40" width="1.32" height="18.20" fill="#b13127"/>
<rect x="148.39" y="348.40" width="1.09" height="18.20" fill="#a62e25"/>
<rect x="149.43" y="348.40" width="1.22" height="18.20" fill="#c6372c"/>
<rect x="150.60" y="348.40" width="1.97" height="18.20" fill="#a62e25"/>
<rect x="152.52" y="348.40" width="1.01" height="18.20" fill="#1a0706"/>
<rect x="153.48" y="348.40" width="3.51" height="18.20" fill="#c6372c"/>
<rect x="156.94" y="348.40" width="1.82" height="18.20" fill="#8c271f"/>
<rect x="158.71" y="348.40" width="1.39" height="18.20" fill="#d03a2e"/>
<rect x="160.05" y="348.40" width="1.50" height="18.20" fill="#c6372c"/>
<rect x="161.50" y="348.40" width="1.06" height="18.20" fill="#a62e25"/>
<rect x="162.51" y="348.40" width="1.33" height="18.20" fill="#b13127"/>
<rect x="163.79" y="348.40" width="1.94" height="18.20" fill="#78211a"/>
<rect x="165.68" y="348.40" width="1.95" height="18.20" fill="#b13127"/>
<rect x="167.58" y="348.40" width="1.57" height="18.20" fill="#d03a2e"/>
<rect x="169.10" y="348.40" width="1.40" height="18.20" fill="#a62e25"/>
<rect x="170.45" y="348.40" width="1.26" height="18.20" fill="#c6372c"/>
<rect x="171.66" y="348.40" width="1.93" height="18.20" fill="#d03a2e"/>
<rect x="173.54" y="348.40" width="1.46" height="18.20" fill="#8c271f"/>
<rect x="174.95" y="348.40" width="1.95" height="18.20" fill="#bb3429"/>
<rect x="176.84" y="348.40" width="1.71" height="18.20" fill="#a62e25"/>
<rect x="178.50" y="348.40" width="1.86" height="18.20" fill="#bb3429"/>
<rect x="180.31" y="348.40" width="4.04" height="18.20" fill="#b13127"/>
<rect x="184.30" y="348.40" width="1.31" height="18.20" fill="#d03a2e"/>
<rect x="185.56" y="348.40" width="1.52" height="18.20" fill="#4e1611"/>
<rect x="187.03" y="348.40" width="1.41" height="18.20" fill="#c6372c"/>
<rect x="188.40" y="348.40" width="0.98" height="18.20" fill="#d03a2e"/>
<rect x="189.32" y="348.40" width="4.75" height="18.20" fill="#b13127"/>
<rect x="194.02" y="348.40" width="1.43" height="18.20" fill="#4e1611"/>
<rect x="195.40" y="348.40" width="1.36" height="18.20" fill="#1a0706"/>
<rect x="196.71" y="348.40" width="1.30" height="18.20" fill="#78211a"/>
<rect x="197.97" y="348.40" width="1.82" height="18.20" fill="#c6372c"/>
<rect x="199.74" y="348.40" width="1.92" height="18.20" fill="#8c271f"/>
<rect x="201.61" y="348.40" width="1.91" height="18.20" fill="#c6372c"/>
<rect x="203.47" y="348.40" width="1.22" height="18.20" fill="#a62e25"/>
<rect x="204.64" y="348.40" width="1.88" height="18.20" fill="#c6372c"/>
<rect x="206.47" y="348.40" width="1.22" height="18.20" fill="#78211a"/>
<rect x="207.64" y="348.40" width="1.91" height="18.20" fill="#4e1611"/>
<rect x="209.50" y="348.40" width="2.02" height="18.20" fill="#bb3429"/>
<rect x="211.47" y="348.40" width="2.49" height="18.20" fill="#b13127"/>
<rect x="213.91" y="348.40" width="1.95" height="18.20" fill="#c6372c"/>
<rect x="215.81" y="348.40" width="1.55" height="18.20" fill="#78211a"/>
<rect x="217.31" y="348.40" width="1.67" height="18.20" fill="#bb3429"/>
<rect x="218.93" y="348.40" width="1.98" height="18.20" fill="#b13127"/>
<rect x="220.86" y="348.40" width="1.92" height="18.20" fill="#d03a2e"/>
<rect x="222.73" y="348.40" width="2.05" height="18.20" fill="#1a0706"/>
<rect x="224.73" y="348.40" width="1.75" height="18.20" fill="#a62e25"/>
<rect x="226.43" y="348.40" width="1.91" height="18.20" fill="#b13127"/>
<rect x="228.29" y="348.40" width="1.36" height="18.20" fill="#bb3429"/>
<rect x="229.60" y="348.40" width="1.55" height="18.20" fill="#c6372c"/>
<rect x="231.10" y="348.40" width="1.57" height="18.20" fill="#b13127"/>
<rect x="232.62" y="348.40" width="1.13" height="18.20" fill="#4e1611"/>
<rect x="233.70" y="348.40" width="1.66" height="18.20" fill="#a62e25"/>
<rect x="235.31" y="348.40" width="1.41" height="18.20" fill="#b13127"/>
<rect x="236.68" y="348.40" width="1.08" height="18.20" fill="#d03a2e"/>
<rect x="237.71" y="348.40" width="2.50" height="18.20" fill="#a62e25"/>
<rect x="240.16" y="348.40" width="1.09" height="18.20" fill="#c6372c"/>
<rect x="241.21" y="348.40" width="1.92" height="18.20" fill="#a62e25"/>
<rect x="243.08" y="348.40" width="1.58" height="18.20" fill="#bb3429"/>
<rect x="244.61" y="348.40" width="1.45" height="18.20" fill="#d03a2e"/>
<rect x="246.01" y="348.40" width="1.28" height="18.20" fill="#b13127"/>
<rect x="247.23" y="348.40" width="1.75" height="18.20" fill="#c6372c"/>
<rect x="248.94" y="348.40" width="2.07" height="18.20" fill="#71ab51"/>
<rect x="250.95" y="348.40" width="1.43" height="18.20" fill="#3f5f2d"/>
<rect x="252.34" y="348.40" width="1.45" height="18.20" fill="#78b456"/>
<rect x="253.73" y="348.40" width="1.53" height="18.20" fill="#7ebe5a"/>
<rect x="255.21" y="348.40" width="2.77" height="18.20" fill="#78b456"/>
<rect x="257.93" y="348.40" width="1.20" height="18.20" fill="#71ab51"/>
<rect x="259.09" y="348.40" width="1.29" height="18.20" fill="#7ebe5a"/>
<rect x="260.32" y="348.40" width="1.45" height="18.20" fill="#71ab51"/>
<rect x="261.72" y="348.40" width="1.30" height="18.20" fill="#5e8e44"/>
<rect x="262.97" y="348.40" width="1.31" height="18.20" fill="#78b456"/>
<rect x="264.22" y="348.40" width="1.11" height="18.20" fill="#71ab51"/>
<rect x="265.28" y="348.40" width="1.80" height="18.20" fill="#5e8e44"/>
<rect x="267.04" y="348.40" width="1.80" height="18.20" fill="#78b456"/>
<rect x="268.79" y="348.40" width="1.92" height="18.20" fill="#6ba24c"/>
<rect x="270.66" y="348.40" width="1.17" height="18.20" fill="#3f5f2d"/>
<rect x="271.78" y="348.40" width="1.89" height="18.20" fill="#71ab51"/>
<rect x="273.63" y="348.40" width="3.92" height="18.20" fill="#7ebe5a"/>
<rect x="277.50" y="348.40" width="1.90" height="18.20" fill="#71ab51"/>
<rect x="279.34" y="348.40" width="2.86" height="18.20" fill="#78b456"/>
<rect x="282.15" y="348.40" width="1.65" height="18.20" fill="#7ebe5a"/>
<rect x="283.75" y="348.40" width="1.72" height="18.20" fill="#6ba24c"/>
<rect x="285.42" y="348.40" width="1.57" height="18.20" fill="#527c3a"/>
<rect x="286.93" y="348.40" width="1.54" height="18.20" fill="#6ba24c"/>
<rect x="288.42" y="348.40" width="3.15" height="18.20" fill="#78b456"/>
<rect x="291.52" y="348.40" width="2.02" height="18.20" fill="#5e8e44"/>
<rect x="293.50" y="348.40" width="1.67" height="18.20" fill="#71ab51"/>
<rect x="295.11" y="348.40" width="1.29" height="18.20" fill="#5e8e44"/>
<rect x="296.35" y="348.40" width="1.85" height="18.20" fill="#78b456"/>
<rect x="298.15" y="348.40" width="2.01" height="18.20" fill="#7ebe5a"/>
<rect x="300.11" y="348.40" width="1.25" height="18.20" fill="#6ba24c"/>
<rect x="301.31" y="348.40" width="3.28" height="18.20" fill="#7ebe5a"/>
<rect x="304.54" y="348.40" width="1.32" height="18.20" fill="#6ba24c"/>
<rect x="305.81" y="348.40" width="2.00" height="18.20" fill="#5e8e44"/>
<rect x="307.76" y="348.40" width="4.25" height="18.20" fill="#78b456"/>
<rect x="311.96" y="348.40" width="1.90" height="18.20" fill="#527c3a"/>
<rect x="313.81" y="348.40" width="1.08" height="18.20" fill="#7ebe5a"/>
<rect x="314.84" y="348.40" width="1.71" height="18.20" fill="#78b456"/>
<rect x="316.50" y="348.40" width="1.25" height="18.20" fill="#5e8e44"/>
<rect x="317.70" y="348.40" width="1.74" height="18.20" fill="#6ba24c"/>
<rect x="319.39" y="348.40" width="1.50" height="18.20" fill="#71ab51"/>
<rect x="320.84" y="348.40" width="1.28" height="18.20" fill="#527c3a"/>
<rect x="322.06" y="348.40" width="1.25" height="18.20" fill="#5e8e44"/>
<rect x="323.26" y="348.40" width="1.83" height="18.20" fill="#78b456"/>
<rect x="325.05" y="348.40" width="2.55" height="18.20" fill="#71ab51"/>
<rect x="327.55" y="348.40" width="1.52" height="18.20" fill="#78b456"/>
<rect x="329.02" y="348.40" width="2.02" height="18.20" fill="#6ba24c"/>
<rect x="331.00" y="348.40" width="1.94" height="18.20" fill="#5e8e44"/>
<rect x="332.88" y="348.40" width="1.15" height="18.20" fill="#7ebe5a"/>
<rect x="333.98" y="348.40" width="1.20" height="18.20" fill="#5e8e44"/>
<rect x="335.13" y="348.40" width="1.10" height="18.20" fill="#71ab51"/>
<rect x="336.17" y="348.40" width="1.68" height="18.20" fill="#5e8e44"/>
<rect x="337.81" y="348.40" width="2.44" height="18.20" fill="#6ba24c"/>
<rect x="340.20" y="348.40" width="1.96" height="18.20" fill="#78b456"/>
<rect x="342.11" y="348.40" width="2.93" height="18.20" fill="#71ab51"/>
<rect x="344.99" y="348.40" width="0.96" height="18.20" fill="#3f5f2d"/>
<rect x="345.90" y="348.40" width="3.09" height="18.20" fill="#78b456"/>
<rect x="348.93" y="348.40" width="1.42" height="18.20" fill="#6ba24c"/>
<rect x="350.30" y="348.40" width="1.58" height="18.20" fill="#7ebe5a"/>
<rect x="351.82" y="348.40" width="1.13" height="18.20" fill="#6ba24c"/>
<rect x="352.90" y="348.40" width="2.04" height="18.20" fill="#78b456"/>
<rect x="354.89" y="348.40" width="1.16" height="18.20" fill="#527c3a"/>
<rect x="356.00" y="348.40" width="1.15" height="18.20" fill="#6ba24c"/>
<rect x="357.10" y="348.40" width="5.52" height="18.20" fill="#7ebe5a"/>
<rect x="362.57" y="348.40" width="1.94" height="18.20" fill="#527c3a"/>
<rect x="364.46" y="348.40" width="1.63" height="18.20" fill="#6ba24c"/>
<rect x="366.04" y="348.40" width="1.96" height="18.20" fill="#7ebe5a"/>
<rect x="367.95" y="348.40" width="1.59" height="18.20" fill="#6ba24c"/>
<rect x="369.50" y="348.40" width="0.95" height="18.20" fill="#78b456"/>
<rect x="370.40" y="348.40" width="1.93" height="18.20" fill="#7ebe5a"/>
<rect x="372.28" y="348.40" width="1.99" height="18.20" fill="#78b456"/>
<rect x="374.22" y="348.40" width="3.71" height="18.20" fill="#7ebe5a"/>
<rect x="377.87" y="348.40" width="1.30" height="18.20" fill="#5e8e44"/>
<rect x="379.12" y="348.40" width="1.48" height="18.20" fill="#7ebe5a"/>
<rect x="380.56" y="348.40" width="0.99" height="18.20" fill="#5e8e44"/>
<rect x="381.49" y="348.40" width="1.27" height="18.20" fill="#71ab51"/>
<rect x="382.71" y="348.40" width="1.86" height="18.20" fill="#6ba24c"/>
<rect x="384.52" y="348.40" width="1.65" height="18.20" fill="#78b456"/>
<rect x="386.12" y="348.40" width="2.03" height="18.20" fill="#5e8e44"/>
<rect x="388.10" y="348.40" width="3.25" height="18.20" fill="#78b456"/>
<rect x="391.30" y="348.40" width="1.60" height="18.20" fill="#6ba24c"/>
<rect x="392.86" y="348.40" width="2.82" height="18.20" fill="#71ab51"/>
<rect x="395.63" y="348.40" width="1.43" height="18.20" fill="#5e8e44"/>
<rect x="397.01" y="348.40" width="1.69" height="18.20" fill="#7ebe5a"/>
<rect x="398.64" y="348.40" width="1.55" height="18.20" fill="#3f5f2d"/>
<rect x="400.15" y="348.40" width="1.23" height="18.20" fill="#6ba24c"/>
<rect x="401.33" y="348.40" width="1.74" height="18.20" fill="#527c3a"/>
<rect x="403.02" y="348.40" width="2.93" height="18.20" fill="#71ab51"/>
<rect x="405.90" y="348.40" width="3.39" height="18.20" fill="#5e8e44"/>
<rect x="409.23" y="348.40" width="1.61" height="18.20" fill="#3f5f2d"/>
<rect x="410.80" y="348.40" width="1.24" height="18.20" fill="#6ba24c"/>
<rect x="411.98" y="348.40" width="1.17" height="18.20" fill="#7ebe5a"/>
<rect x="413.11" y="348.40" width="2.02" height="18.20" fill="#5e8e44"/>
<rect x="415.07" y="348.40" width="1.01" height="18.20" fill="#7ebe5a"/>
<rect x="416.03" y="348.40" width="1.44" height="18.20" fill="#6ba24c"/>
<rect x="417.42" y="348.40" width="1.92" height="18.20" fill="#5e8e44"/>
<rect x="419.29" y="348.40" width="1.31" height="18.20" fill="#78b456"/>
<rect x="420.55" y="348.40" width="1.62" height="18.20" fill="#71ab51"/>
<rect x="422.12" y="348.40" width="1.62" height="18.20" fill="#7ebe5a"/>
<rect x="423.69" y="348.40" width="3.29" height="18.20" fill="#78b456"/>
<rect x="426.93" y="348.40" width="4.52" height="18.20" fill="#71ab51"/>
<rect x="431.40" y="348.40" width="1.08" height="18.20" fill="#3f5f2d"/>
<rect x="432.43" y="348.40" width="1.15" height="18.20" fill="#5e8e44"/>
<rect x="433.52" y="348.40" width="3.19" height="18.20" fill="#78b456"/>
<rect x="436.67" y="348.40" width="1.74" height="18.20" fill="#6ba24c"/>
<rect x="438.36" y="348.40" width="1.64" height="18.20" fill="#71ab51"/>
<rect x="439.95" y="348.40" width="1.01" height="18.20" fill="#78b456"/>
<rect x="440.90" y="348.40" width="1.42" height="18.20" fill="#7ebe5a"/>
<rect x="442.27" y="348.40" width="1.72" height="18.20" fill="#6ba24c"/>
<rect x="443.94" y="348.40" width="3.56" height="18.20" fill="#7ebe5a"/>
<rect x="447.45" y="348.40" width="1.81" height="18.20" fill="#090e07"/>
<rect x="449.21" y="348.40" width="1.79" height="18.20" fill="#6ba24c"/>
<rect x="450.95" y="348.40" width="1.50" height="18.20" fill="#7ebe5a"/>
<rect x="452.40" y="348.40" width="1.67" height="18.20" fill="#6ba24c"/>
<rect x="454.02" y="348.40" width="1.51" height="18.20" fill="#78b456"/>
<rect x="455.48" y="348.40" width="1.37" height="18.20" fill="#6ba24c"/>
<rect x="456.79" y="348.40" width="5.85" height="18.20" fill="#7ebe5a"/>
<rect x="462.59" y="348.40" width="1.45" height="18.20" fill="#3f5f2d"/>
<rect x="463.99" y="348.40" width="2.71" height="18.20" fill="#78b456"/>
<rect x="466.65" y="348.40" width="1.72" height="18.20" fill="#6ba24c"/>
<rect x="468.32" y="348.40" width="1.72" height="18.20" fill="#71ab51"/>
<rect x="470.00" y="348.40" width="2.00" height="18.20" fill="#5e8e44"/>
<rect x="471.95" y="348.40" width="2.82" height="18.20" fill="#78b456"/>
<rect x="474.72" y="348.40" width="2.66" height="18.20" fill="#6ba24c"/>
<rect x="477.33" y="348.40" width="1.77" height="18.20" fill="#71ab51"/>
<rect x="479.05" y="348.40" width="1.52" height="18.20" fill="#5e8e44"/>
<rect x="480.52" y="348.40" width="2.03" height="18.20" fill="#78b456"/>
<rect x="482.51" y="348.40" width="0.14" height="18.20" fill="#5e8e44"/>
</g>
<rect x="8.00" y="368.60" width="475.80" height="19.40" fill="#8a8a8a"/>
<g filter="url(#hb)">
<rect x="8.90" y="369.20" width="1.60" height="18.20" fill="#bb3429"/>
<rect x="10.45" y="369.20" width="3.71" height="18.20" fill="#a62e25"/>
<rect x="14.11" y="369.20" width="1.85" height="18.20" fill="#1a0706"/>
<rect x="15.90" y="369.20" width="1.91" height="18.20" fill="#b13127"/>
<rect x="17.76" y="369.20" width="1.68" height="18.20" fill="#8c271f"/>
<rect x="19.40" y="369.20" width="1.12" height="18.20" fill="#a62e25"/>
<rect x="20.47" y="369.20" width="1.03" height="18.20" fill="#c6372c"/>
<rect x="21.45" y="369.20" width="1.14" height="18.20" fill="#d03a2e"/>
<rect x="22.54" y="369.20" width="1.51" height="18.20" fill="#c6372c"/>
<rect x="23.99" y="369.20" width="1.48" height="18.20" fill="#b13127"/>
<rect x="25.42" y="369.20" width="1.67" height="18.20" fill="#8c271f"/>
<rect x="27.04" y="369.20" width="1.02" height="18.20" fill="#d03a2e"/>
<rect x="28.00" y="369.20" width="1.19" height="18.20" fill="#b13127"/>
<rect x="29.15" y="369.20" width="0.97" height="18.20" fill="#a62e25"/>
<rect x="30.07" y="369.20" width="3.20" height="18.20" fill="#c6372c"/>
<rect x="33.22" y="369.20" width="1.20" height="18.20" fill="#8c271f"/>
<rect x="34.37" y="369.20" width="1.55" height="18.20" fill="#d03a2e"/>
<rect x="35.87" y="369.20" width="1.07" height="18.20" fill="#8c271f"/>
<rect x="36.89" y="369.20" width="3.01" height="18.20" fill="#bb3429"/>
<rect x="39.85" y="369.20" width="1.67" height="18.20" fill="#d03a2e"/>
<rect x="41.47" y="369.20" width="1.82" height="18.20" fill="#b13127"/>
<rect x="43.24" y="369.20" width="1.98" height="18.20" fill="#a62e25"/>
<rect x="45.17" y="369.20" width="4.51" height="18.20" fill="#d03a2e"/>
<rect x="49.63" y="369.20" width="1.86" height="18.20" fill="#b13127"/>
<rect x="51.44" y="369.20" width="1.52" height="18.20" fill="#78211a"/>
<rect x="52.91" y="369.20" width="1.06" height="18.20" fill="#a62e25"/>
<rect x="53.91" y="369.20" width="1.82" height="18.20" fill="#8c271f"/>
<rect x="55.69" y="369.20" width="0.95" height="18.20" fill="#bb3429"/>
<rect x="56.59" y="369.20" width="2.00" height="18.20" fill="#a62e25"/>
<rect x="58.54" y="369.20" width="1.72" height="18.20" fill="#b13127"/>
<rect x="60.21" y="369.20" width="1.81" height="18.20" fill="#d03a2e"/>
<rect x="61.97" y="369.20" width="1.95" height="18.20" fill="#78211a"/>
<rect x="63.87" y="369.20" width="1.68" height="18.20" fill="#a62e25"/>
<rect x="65.50" y="369.20" width="3.44" height="18.20" fill="#8c271f"/>
<rect x="68.89" y="369.20" width="1.92" height="18.20" fill="#78211a"/>
<rect x="70.76" y="369.20" width="1.43" height="18.20" fill="#c6372c"/>
<rect x="72.14" y="369.20" width="1.12" height="18.20" fill="#b13127"/>
<rect x="73.21" y="369.20" width="1.36" height="18.20" fill="#a62e25"/>
<rect x="74.52" y="369.20" width="1.35" height="18.20" fill="#b13127"/>
<rect x="75.82" y="369.20" width="1.87" height="18.20" fill="#d03a2e"/>
<rect x="77.64" y="369.20" width="2.94" height="18.20" fill="#bb3429"/>
<rect x="80.53" y="369.20" width="1.40" height="18.20" fill="#b13127"/>
<rect x="81.88" y="369.20" width="1.57" height="18.20" fill="#1a0706"/>
<rect x="83.40" y="369.20" width="2.02" height="18.20" fill="#b13127"/>
<rect x="85.37" y="369.20" width="1.80" height="18.20" fill="#c6372c"/>
<rect x="87.12" y="369.20" width="1.05" height="18.20" fill="#4e1611"/>
<rect x="88.13" y="369.20" width="4.54" height="18.20" fill="#d03a2e"/>
<rect x="92.62" y="369.20" width="1.21" height="18.20" fill="#b13127"/>
<rect x="93.78" y="369.20" width="1.68" height="18.20" fill="#a62e25"/>
<rect x="95.41" y="369.20" width="1.51" height="18.20" fill="#bb3429"/>
<rect x="96.87" y="369.20" width="2.58" height="18.20" fill="#b13127"/>
<rect x="99.40" y="369.20" width="1.22" height="18.20" fill="#a62e25"/>
<rect x="100.57" y="369.20" width="1.60" height="18.20" fill="#d03a2e"/>
<rect x="102.12" y="369.20" width="1.46" height="18.20" fill="#b13127"/>
<rect x="103.53" y="369.20" width="2.04" height="18.20" fill="#8c271f"/>
<rect x="105.52" y="369.20" width="1.60" height="18.20" fill="#b13127"/>
<rect x="107.07" y="369.20" width="1.14" height="18.20" fill="#4e1611"/>
<rect x="108.16" y="369.20" width="2.12" height="18.20" fill="#8c271f"/>
<rect x="110.22" y="369.20" width="5.18" height="18.20" fill="#b13127"/>
<rect x="115.36" y="369.20" width="1.11" height="18.20" fill="#bb3429"/>
<rect x="116.41" y="369.20" width="2.66" height="18.20" fill="#a62e25"/>
<rect x="119.03" y="369.20" width="3.59" height="18.20" fill="#8c271f"/>
<rect x="122.56" y="369.20" width="1.73" height="18.20" fill="#78211a"/>
<rect x="124.25" y="369.20" width="1.08" height="18.20" fill="#b13127"/>
<rect x="125.28" y="369.20" width="1.85" height="18.20" fill="#8c271f"/>
<rect x="127.08" y="369.20" width="1.20" height="18.20" fill="#c6372c"/>
<rect x="128.24" y="369.20" width="1.83" height="18.20" fill="#bb3429"/>
<rect x="130.01" y="369.20" width="1.07" height="18.20" fill="#b13127"/>
<rect x="131.03" y="369.20" width="1.76" height="18.20" fill="#bb3429"/>
<rect x="132.74" y="369.20" width="2.59" height="18.20" fill="#b13127"/>
<rect x="135.28" y="369.20" width="1.63" height="18.20" fill="#1a0706"/>
<rect x="136.86" y="369.20" width="1.40" height="18.20" fill="#a62e25"/>
<rect x="138.21" y="369.20" width="1.49" height="18.20" fill="#b13127"/>
<rect x="139.65" y="369.20" width="1.95" height="18.20" fill="#a62e25"/>
<rect x="141.55" y="369.20" width="1.55" height="18.20" fill="#bb3429"/>
<rect x="143.05" y="369.20" width="1.79" height="18.20" fill="#a62e25"/>
<rect x="144.79" y="369.20" width="1.80" height="18.20" fill="#78211a"/>
<rect x="146.54" y="369.20" width="1.38" height="18.20" fill="#bb3429"/>
<rect x="147.87" y="369.20" width="1.28" height="18.20" fill="#d03a2e"/>
<rect x="149.10" y="369.20" width="1.19" height="18.20" fill="#c6372c"/>
<rect x="150.24" y="369.20" width="1.54" height="18.20" fill="#d03a2e"/>
<rect x="151.73" y="369.20" width="1.67" height="18.20" fill="#a62e25"/>
<rect x="153.35" y="369.20" width="1.41" height="18.20" fill="#8c271f"/>
<rect x="154.71" y="369.20" width="1.94" height="18.20" fill="#a62e25"/>
<rect x="156.60" y="369.20" width="1.17" height="18.20" fill="#d03a2e"/>
<rect x="157.72" y="369.20" width="2.04" height="18.20" fill="#4e1611"/>
<rect x="159.71" y="369.20" width="1.57" height="18.20" fill="#a62e25"/>
<rect x="161.23" y="369.20" width="3.08" height="18.20" fill="#d03a2e"/>
<rect x="164.26" y="369.20" width="1.97" height="18.20" fill="#78211a"/>
<rect x="166.18" y="369.20" width="1.06" height="18.20" fill="#b13127"/>
<rect x="167.19" y="369.20" width="1.64" height="18.20" fill="#c6372c"/>
<rect x="168.78" y="369.20" width="1.24" height="18.20" fill="#a62e25"/>
<rect x="169.97" y="369.20" width="1.61" height="18.20" fill="#d03a2e"/>
<rect x="171.53" y="369.20" width="2.18" height="18.20" fill="#a62e25"/>
<rect x="173.67" y="369.20" width="1.82" height="18.20" fill="#b13127"/>
<rect x="175.44" y="369.20" width="1.37" height="18.20" fill="#a62e25"/>
<rect x="176.76" y="369.20" width="1.66" height="18.20" fill="#c6372c"/>
<rect x="178.37" y="369.20" width="1.32" height="18.20" fill="#a62e25"/>
<rect x="179.64" y="369.20" width="2.32" height="18.20" fill="#b13127"/>
<rect x="181.91" y="369.20" width="1.53" height="18.20" fill="#a62e25"/>
<rect x="183.40" y="369.20" width="1.13" height="18.20" fill="#d03a2e"/>
<rect x="184.47" y="369.20" width="1.37" height="18.20" fill="#78211a"/>
<rect x="185.80" y="369.20" width="1.30" height="18.20" fill="#bb3429"/>
<rect x="187.05" y="369.20" width="1.85" height="18.20" fill="#b13127"/>
<rect x="188.85" y="369.20" width="1.69" height="18.20" fill="#d03a2e"/>
<rect x="190.49" y="369.20" width="3.97" height="18.20" fill="#c6372c"/>
<rect x="194.41" y="369.20" width="2.00" height="18.20" fill="#4e1611"/>
<rect x="196.35" y="369.20" width="1.52" height="18.20" fill="#b13127"/>
<rect x="197.83" y="369.20" width="1.53" height="18.20" fill="#1a0706"/>
<rect x="199.31" y="369.20" width="3.07" height="18.20" fill="#bb3429"/>
<rect x="202.32" y="369.20" width="1.60" height="18.20" fill="#d03a2e"/>
<rect x="203.88" y="369.20" width="1.07" height="18.20" fill="#bb3429"/>
<rect x="204.89" y="369.20" width="1.71" height="18.20" fill="#a62e25"/>
<rect x="206.55" y="369.20" width="1.34" height="18.20" fill="#78211a"/>
<rect x="207.84" y="369.20" width="1.22" height="18.20" fill="#4e1611"/>
<rect x="209.01" y="369.20" width="2.01" height="18.20" fill="#8c271f"/>
<rect x="210.97" y="369.20" width="1.71" height="18.20" fill="#d03a2e"/>
<rect x="212.63" y="369.20" width="1.87" height="18.20" fill="#a62e25"/>
<rect x="214.46" y="369.20" width="1.18" height="18.20" fill="#c6372c"/>
<rect x="215.59" y="369.20" width="2.75" height="18.20" fill="#d03a2e"/>
<rect x="218.29" y="369.20" width="1.15" height="18.20" fill="#a62e25"/>
<rect x="219.39" y="369.20" width="1.08" height="18.20" fill="#c6372c"/>
<rect x="220.42" y="369.20" width="1.78" height="18.20" fill="#8c271f"/>
<rect x="222.16" y="369.20" width="1.33" height="18.20" fill="#1a0706"/>
<rect x="223.44" y="369.20" width="1.89" height="18.20" fill="#c6372c"/>
<rect x="225.28" y="369.20" width="1.18" height="18.20" fill="#8c271f"/>
<rect x="226.41" y="369.20" width="1.60" height="18.20" fill="#a62e25"/>
<rect x="227.96" y="369.20" width="1.84" height="18.20" fill="#c6372c"/>
<rect x="229.75" y="369.20" width="1.99" height="18.20" fill="#bb3429"/>
<rect x="231.69" y="369.20" width="1.66" height="18.20" fill="#d03a2e"/>
<rect x="233.30" y="369.20" width="1.36" height="18.20" fill="#4e1611"/>
<rect x="234.61" y="369.20" width="1.05" height="18.20" fill="#a62e25"/>
<rect x="235.61" y="369.20" width="1.58" height="18.20" fill="#c6372c"/>
<rect x="237.14" y="369.20" width="1.06" height="18.20" fill="#b13127"/>
<rect x="238.14" y="369.20" width="1.39" height="18.20" fill="#d03a2e"/>
<rect x="239.48" y="369.20" width="1.20" height="18.20" fill="#b13127"/>
<rect x="240.63" y="369.20" width="1.23" height="18.20" fill="#c6372c"/>
<rect x="241.80" y="369.20" width="0.99" height="18.20" fill="#b13127"/>
<rect x="242.74" y="369.20" width="1.11" height="18.20" fill="#bb3429"/>
<rect x="243.80" y="369.20" width="1.12" height="18.20" fill="#b13127"/>
<rect x="244.88" y="369.20" width="1.26" height="18.20" fill="#8c271f"/>
<rect x="246.09" y="369.20" width="1.26" height="18.20" fill="#b13127"/>
<rect x="247.30" y="369.20" width="2.05" height="18.20" fill="#8c271f"/>
<rect x="249.30" y="369.20" width="1.49" height="18.20" fill="#78b456"/>
<rect x="250.74" y="369.20" width="1.38" height="18.20" fill="#7ebe5a"/>
<rect x="252.07" y="369.20" width="1.04" height="18.20" fill="#6ba24c"/>
<rect x="253.07" y="369.20" width="1.10" height="18.20" fill="#71ab51"/>
<rect x="254.12" y="369.20" width="1.32" height="18.20" fill="#5e8e44"/>
<rect x="255.39" y="369.20" width="1.74" height="18.20" fill="#7ebe5a"/>
<rect x="257.08" y="369.20" width="1.63" height="18.20" fill="#71ab51"/>
<rect x="258.66" y="369.20" width="1.70" height="18.20" fill="#78b456"/>
<rect x="260.31" y="369.20" width="1.18" height="18.20" fill="#71ab51"/>
<rect x="261.44" y="369.20" width="1.55" height="18.20" fill="#6ba24c"/>
<rect x="262.95" y="369.20" width="1.86" height="18.20" fill="#7ebe5a"/>
<rect x="264.75" y="369.20" width="1.48" height="18.20" fill="#6ba24c"/>
<rect x="266.18" y="369.20" width="2.91" height="18.20" fill="#7ebe5a"/>
<rect x="269.04" y="369.20" width="1.95" height="18.20" fill="#78b456"/>
<rect x="270.94" y="369.20" width="1.85" height="18.20" fill="#527c3a"/>
<rect x="272.74" y="369.20" width="1.14" height="18.20" fill="#7ebe5a"/>
<rect x="273.83" y="369.20" width="1.04" height="18.20" fill="#71ab51"/>
<rect x="274.83" y="369.20" width="1.70" height="18.20" fill="#6ba24c"/>
<rect x="276.48" y="369.20" width="1.10" height="18.20" fill="#7ebe5a"/>
<rect x="277.53" y="369.20" width="1.78" height="18.20" fill="#78b456"/>
<rect x="279.27" y="369.20" width="4.87" height="18.20" fill="#6ba24c"/>
<rect x="284.08" y="369.20" width="1.94" height="18.20" fill="#78b456"/>
<rect x="285.97" y="369.20" width="1.75" height="18.20" fill="#527c3a"/>
<rect x="287.67" y="369.20" width="1.87" height="18.20" fill="#6ba24c"/>
<rect x="289.49" y="369.20" width="2.00" height="18.20" fill="#78b456"/>
<rect x="291.44" y="369.20" width="1.34" height="18.20" fill="#7ebe5a"/>
<rect x="292.73" y="369.20" width="3.55" height="18.20" fill="#5e8e44"/>
<rect x="296.23" y="369.20" width="1.72" height="18.20" fill="#6ba24c"/>
<rect x="297.90" y="369.20" width="1.39" height="18.20" fill="#71ab51"/>
<rect x="299.24" y="369.20" width="1.71" height="18.20" fill="#78b456"/>
<rect x="300.90" y="369.20" width="1.67" height="18.20" fill="#527c3a"/>
<rect x="302.52" y="369.20" width="1.08" height="18.20" fill="#78b456"/>
<rect x="303.54" y="369.20" width="1.90" height="18.20" fill="#5e8e44"/>
<rect x="305.40" y="369.20" width="1.06" height="18.20" fill="#7ebe5a"/>
<rect x="306.41" y="369.20" width="1.31" height="18.20" fill="#71ab51"/>
<rect x="307.66" y="369.20" width="1.10" height="18.20" fill="#6ba24c"/>
<rect x="308.72" y="369.20" width="3.06" height="18.20" fill="#7ebe5a"/>
<rect x="311.73" y="369.20" width="1.25" height="18.20" fill="#78b456"/>
<rect x="312.93" y="369.20" width="1.40" height="18.20" fill="#3f5f2d"/>
<rect x="314.28" y="369.20" width="3.86" height="18.20" fill="#6ba24c"/>
<rect x="318.09" y="369.20" width="1.17" height="18.20" fill="#71ab51"/>
<rect x="319.21" y="369.20" width="3.17" height="18.20" fill="#78b456"/>
<rect x="322.33" y="369.20" width="1.43" height="18.20" fill="#6ba24c"/>
<rect x="323.71" y="369.20" width="1.83" height="18.20" fill="#7ebe5a"/>
<rect x="325.48" y="369.20" width="1.51" height="18.20" fill="#5e8e44"/>
<rect x="326.95" y="369.20" width="1.48" height="18.20" fill="#7ebe5a"/>
<rect x="328.38" y="369.20" width="1.55" height="18.20" fill="#78b456"/>
<rect x="329.88" y="369.20" width="3.64" height="18.20" fill="#6ba24c"/>
<rect x="333.47" y="369.20" width="2.22" height="18.20" fill="#7ebe5a"/>
<rect x="335.64" y="369.20" width="3.47" height="18.20" fill="#71ab51"/>
<rect x="339.07" y="369.20" width="1.36" height="18.20" fill="#7ebe5a"/>
<rect x="340.38" y="369.20" width="1.83" height="18.20" fill="#5e8e44"/>
<rect x="342.16" y="369.20" width="1.70" height="18.20" fill="#71ab51"/>
<rect x="343.82" y="369.20" width="1.45" height="18.20" fill="#3f5f2d"/>
<rect x="345.21" y="369.20" width="1.60" height="18.20" fill="#7ebe5a"/>
<rect x="346.76" y="369.20" width="1.46" height="18.20" fill="#5e8e44"/>
<rect x="348.17" y="369.20" width="1.80" height="18.20" fill="#7ebe5a"/>
<rect x="349.92" y="369.20" width="1.11" height="18.20" fill="#71ab51"/>
<rect x="350.98" y="369.20" width="1.72" height="18.20" fill="#7ebe5a"/>
<rect x="352.66" y="369.20" width="1.39" height="18.20" fill="#78b456"/>
<rect x="353.99" y="369.20" width="2.49" height="18.20" fill="#6ba24c"/>
<rect x="356.43" y="369.20" width="1.65" height="18.20" fill="#527c3a"/>
<rect x="358.03" y="369.20" width="1.34" height="18.20" fill="#71ab51"/>
<rect x="359.31" y="369.20" width="1.40" height="18.20" fill="#6ba24c"/>
<rect x="360.66" y="369.20" width="4.70" height="18.20" fill="#7ebe5a"/>
<rect x="365.31" y="369.20" width="1.23" height="18.20" fill="#6ba24c"/>
<rect x="366.49" y="369.20" width="1.22" height="18.20" fill="#78b456"/>
<rect x="367.66" y="369.20" width="1.18" height="18.20" fill="#6ba24c"/>
<rect x="368.79" y="369.20" width="4.02" height="18.20" fill="#7ebe5a"/>
<rect x="372.76" y="369.20" width="1.41" height="18.20" fill="#6ba24c"/>
<rect x="374.12" y="369.20" width="1.53" height="18.20" fill="#78b456"/>
<rect x="375.60" y="369.20" width="1.38" height="18.20" fill="#7ebe5a"/>
<rect x="376.93" y="369.20" width="1.08" height="18.20" fill="#78b456"/>
<rect x="377.95" y="369.20" width="1.15" height="18.20" fill="#6ba24c"/>
<rect x="379.06" y="369.20" width="1.63" height="18.20" fill="#78b456"/>
<rect x="380.64" y="369.20" width="1.70" height="18.20" fill="#7ebe5a"/>
<rect x="382.29" y="369.20" width="1.50" height="18.20" fill="#5e8e44"/>
<rect x="383.74" y="369.20" width="4.40" height="18.20" fill="#7ebe5a"/>
<rect x="388.08" y="369.20" width="1.13" height="18.20" fill="#71ab51"/>
<rect x="389.16" y="369.20" width="1.49" height="18.20" fill="#7ebe5a"/>
<rect x="390.60" y="369.20" width="1.49" height="18.20" fill="#5e8e44"/>
<rect x="392.04" y="369.20" width="1.44" height="18.20" fill="#71ab51"/>
<rect x="393.43" y="369.20" width="2.02" height="18.20" fill="#7ebe5a"/>
<rect x="395.40" y="369.20" width="1.34" height="18.20" fill="#5e8e44"/>
<rect x="396.69" y="369.20" width="1.28" height="18.20" fill="#78b456"/>
<rect x="397.92" y="369.20" width="2.29" height="18.20" fill="#7ebe5a"/>
<rect x="400.17" y="369.20" width="2.03" height="18.20" fill="#6ba24c"/>
<rect x="402.15" y="369.20" width="1.90" height="18.20" fill="#78b456"/>
<rect x="404.00" y="369.20" width="1.76" height="18.20" fill="#6ba24c"/>
<rect x="405.71" y="369.20" width="1.33" height="18.20" fill="#78b456"/>
<rect x="406.99" y="369.20" width="2.24" height="18.20" fill="#7ebe5a"/>
<rect x="409.18" y="369.20" width="1.14" height="18.20" fill="#78b456"/>
<rect x="410.26" y="369.20" width="2.05" height="18.20" fill="#7ebe5a"/>
<rect x="412.26" y="369.20" width="1.36" height="18.20" fill="#6ba24c"/>
<rect x="413.56" y="369.20" width="2.33" height="18.20" fill="#7ebe5a"/>
<rect x="415.84" y="369.20" width="1.82" height="18.20" fill="#3f5f2d"/>
<rect x="417.61" y="369.20" width="1.84" height="18.20" fill="#6ba24c"/>
<rect x="419.39" y="369.20" width="1.62" height="18.20" fill="#5e8e44"/>
<rect x="420.96" y="369.20" width="1.86" height="18.20" fill="#71ab51"/>
<rect x="422.78" y="369.20" width="2.03" height="18.20" fill="#527c3a"/>
<rect x="424.76" y="369.20" width="1.07" height="18.20" fill="#78b456"/>
<rect x="425.78" y="369.20" width="1.34" height="18.20" fill="#6ba24c"/>
<rect x="427.07" y="369.20" width="1.14" height="18.20" fill="#7ebe5a"/>
<rect x="428.16" y="369.20" width="3.56" height="18.20" fill="#71ab51"/>
<rect x="431.67" y="369.20" width="1.27" height="18.20" fill="#527c3a"/>
<rect x="432.89" y="369.20" width="2.76" height="18.20" fill="#5e8e44"/>
<rect x="435.59" y="369.20" width="1.03" height="18.20" fill="#71ab51"/>
<rect x="436.58" y="369.20" width="0.98" height="18.20" fill="#7ebe5a"/>
<rect x="437.51" y="369.20" width="1.82" height="18.20" fill="#5e8e44"/>
<rect x="439.28" y="369.20" width="1.99" height="18.20" fill="#78b456"/>
<rect x="441.22" y="369.20" width="1.12" height="18.20" fill="#71ab51"/>
<rect x="442.29" y="369.20" width="3.18" height="18.20" fill="#78b456"/>
<rect x="445.42" y="369.20" width="1.55" height="18.20" fill="#71ab51"/>
<rect x="446.92" y="369.20" width="1.09" height="18.20" fill="#78b456"/>
<rect x="447.96" y="369.20" width="1.05" height="18.20" fill="#527c3a"/>
<rect x="448.96" y="369.20" width="2.91" height="18.20" fill="#78b456"/>
<rect x="451.82" y="369.20" width="1.78" height="18.20" fill="#71ab51"/>
<rect x="453.55" y="369.20" width="3.27" height="18.20" fill="#78b456"/>
<rect x="456.77" y="369.20" width="1.65" height="18.20" fill="#527c3a"/>
<rect x="458.37" y="369.20" width="2.66" height="18.20" fill="#71ab51"/>
<rect x="460.98" y="369.20" width="3.42" height="18.20" fill="#78b456"/>
<rect x="464.35" y="369.20" width="1.55" height="18.20" fill="#71ab51"/>
<rect x="465.85" y="369.20" width="1.48" height="18.20" fill="#6ba24c"/>
<rect x="467.28" y="369.20" width="1.70" height="18.20" fill="#527c3a"/>
<rect x="468.93" y="369.20" width="2.47" height="18.20" fill="#6ba24c"/>
<rect x="471.35" y="369.20" width="2.85" height="18.20" fill="#5e8e44"/>
<rect x="474.15" y="369.20" width="3.62" height="18.20" fill="#7ebe5a"/>
<rect x="477.73" y="369.20" width="4.07" height="18.20" fill="#5e8e44"/>
<rect x="481.75" y="369.20" width="0.90" height="18.20" fill="#71ab51"/>
</g>
<text x="494.3" y="341.00" class="rl">MLL</text>
<text x="494.3" y="361.35" class="rl">B/T</text>
<text x="494.3" y="381.70" class="rl">proB</text>
<text x="198.6" y="399.8" class="lt">+2</text>
<text x="257" y="399.8" class="lt" text-anchor="middle">log2 change</text>
<text x="311.5" y="399.8" class="lt" text-anchor="end">-2</text>
<defs><linearGradient id="lg2237" x1="0" x2="1" y1="0" y2="0"><stop offset="0" stop-color="#d8462e"/><stop offset="0.42" stop-color="#c83c28"/><stop offset="0.52" stop-color="#3c0f0a"/><stop offset="0.6" stop-color="#050505"/><stop offset="0.66" stop-color="#285023"/><stop offset="0.72" stop-color="#7ebe5a"/><stop offset="1" stop-color="#7ebe5a"/></linearGradient></defs>
<rect x="202.20" y="403.40" width="108.00" height="4.6" fill="url(#lg2237)" stroke="#333" stroke-width="0.7"/>
<rect x="8.00" y="410.30" width="475.80" height="19.20" fill="#8a8a8a"/>
<g filter="url(#hb2)">
<rect x="8.90" y="410.90" width="22.69" height="18.00" fill="#d8462e"/>
<rect x="31.54" y="410.90" width="7.10" height="18.00" fill="#7ebe5a"/>
<rect x="38.59" y="410.90" width="5.63" height="18.00" fill="#cd422c"/>
<rect x="44.18" y="410.90" width="2.45" height="18.00" fill="#612015"/>
<rect x="46.57" y="410.90" width="2.33" height="18.00" fill="#2b0e09"/>
<rect x="48.85" y="410.90" width="1.76" height="18.00" fill="#b83c27"/>
<rect x="50.56" y="410.90" width="2.20" height="18.00" fill="#200a07"/>
<rect x="52.71" y="410.90" width="3.75" height="18.00" fill="#ad3825"/>
<rect x="56.41" y="410.90" width="1.63" height="18.00" fill="#cd422c"/>
<rect x="57.99" y="410.90" width="1.47" height="18.00" fill="#659848"/>
<rect x="59.41" y="410.90" width="1.76" height="18.00" fill="#7ebe5a"/>
<rect x="61.12" y="410.90" width="1.97" height="18.00" fill="#a23422"/>
<rect x="63.04" y="410.90" width="2.65" height="18.00" fill="#203016"/>
<rect x="65.64" y="410.90" width="2.34" height="18.00" fill="#659848"/>
<rect x="67.93" y="410.90" width="2.40" height="18.00" fill="#561c12"/>
<rect x="70.28" y="410.90" width="1.51" height="18.00" fill="#822a1c"/>
<rect x="71.73" y="410.90" width="3.15" height="18.00" fill="#78b456"/>
<rect x="74.83" y="410.90" width="2.09" height="18.00" fill="#561c12"/>
<rect x="76.87" y="410.90" width="1.11" height="18.00" fill="#cd422c"/>
<rect x="77.93" y="410.90" width="1.78" height="18.00" fill="#a23422"/>
<rect x="79.66" y="410.90" width="1.88" height="18.00" fill="#200a07"/>
<rect x="81.50" y="410.90" width="1.64" height="18.00" fill="#000000"/>
<rect x="83.09" y="410.90" width="2.53" height="18.00" fill="#200a07"/>
<rect x="85.56" y="410.90" width="1.94" height="18.00" fill="#4c7236"/>
<rect x="87.45" y="410.90" width="1.79" height="18.00" fill="#000000"/>
<rect x="89.20" y="410.90" width="1.64" height="18.00" fill="#cd422c"/>
<rect x="90.79" y="410.90" width="2.56" height="18.00" fill="#a23422"/>
<rect x="93.30" y="410.90" width="1.19" height="18.00" fill="#200a07"/>
<rect x="94.44" y="410.90" width="1.85" height="18.00" fill="#561c12"/>
<rect x="96.25" y="410.90" width="1.41" height="18.00" fill="#7ebe5a"/>
<rect x="97.61" y="410.90" width="1.98" height="18.00" fill="#822a1c"/>
<rect x="99.54" y="410.90" width="2.10" height="18.00" fill="#78b456"/>
<rect x="101.58" y="410.90" width="2.45" height="18.00" fill="#6ea64f"/>
<rect x="103.98" y="410.90" width="1.36" height="18.00" fill="#659848"/>
<rect x="105.29" y="410.90" width="1.23" height="18.00" fill="#203016"/>
<rect x="106.47" y="410.90" width="1.90" height="18.00" fill="#395628"/>
<rect x="108.32" y="410.90" width="1.59" height="18.00" fill="#131c0e"/>
<rect x="109.86" y="410.90" width="1.73" height="18.00" fill="#395628"/>
<rect x="111.54" y="410.90" width="1.94" height="18.00" fill="#6ea64f"/>
<rect x="113.43" y="410.90" width="1.11" height="18.00" fill="#561c12"/>
<rect x="114.50" y="410.90" width="3.08" height="18.00" fill="#659848"/>
<rect x="117.53" y="410.90" width="2.58" height="18.00" fill="#7ebe5a"/>
<rect x="120.06" y="410.90" width="1.90" height="18.00" fill="#203016"/>
<rect x="121.91" y="410.90" width="1.23" height="18.00" fill="#78b456"/>
<rect x="123.09" y="410.90" width="2.44" height="18.00" fill="#7ebe5a"/>
<rect x="125.47" y="410.90" width="2.33" height="18.00" fill="#659848"/>
<rect x="127.75" y="410.90" width="2.19" height="18.00" fill="#4c7236"/>
<rect x="129.90" y="410.90" width="2.25" height="18.00" fill="#000000"/>
<rect x="132.10" y="410.90" width="1.77" height="18.00" fill="#a23422"/>
<rect x="133.81" y="410.90" width="2.63" height="18.00" fill="#131c0e"/>
<rect x="136.40" y="410.90" width="2.48" height="18.00" fill="#cd422c"/>
<rect x="138.83" y="410.90" width="2.00" height="18.00" fill="#200a07"/>
<rect x="140.78" y="410.90" width="1.92" height="18.00" fill="#7ebe5a"/>
<rect x="142.65" y="410.90" width="1.14" height="18.00" fill="#131c0e"/>
<rect x="143.74" y="410.90" width="2.19" height="18.00" fill="#36120c"/>
<rect x="145.88" y="410.90" width="1.16" height="18.00" fill="#822a1c"/>
<rect x="146.99" y="410.90" width="3.63" height="18.00" fill="#78b456"/>
<rect x="150.57" y="410.90" width="1.85" height="18.00" fill="#203016"/>
<rect x="152.36" y="410.90" width="2.55" height="18.00" fill="#cd422c"/>
<rect x="154.86" y="410.90" width="4.39" height="18.00" fill="#203016"/>
<rect x="159.21" y="410.90" width="2.63" height="18.00" fill="#7ebe5a"/>
<rect x="161.79" y="410.90" width="2.52" height="18.00" fill="#36120c"/>
<rect x="164.26" y="410.90" width="2.03" height="18.00" fill="#4c7236"/>
<rect x="166.25" y="410.90" width="1.07" height="18.00" fill="#561c12"/>
<rect x="167.27" y="410.90" width="2.20" height="18.00" fill="#6ea64f"/>
<rect x="169.42" y="410.90" width="2.53" height="18.00" fill="#203016"/>
<rect x="171.90" y="410.90" width="2.02" height="18.00" fill="#78b456"/>
<rect x="173.87" y="410.90" width="1.44" height="18.00" fill="#000000"/>
<rect x="175.26" y="410.90" width="1.55" height="18.00" fill="#4c7236"/>
<rect x="176.75" y="410.90" width="1.33" height="18.00" fill="#6ea64f"/>
<rect x="178.04" y="410.90" width="2.48" height="18.00" fill="#131c0e"/>
<rect x="180.46" y="410.90" width="1.89" height="18.00" fill="#78b456"/>
<rect x="182.30" y="410.90" width="2.61" height="18.00" fill="#659848"/>
<rect x="184.86" y="410.90" width="1.34" height="18.00" fill="#6ea64f"/>
<rect x="186.16" y="410.90" width="1.35" height="18.00" fill="#7ebe5a"/>
<rect x="187.46" y="410.90" width="2.32" height="18.00" fill="#6ea64f"/>
<rect x="189.73" y="410.90" width="1.41" height="18.00" fill="#822a1c"/>
<rect x="191.09" y="410.90" width="1.31" height="18.00" fill="#b83c27"/>
<rect x="192.35" y="410.90" width="1.60" height="18.00" fill="#d8462e"/>
<rect x="193.90" y="410.90" width="2.21" height="18.00" fill="#a23422"/>
<rect x="196.07" y="410.90" width="2.19" height="18.00" fill="#36120c"/>
<rect x="198.21" y="410.90" width="2.32" height="18.00" fill="#712518"/>
<rect x="200.48" y="410.90" width="2.06" height="18.00" fill="#c8412b"/>
<rect x="202.49" y="410.90" width="2.23" height="18.00" fill="#612015"/>
<rect x="204.68" y="410.90" width="2.47" height="18.00" fill="#a23422"/>
<rect x="207.10" y="410.90" width="2.08" height="18.00" fill="#922f1f"/>
<rect x="209.13" y="410.90" width="2.63" height="18.00" fill="#8a7436"/>
<rect x="211.70" y="410.90" width="2.34" height="18.00" fill="#36120c"/>
<rect x="213.99" y="410.90" width="4.68" height="18.00" fill="#c8412b"/>
<rect x="218.62" y="410.90" width="1.56" height="18.00" fill="#36120c"/>
<rect x="220.13" y="410.90" width="1.23" height="18.00" fill="#71ab51"/>
<rect x="221.31" y="410.90" width="1.06" height="18.00" fill="#822a1c"/>
<rect x="222.33" y="410.90" width="2.14" height="18.00" fill="#612015"/>
<rect x="224.42" y="410.90" width="2.44" height="18.00" fill="#8a7436"/>
<rect x="226.81" y="410.90" width="1.54" height="18.00" fill="#71ab51"/>
<rect x="228.29" y="410.90" width="2.46" height="18.00" fill="#612015"/>
<rect x="230.70" y="410.90" width="2.10" height="18.00" fill="#36120c"/>
<rect x="232.75" y="410.90" width="1.67" height="18.00" fill="#822a1c"/>
<rect x="234.37" y="410.90" width="2.09" height="18.00" fill="#4c1810"/>
<rect x="236.41" y="410.90" width="1.71" height="18.00" fill="#822a1c"/>
<rect x="238.07" y="410.90" width="2.10" height="18.00" fill="#200a07"/>
<rect x="240.12" y="410.90" width="1.11" height="18.00" fill="#4c1810"/>
<rect x="241.17" y="410.90" width="2.00" height="18.00" fill="#712518"/>
<rect x="243.12" y="410.90" width="1.48" height="18.00" fill="#4c1810"/>
<rect x="244.55" y="410.90" width="1.37" height="18.00" fill="#71ab51"/>
<rect x="245.87" y="410.90" width="1.18" height="18.00" fill="#a23422"/>
<rect x="247.01" y="410.90" width="1.45" height="18.00" fill="#9c7a3c"/>
<rect x="248.41" y="410.90" width="2.16" height="18.00" fill="#36120c"/>
<rect x="250.52" y="410.90" width="1.66" height="18.00" fill="#822a1c"/>
<rect x="252.13" y="410.90" width="4.61" height="18.00" fill="#d8462e"/>
<rect x="256.69" y="410.90" width="1.24" height="18.00" fill="#737a36"/>
<rect x="257.88" y="410.90" width="2.06" height="18.00" fill="#b83c27"/>
<rect x="259.90" y="410.90" width="2.09" height="18.00" fill="#922f1f"/>
<rect x="261.94" y="410.90" width="2.16" height="18.00" fill="#d8462e"/>
<rect x="264.05" y="410.90" width="2.55" height="18.00" fill="#4c7236"/>
<rect x="266.54" y="410.90" width="1.56" height="18.00" fill="#b83c27"/>
<rect x="268.05" y="410.90" width="1.06" height="18.00" fill="#c8412b"/>
<rect x="269.07" y="410.90" width="1.71" height="18.00" fill="#9c7a3c"/>
<rect x="270.72" y="410.90" width="3.19" height="18.00" fill="#822a1c"/>
<rect x="273.86" y="410.90" width="1.46" height="18.00" fill="#737a36"/>
<rect x="275.26" y="410.90" width="1.24" height="18.00" fill="#a23422"/>
<rect x="276.45" y="410.90" width="1.63" height="18.00" fill="#922f1f"/>
<rect x="278.03" y="410.90" width="2.02" height="18.00" fill="#4c7236"/>
<rect x="280.00" y="410.90" width="1.94" height="18.00" fill="#5e8e44"/>
<rect x="281.89" y="410.90" width="1.67" height="18.00" fill="#b83c27"/>
<rect x="283.52" y="410.90" width="2.56" height="18.00" fill="#712518"/>
<rect x="286.02" y="410.90" width="2.08" height="18.00" fill="#612015"/>
<rect x="288.05" y="410.90" width="2.02" height="18.00" fill="#4c1810"/>
<rect x="290.03" y="410.90" width="1.38" height="18.00" fill="#712518"/>
<rect x="291.35" y="410.90" width="1.07" height="18.00" fill="#922f1f"/>
<rect x="292.37" y="410.90" width="2.10" height="18.00" fill="#4c7236"/>
<rect x="294.42" y="410.90" width="2.08" height="18.00" fill="#d8462e"/>
<rect x="296.45" y="410.90" width="2.05" height="18.00" fill="#922f1f"/>
<rect x="298.46" y="410.90" width="1.77" height="18.00" fill="#d8462e"/>
<rect x="300.17" y="410.90" width="1.83" height="18.00" fill="#a0683a"/>
<rect x="301.95" y="410.90" width="1.12" height="18.00" fill="#b83c27"/>
<rect x="303.02" y="410.90" width="1.92" height="18.00" fill="#c8412b"/>
<rect x="304.89" y="410.90" width="2.59" height="18.00" fill="#9c7a3c"/>
<rect x="307.42" y="410.90" width="1.26" height="18.00" fill="#a23422"/>
<rect x="308.63" y="410.90" width="1.66" height="18.00" fill="#d8462e"/>
<rect x="310.25" y="410.90" width="1.41" height="18.00" fill="#c8412b"/>
<rect x="311.61" y="410.90" width="1.75" height="18.00" fill="#5e8e44"/>
<rect x="313.30" y="410.90" width="1.65" height="18.00" fill="#c8412b"/>
<rect x="314.90" y="410.90" width="1.31" height="18.00" fill="#922f1f"/>
<rect x="316.17" y="410.90" width="1.63" height="18.00" fill="#5e8e44"/>
<rect x="317.75" y="410.90" width="2.45" height="18.00" fill="#c8412b"/>
<rect x="320.15" y="410.90" width="1.61" height="18.00" fill="#b83c27"/>
<rect x="321.71" y="410.90" width="1.16" height="18.00" fill="#a0683a"/>
<rect x="322.82" y="410.90" width="1.49" height="18.00" fill="#612015"/>
<rect x="324.26" y="410.90" width="2.03" height="18.00" fill="#922f1f"/>
<rect x="326.24" y="410.90" width="2.48" height="18.00" fill="#b83c27"/>
<rect x="328.68" y="410.90" width="1.44" height="18.00" fill="#a23422"/>
<rect x="330.06" y="410.90" width="2.09" height="18.00" fill="#4c7236"/>
<rect x="332.10" y="410.90" width="1.28" height="18.00" fill="#822a1c"/>
<rect x="333.33" y="410.90" width="2.19" height="18.00" fill="#a23422"/>
<rect x="335.47" y="410.90" width="1.27" height="18.00" fill="#922f1f"/>
<rect x="336.70" y="410.90" width="1.60" height="18.00" fill="#200a07"/>
<rect x="338.24" y="410.90" width="2.63" height="18.00" fill="#8a7436"/>
<rect x="340.82" y="410.90" width="2.34" height="18.00" fill="#712518"/>
<rect x="343.11" y="410.90" width="2.00" height="18.00" fill="#8a7436"/>
<rect x="345.06" y="410.90" width="1.42" height="18.00" fill="#a0683a"/>
<rect x="346.43" y="410.90" width="1.34" height="18.00" fill="#200a07"/>
<rect x="347.71" y="410.90" width="1.77" height="18.00" fill="#c8412b"/>
<rect x="349.43" y="410.90" width="1.75" height="18.00" fill="#5e8e44"/>
<rect x="351.13" y="410.90" width="1.17" height="18.00" fill="#36120c"/>
<rect x="352.25" y="410.90" width="1.89" height="18.00" fill="#737a36"/>
<rect x="354.09" y="410.90" width="1.16" height="18.00" fill="#a23422"/>
<rect x="355.20" y="410.90" width="2.37" height="18.00" fill="#c8412b"/>
<rect x="357.52" y="410.90" width="2.32" height="18.00" fill="#a23422"/>
<rect x="359.79" y="410.90" width="1.71" height="18.00" fill="#737a36"/>
<rect x="361.44" y="410.90" width="1.66" height="18.00" fill="#9c7a3c"/>
<rect x="363.05" y="410.90" width="2.25" height="18.00" fill="#737a36"/>
<rect x="365.25" y="410.90" width="1.20" height="18.00" fill="#a23422"/>
<rect x="366.40" y="410.90" width="1.06" height="18.00" fill="#c8412b"/>
<rect x="367.41" y="410.90" width="1.54" height="18.00" fill="#a0683a"/>
<rect x="368.90" y="410.90" width="2.63" height="18.00" fill="#a23422"/>
<rect x="371.48" y="410.90" width="1.09" height="18.00" fill="#5e8e44"/>
<rect x="372.53" y="410.90" width="2.34" height="18.00" fill="#d8462e"/>
<rect x="374.82" y="410.90" width="2.55" height="18.00" fill="#612015"/>
<rect x="377.31" y="410.90" width="1.73" height="18.00" fill="#922f1f"/>
<rect x="378.99" y="410.90" width="2.31" height="18.00" fill="#4c7236"/>
<rect x="381.25" y="410.90" width="2.41" height="18.00" fill="#822a1c"/>
<rect x="383.61" y="410.90" width="1.51" height="18.00" fill="#922f1f"/>
<rect x="385.08" y="410.90" width="1.51" height="18.00" fill="#4c7236"/>
<rect x="386.53" y="410.90" width="2.11" height="18.00" fill="#36120c"/>
<rect x="388.60" y="410.90" width="1.31" height="18.00" fill="#922f1f"/>
<rect x="389.85" y="410.90" width="2.33" height="18.00" fill="#c8412b"/>
<rect x="392.13" y="410.90" width="2.46" height="18.00" fill="#922f1f"/>
<rect x="394.55" y="410.90" width="2.53" height="18.00" fill="#c8412b"/>
<rect x="397.02" y="410.90" width="1.22" height="18.00" fill="#922f1f"/>
<rect x="398.20" y="410.90" width="2.09" height="18.00" fill="#71ab51"/>
<rect x="400.24" y="410.90" width="1.47" height="18.00" fill="#5e8e44"/>
<rect x="401.66" y="410.90" width="1.53" height="18.00" fill="#b83c27"/>
<rect x="403.14" y="410.90" width="1.44" height="18.00" fill="#8a7436"/>
<rect x="404.53" y="410.90" width="3.80" height="18.00" fill="#a23422"/>
<rect x="408.28" y="410.90" width="2.22" height="18.00" fill="#922f1f"/>
<rect x="410.46" y="410.90" width="2.08" height="18.00" fill="#712518"/>
<rect x="412.49" y="410.90" width="2.05" height="18.00" fill="#4c7236"/>
<rect x="414.49" y="410.90" width="2.43" height="18.00" fill="#922f1f"/>
<rect x="416.88" y="410.90" width="1.60" height="18.00" fill="#5e8e44"/>
<rect x="418.42" y="410.90" width="1.45" height="18.00" fill="#d8462e"/>
<rect x="419.82" y="410.90" width="1.94" height="18.00" fill="#b83c27"/>
<rect x="421.72" y="410.90" width="1.24" height="18.00" fill="#d8462e"/>
<rect x="422.91" y="410.90" width="3.81" height="18.00" fill="#a23422"/>
<rect x="426.67" y="410.90" width="1.99" height="18.00" fill="#712518"/>
<rect x="428.61" y="410.90" width="2.13" height="18.00" fill="#7ebe5a"/>
<rect x="430.70" y="410.90" width="1.97" height="18.00" fill="#527c3a"/>
<rect x="432.62" y="410.90" width="2.46" height="18.00" fill="#6ba24c"/>
<rect x="435.03" y="410.90" width="2.47" height="18.00" fill="#75b053"/>
<rect x="437.45" y="410.90" width="1.49" height="18.00" fill="#395628"/>
<rect x="438.89" y="410.90" width="1.42" height="18.00" fill="#75b053"/>
<rect x="440.27" y="410.90" width="1.82" height="18.00" fill="#203016"/>
<rect x="442.04" y="410.90" width="4.81" height="18.00" fill="#75b053"/>
<rect x="446.80" y="410.90" width="5.23" height="18.00" fill="#7ebe5a"/>
<rect x="451.99" y="410.90" width="2.10" height="18.00" fill="#395628"/>
<rect x="454.04" y="410.90" width="1.74" height="18.00" fill="#75b053"/>
<rect x="455.73" y="410.90" width="1.98" height="18.00" fill="#527c3a"/>
<rect x="457.66" y="410.90" width="1.38" height="18.00" fill="#75b053"/>
<rect x="458.99" y="410.90" width="4.20" height="18.00" fill="#6ba24c"/>
<rect x="463.14" y="410.90" width="1.48" height="18.00" fill="#527c3a"/>
<rect x="464.57" y="410.90" width="2.12" height="18.00" fill="#6ba24c"/>
<rect x="466.64" y="410.90" width="2.43" height="18.00" fill="#527c3a"/>
<rect x="469.02" y="410.90" width="1.10" height="18.00" fill="#7ebe5a"/>
<rect x="470.07" y="410.90" width="1.35" height="18.00" fill="#75b053"/>
<rect x="471.37" y="410.90" width="1.86" height="18.00" fill="#395628"/>
<rect x="473.18" y="410.90" width="3.89" height="18.00" fill="#7ebe5a"/>
<rect x="477.01" y="410.90" width="3.08" height="18.00" fill="#527c3a"/>
<rect x="480.04" y="410.90" width="2.61" height="18.00" fill="#7ebe5a"/>
</g>
<rect x="8.00" y="430.90" width="475.80" height="19.20" fill="#8a8a8a"/>
<g filter="url(#hb2)">
<rect x="8.90" y="431.50" width="1.61" height="18.00" fill="#78b456"/>
<rect x="10.46" y="431.50" width="2.64" height="18.00" fill="#395628"/>
<rect x="13.05" y="431.50" width="1.55" height="18.00" fill="#200a07"/>
<rect x="14.55" y="431.50" width="1.08" height="18.00" fill="#36120c"/>
<rect x="15.58" y="431.50" width="1.20" height="18.00" fill="#7ebe5a"/>
<rect x="16.72" y="431.50" width="1.39" height="18.00" fill="#395628"/>
<rect x="18.06" y="431.50" width="2.22" height="18.00" fill="#659848"/>
<rect x="20.23" y="431.50" width="2.40" height="18.00" fill="#203016"/>
<rect x="22.57" y="431.50" width="1.12" height="18.00" fill="#000000"/>
<rect x="23.64" y="431.50" width="1.43" height="18.00" fill="#395628"/>
<rect x="25.02" y="431.50" width="1.44" height="18.00" fill="#203016"/>
<rect x="26.41" y="431.50" width="2.31" height="18.00" fill="#395628"/>
<rect x="28.66" y="431.50" width="2.49" height="18.00" fill="#78b456"/>
<rect x="31.10" y="431.50" width="1.47" height="18.00" fill="#203016"/>
<rect x="32.52" y="431.50" width="1.21" height="18.00" fill="#659848"/>
<rect x="33.69" y="431.50" width="2.60" height="18.00" fill="#7ebe5a"/>
<rect x="36.23" y="431.50" width="2.60" height="18.00" fill="#36120c"/>
<rect x="38.79" y="431.50" width="119.46" height="18.00" fill="#d8462e"/>
<rect x="158.20" y="431.50" width="30.64" height="18.00" fill="#7ebe5a"/>
<rect x="188.79" y="431.50" width="2.03" height="18.00" fill="#4c1810"/>
<rect x="190.77" y="431.50" width="1.63" height="18.00" fill="#737a36"/>
<rect x="192.35" y="431.50" width="1.06" height="18.00" fill="#922f1f"/>
<rect x="193.36" y="431.50" width="2.38" height="18.00" fill="#612015"/>
<rect x="195.69" y="431.50" width="2.05" height="18.00" fill="#712518"/>
<rect x="197.69" y="431.50" width="2.63" height="18.00" fill="#d8462e"/>
<rect x="200.26" y="431.50" width="4.36" height="18.00" fill="#b83c27"/>
<rect x="204.58" y="431.50" width="2.29" height="18.00" fill="#200a07"/>
<rect x="206.81" y="431.50" width="2.64" height="18.00" fill="#5e8e44"/>
<rect x="209.40" y="431.50" width="1.79" height="18.00" fill="#712518"/>
<rect x="211.14" y="431.50" width="2.49" height="18.00" fill="#36120c"/>
<rect x="213.57" y="431.50" width="2.70" height="18.00" fill="#c8412b"/>
<rect x="216.23" y="431.50" width="1.57" height="18.00" fill="#4c1810"/>
<rect x="217.75" y="431.50" width="1.61" height="18.00" fill="#71ab51"/>
<rect x="219.31" y="431.50" width="2.64" height="18.00" fill="#b83c27"/>
<rect x="221.90" y="431.50" width="3.12" height="18.00" fill="#612015"/>
<rect x="224.97" y="431.50" width="2.16" height="18.00" fill="#d8462e"/>
<rect x="227.07" y="431.50" width="1.21" height="18.00" fill="#a23422"/>
<rect x="228.23" y="431.50" width="1.54" height="18.00" fill="#d8462e"/>
<rect x="229.72" y="431.50" width="1.68" height="18.00" fill="#612015"/>
<rect x="231.35" y="431.50" width="1.25" height="18.00" fill="#a23422"/>
<rect x="232.55" y="431.50" width="2.01" height="18.00" fill="#922f1f"/>
<rect x="234.51" y="431.50" width="1.73" height="18.00" fill="#d8462e"/>
<rect x="236.18" y="431.50" width="2.33" height="18.00" fill="#b83c27"/>
<rect x="238.47" y="431.50" width="1.59" height="18.00" fill="#8a7436"/>
<rect x="240.01" y="431.50" width="2.61" height="18.00" fill="#a23422"/>
<rect x="242.57" y="431.50" width="1.36" height="18.00" fill="#8a7436"/>
<rect x="243.89" y="431.50" width="1.90" height="18.00" fill="#922f1f"/>
<rect x="245.73" y="431.50" width="1.41" height="18.00" fill="#712518"/>
<rect x="247.10" y="431.50" width="1.07" height="18.00" fill="#a23422"/>
<rect x="248.12" y="431.50" width="1.53" height="18.00" fill="#5e8e44"/>
<rect x="249.60" y="431.50" width="2.48" height="18.00" fill="#712518"/>
<rect x="252.03" y="431.50" width="1.52" height="18.00" fill="#822a1c"/>
<rect x="253.50" y="431.50" width="1.83" height="18.00" fill="#9c7a3c"/>
<rect x="255.28" y="431.50" width="1.89" height="18.00" fill="#922f1f"/>
<rect x="257.12" y="431.50" width="1.48" height="18.00" fill="#b83c27"/>
<rect x="258.55" y="431.50" width="1.91" height="18.00" fill="#712518"/>
<rect x="260.40" y="431.50" width="1.15" height="18.00" fill="#4c7236"/>
<rect x="261.51" y="431.50" width="1.61" height="18.00" fill="#5e8e44"/>
<rect x="263.07" y="431.50" width="1.51" height="18.00" fill="#8a7436"/>
<rect x="264.52" y="431.50" width="2.35" height="18.00" fill="#36120c"/>
<rect x="266.83" y="431.50" width="2.28" height="18.00" fill="#4c1810"/>
<rect x="269.06" y="431.50" width="2.17" height="18.00" fill="#737a36"/>
<rect x="271.18" y="431.50" width="2.00" height="18.00" fill="#c8412b"/>
<rect x="273.13" y="431.50" width="2.44" height="18.00" fill="#200a07"/>
<rect x="275.52" y="431.50" width="2.24" height="18.00" fill="#4c1810"/>
<rect x="277.70" y="431.50" width="1.14" height="18.00" fill="#737a36"/>
<rect x="278.79" y="431.50" width="1.26" height="18.00" fill="#8a7436"/>
<rect x="280.00" y="431.50" width="2.25" height="18.00" fill="#4c1810"/>
<rect x="282.20" y="431.50" width="2.39" height="18.00" fill="#71ab51"/>
<rect x="284.54" y="431.50" width="2.63" height="18.00" fill="#8a7436"/>
<rect x="287.12" y="431.50" width="2.29" height="18.00" fill="#712518"/>
<rect x="289.36" y="431.50" width="1.30" height="18.00" fill="#200a07"/>
<rect x="290.62" y="431.50" width="1.96" height="18.00" fill="#9c7a3c"/>
<rect x="292.52" y="431.50" width="2.05" height="18.00" fill="#d8462e"/>
<rect x="294.52" y="431.50" width="2.02" height="18.00" fill="#36120c"/>
<rect x="296.49" y="431.50" width="1.27" height="18.00" fill="#a23422"/>
<rect x="297.71" y="431.50" width="2.60" height="18.00" fill="#b83c27"/>
<rect x="300.26" y="431.50" width="1.87" height="18.00" fill="#712518"/>
<rect x="302.07" y="431.50" width="1.48" height="18.00" fill="#822a1c"/>
<rect x="303.50" y="431.50" width="2.62" height="18.00" fill="#737a36"/>
<rect x="306.07" y="431.50" width="1.67" height="18.00" fill="#4c1810"/>
<rect x="307.69" y="431.50" width="1.16" height="18.00" fill="#712518"/>
<rect x="308.80" y="431.50" width="3.54" height="18.00" fill="#b83c27"/>
<rect x="312.29" y="431.50" width="1.40" height="18.00" fill="#922f1f"/>
<rect x="313.63" y="431.50" width="1.53" height="18.00" fill="#737a36"/>
<rect x="315.12" y="431.50" width="2.02" height="18.00" fill="#612015"/>
<rect x="317.09" y="431.50" width="1.56" height="18.00" fill="#b83c27"/>
<rect x="318.60" y="431.50" width="2.11" height="18.00" fill="#4c1810"/>
<rect x="320.66" y="431.50" width="2.50" height="18.00" fill="#612015"/>
<rect x="323.11" y="431.50" width="2.64" height="18.00" fill="#c8412b"/>
<rect x="325.70" y="431.50" width="2.47" height="18.00" fill="#5e8e44"/>
<rect x="328.12" y="431.50" width="2.52" height="18.00" fill="#922f1f"/>
<rect x="330.60" y="431.50" width="1.46" height="18.00" fill="#612015"/>
<rect x="332.00" y="431.50" width="2.37" height="18.00" fill="#c8412b"/>
<rect x="334.32" y="431.50" width="1.19" height="18.00" fill="#a23422"/>
<rect x="335.46" y="431.50" width="1.98" height="18.00" fill="#8a7436"/>
<rect x="337.39" y="431.50" width="1.17" height="18.00" fill="#9c7a3c"/>
<rect x="338.51" y="431.50" width="1.21" height="18.00" fill="#922f1f"/>
<rect x="339.67" y="431.50" width="2.57" height="18.00" fill="#712518"/>
<rect x="342.19" y="431.50" width="1.25" height="18.00" fill="#36120c"/>
<rect x="343.39" y="431.50" width="2.20" height="18.00" fill="#712518"/>
<rect x="345.54" y="431.50" width="1.89" height="18.00" fill="#200a07"/>
<rect x="347.38" y="431.50" width="1.05" height="18.00" fill="#822a1c"/>
<rect x="348.39" y="431.50" width="2.32" height="18.00" fill="#712518"/>
<rect x="350.66" y="431.50" width="1.15" height="18.00" fill="#36120c"/>
<rect x="351.75" y="431.50" width="2.47" height="18.00" fill="#d8462e"/>
<rect x="354.17" y="431.50" width="2.36" height="18.00" fill="#b83c27"/>
<rect x="356.48" y="431.50" width="1.84" height="18.00" fill="#200a07"/>
<rect x="358.28" y="431.50" width="1.76" height="18.00" fill="#d8462e"/>
<rect x="359.99" y="431.50" width="1.09" height="18.00" fill="#822a1c"/>
<rect x="361.03" y="431.50" width="2.17" height="18.00" fill="#922f1f"/>
<rect x="363.15" y="431.50" width="1.11" height="18.00" fill="#612015"/>
<rect x="364.22" y="431.50" width="1.89" height="18.00" fill="#71ab51"/>
<rect x="366.06" y="431.50" width="2.53" height="18.00" fill="#b83c27"/>
<rect x="368.54" y="431.50" width="3.32" height="18.00" fill="#d8462e"/>
<rect x="371.81" y="431.50" width="2.20" height="18.00" fill="#822a1c"/>
<rect x="373.96" y="431.50" width="2.17" height="18.00" fill="#c8412b"/>
<rect x="376.09" y="431.50" width="1.58" height="18.00" fill="#71ab51"/>
<rect x="377.61" y="431.50" width="2.28" height="18.00" fill="#612015"/>
<rect x="379.85" y="431.50" width="1.98" height="18.00" fill="#922f1f"/>
<rect x="381.77" y="431.50" width="1.71" height="18.00" fill="#d8462e"/>
<rect x="383.44" y="431.50" width="1.89" height="18.00" fill="#822a1c"/>
<rect x="385.28" y="431.50" width="1.49" height="18.00" fill="#200a07"/>
<rect x="386.72" y="431.50" width="3.93" height="18.00" fill="#b83c27"/>
<rect x="390.60" y="431.50" width="1.61" height="18.00" fill="#9c7a3c"/>
<rect x="392.16" y="431.50" width="2.28" height="18.00" fill="#a23422"/>
<rect x="394.39" y="431.50" width="1.64" height="18.00" fill="#d8462e"/>
<rect x="395.98" y="431.50" width="1.35" height="18.00" fill="#4c7236"/>
<rect x="397.28" y="431.50" width="1.05" height="18.00" fill="#d8462e"/>
<rect x="398.29" y="431.50" width="2.59" height="18.00" fill="#5e8e44"/>
<rect x="400.83" y="431.50" width="2.25" height="18.00" fill="#c8412b"/>
<rect x="403.03" y="431.50" width="2.62" height="18.00" fill="#822a1c"/>
<rect x="405.60" y="431.50" width="1.99" height="18.00" fill="#a23422"/>
<rect x="407.54" y="431.50" width="1.15" height="18.00" fill="#922f1f"/>
<rect x="408.64" y="431.50" width="1.31" height="18.00" fill="#a23422"/>
<rect x="409.90" y="431.50" width="1.13" height="18.00" fill="#d8462e"/>
<rect x="410.98" y="431.50" width="2.03" height="18.00" fill="#4c1810"/>
<rect x="412.96" y="431.50" width="2.05" height="18.00" fill="#c8412b"/>
<rect x="414.96" y="431.50" width="2.58" height="18.00" fill="#612015"/>
<rect x="417.49" y="431.50" width="1.52" height="18.00" fill="#b83c27"/>
<rect x="418.96" y="431.50" width="1.42" height="18.00" fill="#822a1c"/>
<rect x="420.33" y="431.50" width="1.40" height="18.00" fill="#922f1f"/>
<rect x="421.69" y="431.50" width="2.33" height="18.00" fill="#36120c"/>
<rect x="423.97" y="431.50" width="1.84" height="18.00" fill="#822a1c"/>
<rect x="425.76" y="431.50" width="1.72" height="18.00" fill="#922f1f"/>
<rect x="427.43" y="431.50" width="1.64" height="18.00" fill="#712518"/>
<rect x="429.02" y="431.50" width="2.57" height="18.00" fill="#527c3a"/>
<rect x="431.54" y="431.50" width="1.55" height="18.00" fill="#7ebe5a"/>
<rect x="433.04" y="431.50" width="2.37" height="18.00" fill="#75b053"/>
<rect x="435.37" y="431.50" width="1.90" height="18.00" fill="#527c3a"/>
<rect x="437.22" y="431.50" width="2.26" height="18.00" fill="#75b053"/>
<rect x="439.43" y="431.50" width="2.02" height="18.00" fill="#7ebe5a"/>
<rect x="441.41" y="431.50" width="2.45" height="18.00" fill="#527c3a"/>
<rect x="443.81" y="431.50" width="3.25" height="18.00" fill="#75b053"/>
<rect x="447.01" y="431.50" width="1.42" height="18.00" fill="#7ebe5a"/>
<rect x="448.38" y="431.50" width="2.15" height="18.00" fill="#75b053"/>
<rect x="450.48" y="431.50" width="5.94" height="18.00" fill="#6ba24c"/>
<rect x="456.37" y="431.50" width="1.30" height="18.00" fill="#203016"/>
<rect x="457.62" y="431.50" width="2.60" height="18.00" fill="#75b053"/>
<rect x="460.17" y="431.50" width="6.86" height="18.00" fill="#6ba24c"/>
<rect x="466.97" y="431.50" width="1.13" height="18.00" fill="#75b053"/>
<rect x="468.06" y="431.50" width="1.64" height="18.00" fill="#203016"/>
<rect x="469.65" y="431.50" width="2.51" height="18.00" fill="#75b053"/>
<rect x="472.10" y="431.50" width="1.16" height="18.00" fill="#7ebe5a"/>
<rect x="473.21" y="431.50" width="5.00" height="18.00" fill="#6ba24c"/>
<rect x="478.16" y="431.50" width="1.62" height="18.00" fill="#75b053"/>
<rect x="479.72" y="431.50" width="1.18" height="18.00" fill="#6ba24c"/>
<rect x="480.85" y="431.50" width="1.62" height="18.00" fill="#75b053"/>
<rect x="482.42" y="431.50" width="0.23" height="18.00" fill="#6ba24c"/>
</g>
<rect x="8.00" y="450.50" width="475.80" height="19.20" fill="#8a8a8a"/>
<g filter="url(#hb2)">
<rect x="8.90" y="451.10" width="1.30" height="18.00" fill="#6ea64f"/>
<rect x="10.15" y="451.10" width="2.25" height="18.00" fill="#36120c"/>
<rect x="12.36" y="451.10" width="1.83" height="18.00" fill="#7ebe5a"/>
<rect x="14.14" y="451.10" width="1.42" height="18.00" fill="#659848"/>
<rect x="15.51" y="451.10" width="1.14" height="18.00" fill="#7ebe5a"/>
<rect x="16.60" y="451.10" width="2.03" height="18.00" fill="#659848"/>
<rect x="18.58" y="451.10" width="1.14" height="18.00" fill="#200a07"/>
<rect x="19.67" y="451.10" width="1.58" height="18.00" fill="#395628"/>
<rect x="21.20" y="451.10" width="1.69" height="18.00" fill="#659848"/>
<rect x="22.84" y="451.10" width="1.21" height="18.00" fill="#203016"/>
<rect x="24.00" y="451.10" width="1.07" height="18.00" fill="#4c7236"/>
<rect x="25.02" y="451.10" width="2.54" height="18.00" fill="#000000"/>
<rect x="27.51" y="451.10" width="1.47" height="18.00" fill="#7ebe5a"/>
<rect x="28.93" y="451.10" width="2.46" height="18.00" fill="#78b456"/>
<rect x="31.34" y="451.10" width="1.10" height="18.00" fill="#4c7236"/>
<rect x="32.39" y="451.10" width="1.44" height="18.00" fill="#6ea64f"/>
<rect x="33.77" y="451.10" width="3.14" height="18.00" fill="#395628"/>
<rect x="36.86" y="451.10" width="2.05" height="18.00" fill="#561c12"/>
<rect x="38.86" y="451.10" width="1.45" height="18.00" fill="#6c2317"/>
<rect x="40.26" y="451.10" width="7.19" height="18.00" fill="#822a1c"/>
<rect x="47.41" y="451.10" width="1.23" height="18.00" fill="#6c2317"/>
<rect x="48.58" y="451.10" width="1.12" height="18.00" fill="#cd422c"/>
<rect x="49.65" y="451.10" width="1.10" height="18.00" fill="#4c7236"/>
<rect x="50.70" y="451.10" width="4.75" height="18.00" fill="#cd422c"/>
<rect x="55.40" y="451.10" width="1.99" height="18.00" fill="#561c12"/>
<rect x="57.34" y="451.10" width="1.57" height="18.00" fill="#200a07"/>
<rect x="58.87" y="451.10" width="1.79" height="18.00" fill="#a23422"/>
<rect x="60.61" y="451.10" width="2.43" height="18.00" fill="#395628"/>
<rect x="62.99" y="451.10" width="1.94" height="18.00" fill="#131c0e"/>
<rect x="64.88" y="451.10" width="1.42" height="18.00" fill="#659848"/>
<rect x="66.25" y="451.10" width="2.20" height="18.00" fill="#6ea64f"/>
<rect x="68.39" y="451.10" width="3.57" height="18.00" fill="#659848"/>
<rect x="71.91" y="451.10" width="1.74" height="18.00" fill="#6c2317"/>
<rect x="73.60" y="451.10" width="1.90" height="18.00" fill="#561c12"/>
<rect x="75.45" y="451.10" width="1.08" height="18.00" fill="#000000"/>
<rect x="76.48" y="451.10" width="2.35" height="18.00" fill="#7ebe5a"/>
<rect x="78.78" y="451.10" width="2.42" height="18.00" fill="#36120c"/>
<rect x="81.15" y="451.10" width="1.18" height="18.00" fill="#000000"/>
<rect x="82.28" y="451.10" width="1.41" height="18.00" fill="#131c0e"/>
<rect x="83.64" y="451.10" width="2.05" height="18.00" fill="#395628"/>
<rect x="85.64" y="451.10" width="1.45" height="18.00" fill="#659848"/>
<rect x="87.04" y="451.10" width="1.06" height="18.00" fill="#000000"/>
<rect x="88.06" y="451.10" width="1.64" height="18.00" fill="#561c12"/>
<rect x="89.65" y="451.10" width="2.52" height="18.00" fill="#a23422"/>
<rect x="92.12" y="451.10" width="2.22" height="18.00" fill="#822a1c"/>
<rect x="94.29" y="451.10" width="2.14" height="18.00" fill="#6ea64f"/>
<rect x="96.38" y="451.10" width="1.46" height="18.00" fill="#cd422c"/>
<rect x="97.79" y="451.10" width="1.07" height="18.00" fill="#203016"/>
<rect x="98.81" y="451.10" width="2.62" height="18.00" fill="#000000"/>
<rect x="101.38" y="451.10" width="1.47" height="18.00" fill="#4c7236"/>
<rect x="102.80" y="451.10" width="1.70" height="18.00" fill="#000000"/>
<rect x="104.45" y="451.10" width="2.29" height="18.00" fill="#7ebe5a"/>
<rect x="106.69" y="451.10" width="1.57" height="18.00" fill="#822a1c"/>
<rect x="108.21" y="451.10" width="1.70" height="18.00" fill="#561c12"/>
<rect x="109.86" y="451.10" width="1.16" height="18.00" fill="#cd422c"/>
<rect x="110.97" y="451.10" width="2.39" height="18.00" fill="#7ebe5a"/>
<rect x="113.31" y="451.10" width="2.40" height="18.00" fill="#395628"/>
<rect x="115.66" y="451.10" width="1.40" height="18.00" fill="#78b456"/>
<rect x="117.01" y="451.10" width="1.62" height="18.00" fill="#6c2317"/>
<rect x="118.58" y="451.10" width="2.32" height="18.00" fill="#203016"/>
<rect x="120.85" y="451.10" width="1.53" height="18.00" fill="#a23422"/>
<rect x="122.33" y="451.10" width="2.38" height="18.00" fill="#7ebe5a"/>
<rect x="124.65" y="451.10" width="1.78" height="18.00" fill="#395628"/>
<rect x="126.39" y="451.10" width="1.98" height="18.00" fill="#000000"/>
<rect x="128.32" y="451.10" width="2.46" height="18.00" fill="#200a07"/>
<rect x="130.73" y="451.10" width="1.08" height="18.00" fill="#395628"/>
<rect x="131.76" y="451.10" width="3.39" height="18.00" fill="#659848"/>
<rect x="135.10" y="451.10" width="2.19" height="18.00" fill="#200a07"/>
<rect x="137.24" y="451.10" width="1.92" height="18.00" fill="#6ea64f"/>
<rect x="139.11" y="451.10" width="1.88" height="18.00" fill="#200a07"/>
<rect x="140.94" y="451.10" width="1.64" height="18.00" fill="#203016"/>
<rect x="142.53" y="451.10" width="2.19" height="18.00" fill="#78b456"/>
<rect x="144.68" y="451.10" width="1.84" height="18.00" fill="#6c2317"/>
<rect x="146.46" y="451.10" width="2.02" height="18.00" fill="#6ea64f"/>
<rect x="148.43" y="451.10" width="2.26" height="18.00" fill="#000000"/>
<rect x="150.64" y="451.10" width="1.74" height="18.00" fill="#cd422c"/>
<rect x="152.33" y="451.10" width="2.00" height="18.00" fill="#395628"/>
<rect x="154.28" y="451.10" width="1.18" height="18.00" fill="#200a07"/>
<rect x="155.40" y="451.10" width="1.62" height="18.00" fill="#203016"/>
<rect x="156.97" y="451.10" width="1.97" height="18.00" fill="#000000"/>
<rect x="158.89" y="451.10" width="2.50" height="18.00" fill="#78b456"/>
<rect x="161.34" y="451.10" width="1.68" height="18.00" fill="#561c12"/>
<rect x="162.97" y="451.10" width="4.60" height="18.00" fill="#7ebe5a"/>
<rect x="167.52" y="451.10" width="1.27" height="18.00" fill="#131c0e"/>
<rect x="168.74" y="451.10" width="1.94" height="18.00" fill="#4c7236"/>
<rect x="170.63" y="451.10" width="3.70" height="18.00" fill="#6ea64f"/>
<rect x="174.28" y="451.10" width="2.27" height="18.00" fill="#36120c"/>
<rect x="176.50" y="451.10" width="3.12" height="18.00" fill="#6ea64f"/>
<rect x="179.57" y="451.10" width="1.93" height="18.00" fill="#131c0e"/>
<rect x="181.45" y="451.10" width="3.52" height="18.00" fill="#659848"/>
<rect x="184.92" y="451.10" width="1.08" height="18.00" fill="#395628"/>
<rect x="185.95" y="451.10" width="1.86" height="18.00" fill="#6ea64f"/>
<rect x="187.76" y="451.10" width="191.46" height="18.00" fill="#d8462e"/>
<rect x="379.16" y="451.10" width="1.48" height="18.00" fill="#8c2e1e"/>
<rect x="380.59" y="451.10" width="48.95" height="18.00" fill="#d8462e"/>
<rect x="429.49" y="451.10" width="53.16" height="18.00" fill="#7ebe5a"/>
</g>
<text x="494.3" y="424.40" class="rl">MLL</text>
<text x="494.3" y="444.75" class="rl">B/T</text>
<text x="494.3" y="465.10" class="rl">proB</text>
</svg>
</body></html>
